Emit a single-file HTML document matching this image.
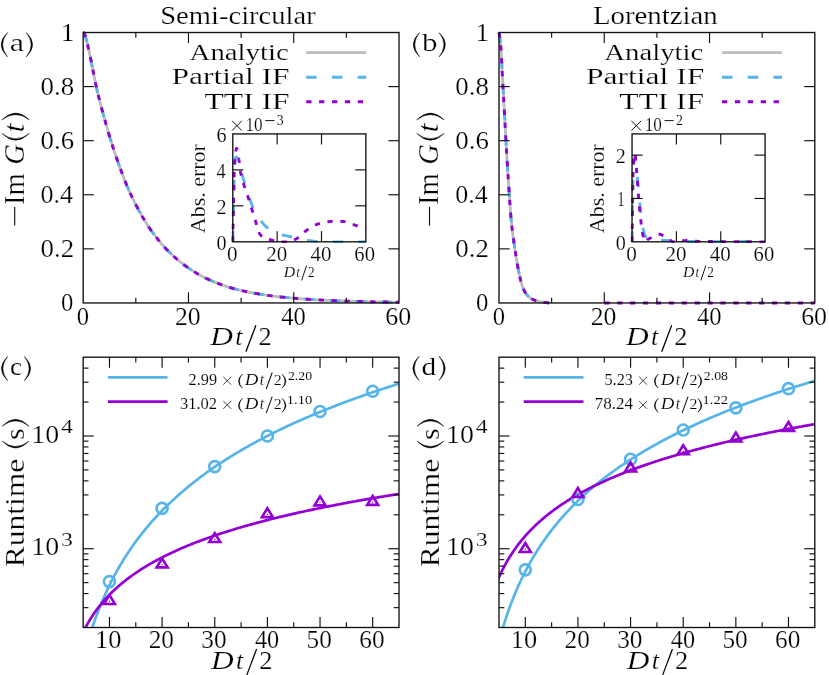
<!DOCTYPE html>
<html><head><meta charset="utf-8"><title>figure</title>
<style>
html,body{margin:0;padding:0;background:#fff;}
svg{display:block;}
text{font-family:"Liberation Serif",serif;fill:#000;}
</style></head>
<body>
<svg width="829" height="675" viewBox="0 0 829 675">
<defs>
<filter id="gs" x="0" y="0" width="829" height="675" filterUnits="userSpaceOnUse" color-interpolation-filters="sRGB"><feColorMatrix type="saturate" values="0"/></filter>
<clipPath id="ca"><rect x="81.2" y="30.5" width="319.8" height="274.45"/></clipPath>
<clipPath id="ia"><rect x="231.3" y="132.4" width="136.05" height="110.9"/></clipPath>
<clipPath id="cb"><rect x="497" y="30.5" width="319.8" height="274.45"/></clipPath>
<clipPath id="ib"><rect x="630.55" y="132.4" width="136.05" height="110.9"/></clipPath>
<clipPath id="cc"><rect x="83.15" y="357.2" width="315.85" height="270.3"/></clipPath>
<clipPath id="cd"><rect x="499" y="357.2" width="315.8" height="270.3"/></clipPath>
</defs>
<rect x="0" y="0" width="829" height="675" fill="#fff"/>
<path d="M83.2,32.5 L83.36,32.52 L83.52,32.59 L83.67,32.69 L83.83,32.84 L83.99,33.03 L84.15,33.25 L84.31,33.51 L84.47,33.82 L84.62,34.15 L84.78,34.52 L84.94,34.93 L85.1,35.38 L85.26,35.87 L85.42,36.39 L85.57,36.94 L85.73,37.5 L85.89,38.08 L86.05,38.66 L86.21,39.24 L86.37,39.83 L86.52,40.42 L86.68,41.02 L86.84,41.63 L87,42.25 L87.16,42.87 L87.32,43.5 L87.47,44.14 L87.63,44.79 L87.79,45.45 L87.95,46.13 L88.11,46.81 L88.27,47.5 L88.42,48.2 L88.58,48.9 L88.74,49.61 L88.9,50.33 L89.06,51.05 L89.22,51.78 L89.37,52.52 L89.53,53.27 L89.69,54.02 L89.85,54.77 L90.01,55.54 L90.17,56.32 L90.32,57.1 L90.48,57.88 L90.64,58.68 L90.8,59.47 L90.96,60.27 L91.11,61.07 L91.27,61.87 L91.43,62.67 L91.59,63.46 L91.75,64.26 L91.91,65.05 L92.06,65.84 L92.22,66.63 L92.38,67.42 L92.54,68.21 L92.7,69 L92.86,69.79 L93.01,70.58 L93.17,71.37 L93.33,72.16 L93.49,72.95 L93.65,73.75 L93.81,74.54 L93.96,75.34 L94.12,76.13 L94.28,76.93 L94.44,77.73 L94.6,78.52 L94.76,79.31 L94.91,80.11 L95.07,80.9 L95.23,81.7 L95.39,82.5 L95.55,83.31 L95.71,84.12 L95.86,84.92 L96.02,85.68 L96.18,86.41 L96.34,87.1 L96.5,87.79 L96.66,88.48 L96.81,89.16 L96.97,89.83 L97.13,90.5 L97.29,91.16 L97.45,91.83 L97.6,92.48 L97.76,93.13 L97.92,93.78 L98.08,94.43 L98.24,95.07 L98.4,95.7 L98.55,96.34 L98.71,96.97 L98.87,97.6 L99.03,98.22 L99.19,98.85 L99.35,99.47 L99.5,100.09 L99.66,100.71 L99.82,101.33 L99.98,101.94 L100.14,102.56 L100.3,103.17 L100.45,103.79 L100.61,104.39 L100.77,105 L100.93,105.61 L101.09,106.21 L101.25,106.81 L101.4,107.41 L101.56,108 L101.72,108.59 L101.88,109.19 L102.04,109.78 L102.2,110.36 L102.35,110.95 L102.51,111.54 L102.67,112.12 L102.83,112.7 L102.99,113.28 L103.15,113.86 L103.3,114.43 L103.46,115.01 L103.62,115.58 L103.78,116.16 L103.94,116.73 L104.1,117.3 L104.25,117.87 L104.41,118.44 L104.57,119.01 L104.73,119.57 L104.89,120.14 L105.04,120.71 L105.2,121.27 L105.36,121.84 L105.52,122.4 L105.68,122.96 L105.84,123.52 L105.99,124.08 L106.15,124.64 L106.31,125.2 L106.47,125.76 L106.63,126.32 L106.79,126.87 L106.94,127.42 L107.1,127.98 L107.26,128.53 L107.42,129.08 L107.58,129.62 L107.74,130.17 L107.89,130.72 L108.05,131.26 L108.21,131.8 L108.37,132.34 L108.53,132.88 L108.69,133.42 L108.84,133.96 L109,134.49 L109.16,135.02 L109.32,135.55 L109.48,136.08 L109.64,136.61 L109.79,137.13 L109.95,137.66 L110.11,138.18 L110.27,138.7 L110.43,139.22 L110.59,139.73 L110.74,140.24 L110.9,140.75 L111.06,141.26 L111.22,141.77 L111.38,142.28 L111.53,142.78 L111.69,143.28 L111.85,143.78 L112.01,144.28 L112.17,144.78 L112.33,145.27 L112.48,145.76 L112.64,146.26 L112.8,146.75 L112.96,147.23 L113.12,147.72 L113.28,148.21 L113.43,148.69 L113.59,149.17 L113.75,149.65 L113.91,150.13 L114.07,150.61 L114.23,151.09 L114.38,151.56 L114.54,152.04 L114.7,152.51 L114.86,152.98 L115.02,153.45 L115.18,153.92 L115.33,154.38 L115.49,154.85 L115.65,155.31 L115.81,155.78 L115.97,156.24 L116.13,156.7 L116.28,157.16 L116.44,157.62 L116.6,158.07 L116.76,158.53 L116.92,158.99 L117.08,159.44 L117.23,159.89 L117.39,160.35 L117.55,160.8 L117.71,161.25 L117.87,161.7 L118.03,162.15 L118.18,162.59 L118.34,163.04 L118.5,163.49 L118.66,163.93 L118.82,164.38 L118.97,164.82 L119.13,165.27 L119.29,165.71 L119.45,166.15 L119.61,166.59 L119.77,167.03 L119.92,167.47 L120.08,167.91 L120.24,168.35 L120.4,168.79 L120.56,169.23 L120.72,169.66 L120.87,170.1 L121.03,170.53 L121.19,170.96 L121.35,171.39 L121.51,171.82 L121.67,172.25 L121.82,172.68 L121.98,173.11 L122.14,173.53 L122.3,173.96 L122.46,174.38 L122.62,174.8 L122.77,175.23 L122.93,175.65 L123.09,176.06 L123.25,176.48 L123.41,176.9 L123.57,177.31 L123.72,177.72 L123.88,178.13 L124.04,178.54 L124.2,178.95 L124.36,179.36 L124.52,179.76 L124.67,180.17 L124.83,180.57 L124.99,180.97 L125.15,181.37 L125.31,181.76 L125.46,182.16 L125.62,182.55 L125.78,182.94 L125.94,183.33 L126.1,183.72 L126.26,184.11 L126.41,184.49 L126.57,184.87 L126.73,185.25 L126.89,185.63 L127.05,186 L127.21,186.38 L127.36,186.75 L127.52,187.12 L127.68,187.49 L127.84,187.85 L128,188.22 L128.16,188.58 L128.31,188.94 L128.47,189.3 L128.63,189.65 L128.79,190.01 L128.95,190.37 L129.11,190.72 L129.26,191.07 L129.42,191.42 L129.58,191.77 L129.74,192.12 L129.9,192.47 L130.06,192.82 L130.21,193.16 L130.37,193.5 L130.53,193.85 L130.69,194.19 L130.85,194.53 L131.01,194.87 L131.16,195.2 L131.32,195.54 L131.48,195.88 L131.64,196.21 L131.8,196.54 L131.96,196.88 L132.11,197.21 L132.27,197.54 L132.43,197.87 L132.59,198.19 L132.75,198.52 L132.9,198.84 L133.06,199.17 L133.22,199.49 L133.38,199.81 L133.54,200.14 L133.7,200.46 L133.85,200.77 L134.01,201.09 L134.17,201.41 L134.33,201.73 L134.49,202.04 L134.65,202.35 L134.8,202.67 L134.96,202.98 L135.12,203.29 L135.28,203.6 L135.44,203.91 L135.6,204.22 L135.75,204.53 L135.91,204.83 L136.07,205.14 L136.23,205.44 L136.39,205.75 L136.55,206.05 L136.7,206.35 L136.86,206.65 L137.02,206.95 L137.18,207.25 L137.34,207.55 L137.5,207.85 L137.65,208.14 L137.81,208.44 L137.97,208.74 L138.13,209.03 L138.29,209.32 L138.45,209.62 L138.6,209.91 L138.76,210.2 L138.92,210.49 L139.08,210.78 L139.24,211.07 L139.39,211.36 L139.55,211.64 L139.71,211.93 L139.87,212.22 L140.03,212.5 L140.19,212.78 L140.34,213.07 L140.5,213.35 L140.66,213.63 L140.82,213.91 L140.98,214.19 L141.14,214.47 L141.29,214.75 L141.45,215.02 L141.61,215.3 L141.77,215.57 L141.93,215.85 L142.09,216.12 L142.24,216.4 L142.4,216.67 L142.56,216.94 L142.72,217.21 L142.88,217.48 L143.04,217.75 L143.19,218.01 L143.35,218.28 L143.51,218.55 L143.67,218.81 L143.83,219.08 L143.99,219.34 L144.14,219.6 L144.3,219.87 L144.46,220.13 L144.62,220.39 L144.78,220.65 L144.94,220.91 L145.09,221.16 L145.25,221.42 L145.41,221.68 L145.57,221.93 L145.73,222.19 L145.89,222.44 L146.04,222.69 L146.2,222.95 L146.36,223.2 L146.99,224.19 L147.63,225.18 L148.26,226.15 L148.89,227.11 L149.53,228.05 L150.16,228.98 L150.79,229.9 L151.43,230.81 L152.06,231.7 L152.69,232.58 L153.33,233.45 L153.96,234.31 L154.59,235.16 L155.22,236 L155.86,236.83 L156.49,237.64 L157.12,238.45 L157.76,239.25 L158.39,240.03 L159.02,240.81 L159.66,241.58 L160.29,242.33 L160.92,243.08 L161.56,243.82 L162.19,244.55 L162.82,245.27 L163.46,245.98 L164.09,246.68 L164.72,247.37 L165.36,248.05 L165.99,248.73 L166.62,249.4 L167.26,250.05 L167.89,250.7 L168.52,251.35 L169.15,251.98 L169.79,252.61 L170.42,253.22 L171.05,253.84 L171.69,254.44 L172.32,255.03 L172.95,255.62 L173.59,256.2 L174.22,256.78 L174.85,257.34 L175.49,257.9 L176.12,258.46 L176.75,259 L177.39,259.54 L178.02,260.08 L178.65,260.6 L179.29,261.12 L179.92,261.64 L180.55,262.14 L181.19,262.65 L181.82,263.14 L182.45,263.63 L183.08,264.11 L183.72,264.59 L184.35,265.06 L184.98,265.53 L185.62,265.99 L186.25,266.44 L186.88,266.89 L187.52,267.34 L188.15,267.78 L188.78,268.21 L189.42,268.64 L190.05,269.07 L190.68,269.48 L191.32,269.9 L191.95,270.31 L192.58,270.71 L193.22,271.11 L193.85,271.51 L194.48,271.9 L195.12,272.28 L195.75,272.67 L196.38,273.04 L197.01,273.41 L197.65,273.78 L198.28,274.15 L198.91,274.5 L199.55,274.86 L200.18,275.21 L200.81,275.56 L201.45,275.9 L202.08,276.24 L202.71,276.57 L203.35,276.9 L203.98,277.22 L204.61,277.55 L205.25,277.86 L205.88,278.18 L206.51,278.49 L207.15,278.79 L207.78,279.09 L208.41,279.39 L209.05,279.69 L209.68,279.98 L210.31,280.27 L210.94,280.55 L211.58,280.83 L212.21,281.1 L212.84,281.38 L213.48,281.65 L214.11,281.91 L214.74,282.17 L215.38,282.43 L216.01,282.69 L216.64,282.94 L217.28,283.19 L217.91,283.44 L218.54,283.68 L219.18,283.92 L219.81,284.15 L220.44,284.39 L221.08,284.62 L221.71,284.84 L222.34,285.07 L222.98,285.29 L223.61,285.5 L224.24,285.72 L224.87,285.93 L225.51,286.14 L226.14,286.35 L226.77,286.55 L227.41,286.75 L228.04,286.95 L228.67,287.14 L229.31,287.33 L229.94,287.52 L230.57,287.71 L231.21,287.89 L231.84,288.08 L232.47,288.26 L233.11,288.43 L233.74,288.61 L234.37,288.78 L235.01,288.95 L235.64,289.11 L236.27,289.28 L236.91,289.44 L237.54,289.6 L238.17,289.76 L238.8,289.91 L239.44,290.06 L240.07,290.21 L240.7,290.36 L241.34,290.51 L241.97,290.66 L242.6,290.8 L243.24,290.95 L243.87,291.09 L244.5,291.23 L245.14,291.37 L245.77,291.5 L246.4,291.64 L247.04,291.77 L247.67,291.9 L248.3,292.03 L248.94,292.16 L249.57,292.29 L250.2,292.41 L250.84,292.54 L251.47,292.66 L252.1,292.78 L252.73,292.9 L253.37,293.02 L254,293.13 L254.63,293.25 L255.27,293.36 L255.9,293.48 L256.53,293.59 L257.17,293.7 L257.8,293.8 L258.43,293.91 L259.07,294.02 L259.7,294.12 L260.33,294.22 L260.97,294.33 L261.6,294.43 L262.23,294.53 L262.87,294.62 L263.5,294.72 L264.13,294.82 L264.77,294.91 L265.4,295 L266.03,295.1 L266.66,295.19 L267.3,295.28 L267.93,295.37 L268.56,295.45 L269.2,295.54 L269.83,295.63 L270.46,295.71 L271.1,295.79 L271.73,295.88 L272.36,295.96 L273,296.04 L273.63,296.12 L274.26,296.2 L274.9,296.27 L275.53,296.35 L276.16,296.43 L276.8,296.5 L277.43,296.58 L278.06,296.65 L278.7,296.72 L279.33,296.79 L279.96,296.86 L280.59,296.93 L281.23,297 L281.86,297.07 L282.49,297.14 L283.13,297.2 L283.76,297.27 L284.39,297.33 L285.03,297.4 L285.66,297.46 L286.29,297.52 L286.93,297.59 L287.56,297.65 L288.19,297.71 L288.83,297.77 L289.46,297.83 L290.09,297.88 L290.73,297.94 L291.36,298 L291.99,298.05 L292.63,298.11 L293.26,298.16 L293.89,298.22 L294.52,298.27 L295.16,298.33 L295.79,298.38 L296.42,298.43 L297.06,298.48 L297.69,298.53 L298.32,298.58 L298.96,298.63 L299.59,298.68 L300.22,298.73 L300.86,298.77 L301.49,298.82 L302.12,298.87 L302.76,298.91 L303.39,298.96 L304.02,299 L304.66,299.05 L305.29,299.09 L305.92,299.13 L306.56,299.18 L307.19,299.22 L307.82,299.26 L308.45,299.3 L309.09,299.34 L309.72,299.38 L310.35,299.42 L310.99,299.46 L311.62,299.5 L312.25,299.54 L312.89,299.58 L313.52,299.62 L314.15,299.65 L314.79,299.69 L315.42,299.73 L316.05,299.76 L316.69,299.8 L317.32,299.83 L317.95,299.87 L318.59,299.9 L319.22,299.93 L319.85,299.97 L320.49,300 L321.12,300.03 L321.75,300.07 L322.38,300.1 L323.02,300.13 L323.65,300.16 L324.28,300.19 L324.92,300.22 L325.55,300.25 L326.18,300.28 L326.82,300.31 L327.45,300.34 L328.08,300.37 L328.72,300.4 L329.35,300.43 L329.98,300.45 L330.62,300.48 L331.25,300.51 L331.88,300.54 L332.52,300.56 L333.15,300.59 L333.78,300.61 L334.42,300.64 L335.05,300.67 L335.68,300.69 L336.31,300.72 L336.95,300.74 L337.58,300.76 L338.21,300.79 L338.85,300.81 L339.48,300.84 L340.11,300.86 L340.75,300.88 L341.38,300.91 L342.01,300.93 L342.65,300.95 L343.28,300.97 L343.91,300.99 L344.55,301.02 L345.18,301.04 L345.81,301.06 L346.45,301.08 L347.08,301.1 L347.71,301.12 L348.35,301.14 L348.98,301.16 L349.61,301.18 L350.24,301.2 L350.88,301.22 L351.51,301.24 L352.14,301.26 L352.78,301.28 L353.41,301.29 L354.04,301.31 L354.68,301.33 L355.31,301.35 L355.94,301.37 L356.58,301.38 L357.21,301.4 L357.84,301.42 L358.48,301.44 L359.11,301.45 L359.74,301.47 L360.38,301.49 L361.01,301.5 L361.64,301.52 L362.28,301.53 L362.91,301.55 L363.54,301.57 L364.17,301.58 L364.81,301.6 L365.44,301.61 L366.07,301.63 L366.71,301.64 L367.34,301.66 L367.97,301.67 L368.61,301.69 L369.24,301.7 L369.87,301.71 L370.51,301.73 L371.14,301.74 L371.77,301.76 L372.41,301.77 L373.04,301.78 L373.67,301.8 L374.31,301.81 L374.94,301.82 L375.57,301.84 L376.21,301.85 L376.84,301.86 L377.47,301.87 L378.1,301.89 L378.74,301.9 L379.37,301.91 L380,301.92 L380.64,301.93 L381.27,301.95 L381.9,301.96 L382.54,301.97 L383.17,301.98 L383.8,301.99 L384.44,302 L385.07,302.02 L385.7,302.03 L386.34,302.04 L386.97,302.05 L387.6,302.06 L388.24,302.07 L388.87,302.08 L389.5,302.09 L390.14,302.1 L390.77,302.11 L391.4,302.12 L392.03,302.13 L392.67,302.14 L393.3,302.15 L393.93,302.16 L394.57,302.17 L395.2,302.18 L395.83,302.19 L396.47,302.2 L397.1,302.21 L397.73,302.22 L398.37,302.23 L399,302.24" fill="none" stroke="#bcbcbc" stroke-width="2.85" stroke-linejoin="round" clip-path="url(#ca)" />
<path d="M83.2,32.5 L83.36,32.52 L83.52,32.59 L83.67,32.69 L83.83,32.84 L83.99,33.03 L84.15,33.25 L84.31,33.51 L84.47,33.82 L84.62,34.15 L84.78,34.52 L84.94,34.93 L85.1,35.38 L85.26,35.87 L85.42,36.39 L85.57,36.94 L85.73,37.5 L85.89,38.08 L86.05,38.66 L86.21,39.24 L86.37,39.83 L86.52,40.42 L86.68,41.02 L86.84,41.63 L87,42.25 L87.16,42.87 L87.32,43.5 L87.47,44.14 L87.63,44.79 L87.79,45.45 L87.95,46.13 L88.11,46.81 L88.27,47.5 L88.42,48.2 L88.58,48.9 L88.74,49.61 L88.9,50.33 L89.06,51.05 L89.22,51.78 L89.37,52.52 L89.53,53.27 L89.69,54.02 L89.85,54.77 L90.01,55.54 L90.17,56.32 L90.32,57.1 L90.48,57.88 L90.64,58.68 L90.8,59.47 L90.96,60.27 L91.11,61.07 L91.27,61.87 L91.43,62.67 L91.59,63.46 L91.75,64.26 L91.91,65.05 L92.06,65.84 L92.22,66.63 L92.38,67.42 L92.54,68.21 L92.7,69 L92.86,69.79 L93.01,70.58 L93.17,71.37 L93.33,72.16 L93.49,72.95 L93.65,73.75 L93.81,74.54 L93.96,75.34 L94.12,76.13 L94.28,76.93 L94.44,77.73 L94.6,78.52 L94.76,79.31 L94.91,80.11 L95.07,80.9 L95.23,81.7 L95.39,82.5 L95.55,83.31 L95.71,84.12 L95.86,84.92 L96.02,85.68 L96.18,86.41 L96.34,87.1 L96.5,87.79 L96.66,88.48 L96.81,89.16 L96.97,89.83 L97.13,90.5 L97.29,91.16 L97.45,91.83 L97.6,92.48 L97.76,93.13 L97.92,93.78 L98.08,94.43 L98.24,95.07 L98.4,95.7 L98.55,96.34 L98.71,96.97 L98.87,97.6 L99.03,98.22 L99.19,98.85 L99.35,99.47 L99.5,100.09 L99.66,100.71 L99.82,101.33 L99.98,101.94 L100.14,102.56 L100.3,103.17 L100.45,103.79 L100.61,104.39 L100.77,105 L100.93,105.61 L101.09,106.21 L101.25,106.81 L101.4,107.41 L101.56,108 L101.72,108.59 L101.88,109.19 L102.04,109.78 L102.2,110.36 L102.35,110.95 L102.51,111.54 L102.67,112.12 L102.83,112.7 L102.99,113.28 L103.15,113.86 L103.3,114.43 L103.46,115.01 L103.62,115.58 L103.78,116.16 L103.94,116.73 L104.1,117.3 L104.25,117.87 L104.41,118.44 L104.57,119.01 L104.73,119.57 L104.89,120.14 L105.04,120.71 L105.2,121.27 L105.36,121.84 L105.52,122.4 L105.68,122.96 L105.84,123.52 L105.99,124.08 L106.15,124.64 L106.31,125.2 L106.47,125.76 L106.63,126.32 L106.79,126.87 L106.94,127.42 L107.1,127.98 L107.26,128.53 L107.42,129.08 L107.58,129.62 L107.74,130.17 L107.89,130.72 L108.05,131.26 L108.21,131.8 L108.37,132.34 L108.53,132.88 L108.69,133.42 L108.84,133.96 L109,134.49 L109.16,135.02 L109.32,135.55 L109.48,136.08 L109.64,136.61 L109.79,137.13 L109.95,137.66 L110.11,138.18 L110.27,138.7 L110.43,139.22 L110.59,139.73 L110.74,140.24 L110.9,140.75 L111.06,141.26 L111.22,141.77 L111.38,142.28 L111.53,142.78 L111.69,143.28 L111.85,143.78 L112.01,144.28 L112.17,144.78 L112.33,145.27 L112.48,145.76 L112.64,146.26 L112.8,146.75 L112.96,147.23 L113.12,147.72 L113.28,148.21 L113.43,148.69 L113.59,149.17 L113.75,149.65 L113.91,150.13 L114.07,150.61 L114.23,151.09 L114.38,151.56 L114.54,152.04 L114.7,152.51 L114.86,152.98 L115.02,153.45 L115.18,153.92 L115.33,154.38 L115.49,154.85 L115.65,155.31 L115.81,155.78 L115.97,156.24 L116.13,156.7 L116.28,157.16 L116.44,157.62 L116.6,158.07 L116.76,158.53 L116.92,158.99 L117.08,159.44 L117.23,159.89 L117.39,160.35 L117.55,160.8 L117.71,161.25 L117.87,161.7 L118.03,162.15 L118.18,162.59 L118.34,163.04 L118.5,163.49 L118.66,163.93 L118.82,164.38 L118.97,164.82 L119.13,165.27 L119.29,165.71 L119.45,166.15 L119.61,166.59 L119.77,167.03 L119.92,167.47 L120.08,167.91 L120.24,168.35 L120.4,168.79 L120.56,169.23 L120.72,169.66 L120.87,170.1 L121.03,170.53 L121.19,170.96 L121.35,171.39 L121.51,171.82 L121.67,172.25 L121.82,172.68 L121.98,173.11 L122.14,173.53 L122.3,173.96 L122.46,174.38 L122.62,174.8 L122.77,175.23 L122.93,175.65 L123.09,176.06 L123.25,176.48 L123.41,176.9 L123.57,177.31 L123.72,177.72 L123.88,178.13 L124.04,178.54 L124.2,178.95 L124.36,179.36 L124.52,179.76 L124.67,180.17 L124.83,180.57 L124.99,180.97 L125.15,181.37 L125.31,181.76 L125.46,182.16 L125.62,182.55 L125.78,182.94 L125.94,183.33 L126.1,183.72 L126.26,184.11 L126.41,184.49 L126.57,184.87 L126.73,185.25 L126.89,185.63 L127.05,186 L127.21,186.38 L127.36,186.75 L127.52,187.12 L127.68,187.49 L127.84,187.85 L128,188.22 L128.16,188.58 L128.31,188.94 L128.47,189.3 L128.63,189.65 L128.79,190.01 L128.95,190.37 L129.11,190.72 L129.26,191.07 L129.42,191.42 L129.58,191.77 L129.74,192.12 L129.9,192.47 L130.06,192.82 L130.21,193.16 L130.37,193.5 L130.53,193.85 L130.69,194.19 L130.85,194.53 L131.01,194.87 L131.16,195.2 L131.32,195.54 L131.48,195.88 L131.64,196.21 L131.8,196.54 L131.96,196.88 L132.11,197.21 L132.27,197.54 L132.43,197.87 L132.59,198.19 L132.75,198.52 L132.9,198.84 L133.06,199.17 L133.22,199.49 L133.38,199.81 L133.54,200.14 L133.7,200.46 L133.85,200.77 L134.01,201.09 L134.17,201.41 L134.33,201.73 L134.49,202.04 L134.65,202.35 L134.8,202.67 L134.96,202.98 L135.12,203.29 L135.28,203.6 L135.44,203.91 L135.6,204.22 L135.75,204.53 L135.91,204.83 L136.07,205.14 L136.23,205.44 L136.39,205.75 L136.55,206.05 L136.7,206.35 L136.86,206.65 L137.02,206.95 L137.18,207.25 L137.34,207.55 L137.5,207.85 L137.65,208.14 L137.81,208.44 L137.97,208.74 L138.13,209.03 L138.29,209.32 L138.45,209.62 L138.6,209.91 L138.76,210.2 L138.92,210.49 L139.08,210.78 L139.24,211.07 L139.39,211.36 L139.55,211.64 L139.71,211.93 L139.87,212.22 L140.03,212.5 L140.19,212.78 L140.34,213.07 L140.5,213.35 L140.66,213.63 L140.82,213.91 L140.98,214.19 L141.14,214.47 L141.29,214.75 L141.45,215.02 L141.61,215.3 L141.77,215.57 L141.93,215.85 L142.09,216.12 L142.24,216.4 L142.4,216.67 L142.56,216.94 L142.72,217.21 L142.88,217.48 L143.04,217.75 L143.19,218.01 L143.35,218.28 L143.51,218.55 L143.67,218.81 L143.83,219.08 L143.99,219.34 L144.14,219.6 L144.3,219.87 L144.46,220.13 L144.62,220.39 L144.78,220.65 L144.94,220.91 L145.09,221.16 L145.25,221.42 L145.41,221.68 L145.57,221.93 L145.73,222.19 L145.89,222.44 L146.04,222.69 L146.2,222.95 L146.36,223.2 L146.99,224.19 L147.63,225.18 L148.26,226.15 L148.89,227.11 L149.53,228.05 L150.16,228.98 L150.79,229.9 L151.43,230.81 L152.06,231.7 L152.69,232.58 L153.33,233.45 L153.96,234.31 L154.59,235.16 L155.22,236 L155.86,236.83 L156.49,237.64 L157.12,238.45 L157.76,239.25 L158.39,240.03 L159.02,240.81 L159.66,241.58 L160.29,242.33 L160.92,243.08 L161.56,243.82 L162.19,244.55 L162.82,245.27 L163.46,245.98 L164.09,246.68 L164.72,247.37 L165.36,248.05 L165.99,248.73 L166.62,249.4 L167.26,250.05 L167.89,250.7 L168.52,251.35 L169.15,251.98 L169.79,252.61 L170.42,253.22 L171.05,253.84 L171.69,254.44 L172.32,255.03 L172.95,255.62 L173.59,256.2 L174.22,256.78 L174.85,257.34 L175.49,257.9 L176.12,258.46 L176.75,259 L177.39,259.54 L178.02,260.08 L178.65,260.6 L179.29,261.12 L179.92,261.64 L180.55,262.14 L181.19,262.65 L181.82,263.14 L182.45,263.63 L183.08,264.11 L183.72,264.59 L184.35,265.06 L184.98,265.53 L185.62,265.99 L186.25,266.44 L186.88,266.89 L187.52,267.34 L188.15,267.78 L188.78,268.21 L189.42,268.64 L190.05,269.07 L190.68,269.48 L191.32,269.9 L191.95,270.31 L192.58,270.71 L193.22,271.11 L193.85,271.51 L194.48,271.9 L195.12,272.28 L195.75,272.67 L196.38,273.04 L197.01,273.41 L197.65,273.78 L198.28,274.15 L198.91,274.5 L199.55,274.86 L200.18,275.21 L200.81,275.56 L201.45,275.9 L202.08,276.24 L202.71,276.57 L203.35,276.9 L203.98,277.22 L204.61,277.55 L205.25,277.86 L205.88,278.18 L206.51,278.49 L207.15,278.79 L207.78,279.09 L208.41,279.39 L209.05,279.69 L209.68,279.98 L210.31,280.27 L210.94,280.55 L211.58,280.83 L212.21,281.1 L212.84,281.38 L213.48,281.65 L214.11,281.91 L214.74,282.17 L215.38,282.43 L216.01,282.69 L216.64,282.94 L217.28,283.19 L217.91,283.44 L218.54,283.68 L219.18,283.92 L219.81,284.15 L220.44,284.39 L221.08,284.62 L221.71,284.84 L222.34,285.07 L222.98,285.29 L223.61,285.5 L224.24,285.72 L224.87,285.93 L225.51,286.14 L226.14,286.35 L226.77,286.55 L227.41,286.75 L228.04,286.95 L228.67,287.14 L229.31,287.33 L229.94,287.52 L230.57,287.71 L231.21,287.89 L231.84,288.08 L232.47,288.26 L233.11,288.43 L233.74,288.61 L234.37,288.78 L235.01,288.95 L235.64,289.11 L236.27,289.28 L236.91,289.44 L237.54,289.6 L238.17,289.76 L238.8,289.91 L239.44,290.06 L240.07,290.21 L240.7,290.36 L241.34,290.51 L241.97,290.66 L242.6,290.8 L243.24,290.95 L243.87,291.09 L244.5,291.23 L245.14,291.37 L245.77,291.5 L246.4,291.64 L247.04,291.77 L247.67,291.9 L248.3,292.03 L248.94,292.16 L249.57,292.29 L250.2,292.41 L250.84,292.54 L251.47,292.66 L252.1,292.78 L252.73,292.9 L253.37,293.02 L254,293.13 L254.63,293.25 L255.27,293.36 L255.9,293.48 L256.53,293.59 L257.17,293.7 L257.8,293.8 L258.43,293.91 L259.07,294.02 L259.7,294.12 L260.33,294.22 L260.97,294.33 L261.6,294.43 L262.23,294.53 L262.87,294.62 L263.5,294.72 L264.13,294.82 L264.77,294.91 L265.4,295 L266.03,295.1 L266.66,295.19 L267.3,295.28 L267.93,295.37 L268.56,295.45 L269.2,295.54 L269.83,295.63 L270.46,295.71 L271.1,295.79 L271.73,295.88 L272.36,295.96 L273,296.04 L273.63,296.12 L274.26,296.2 L274.9,296.27 L275.53,296.35 L276.16,296.43 L276.8,296.5 L277.43,296.58 L278.06,296.65 L278.7,296.72 L279.33,296.79 L279.96,296.86 L280.59,296.93 L281.23,297 L281.86,297.07 L282.49,297.14 L283.13,297.2 L283.76,297.27 L284.39,297.33 L285.03,297.4 L285.66,297.46 L286.29,297.52 L286.93,297.59 L287.56,297.65 L288.19,297.71 L288.83,297.77 L289.46,297.83 L290.09,297.88 L290.73,297.94 L291.36,298 L291.99,298.05 L292.63,298.11 L293.26,298.16 L293.89,298.22 L294.52,298.27 L295.16,298.33 L295.79,298.38 L296.42,298.43 L297.06,298.48 L297.69,298.53 L298.32,298.58 L298.96,298.63 L299.59,298.68 L300.22,298.73 L300.86,298.77 L301.49,298.82 L302.12,298.87 L302.76,298.91 L303.39,298.96 L304.02,299 L304.66,299.05 L305.29,299.09 L305.92,299.13 L306.56,299.18 L307.19,299.22 L307.82,299.26 L308.45,299.3 L309.09,299.34 L309.72,299.38 L310.35,299.42 L310.99,299.46 L311.62,299.5 L312.25,299.54 L312.89,299.58 L313.52,299.62 L314.15,299.65 L314.79,299.69 L315.42,299.73 L316.05,299.76 L316.69,299.8 L317.32,299.83 L317.95,299.87 L318.59,299.9 L319.22,299.93 L319.85,299.97 L320.49,300 L321.12,300.03 L321.75,300.07 L322.38,300.1 L323.02,300.13 L323.65,300.16 L324.28,300.19 L324.92,300.22 L325.55,300.25 L326.18,300.28 L326.82,300.31 L327.45,300.34 L328.08,300.37 L328.72,300.4 L329.35,300.43 L329.98,300.45 L330.62,300.48 L331.25,300.51 L331.88,300.54 L332.52,300.56 L333.15,300.59 L333.78,300.61 L334.42,300.64 L335.05,300.67 L335.68,300.69 L336.31,300.72 L336.95,300.74 L337.58,300.76 L338.21,300.79 L338.85,300.81 L339.48,300.84 L340.11,300.86 L340.75,300.88 L341.38,300.91 L342.01,300.93 L342.65,300.95 L343.28,300.97 L343.91,300.99 L344.55,301.02 L345.18,301.04 L345.81,301.06 L346.45,301.08 L347.08,301.1 L347.71,301.12 L348.35,301.14 L348.98,301.16 L349.61,301.18 L350.24,301.2 L350.88,301.22 L351.51,301.24 L352.14,301.26 L352.78,301.28 L353.41,301.29 L354.04,301.31 L354.68,301.33 L355.31,301.35 L355.94,301.37 L356.58,301.38 L357.21,301.4 L357.84,301.42 L358.48,301.44 L359.11,301.45 L359.74,301.47 L360.38,301.49 L361.01,301.5 L361.64,301.52 L362.28,301.53 L362.91,301.55 L363.54,301.57 L364.17,301.58 L364.81,301.6 L365.44,301.61 L366.07,301.63 L366.71,301.64 L367.34,301.66 L367.97,301.67 L368.61,301.69 L369.24,301.7 L369.87,301.71 L370.51,301.73 L371.14,301.74 L371.77,301.76 L372.41,301.77 L373.04,301.78 L373.67,301.8 L374.31,301.81 L374.94,301.82 L375.57,301.84 L376.21,301.85 L376.84,301.86 L377.47,301.87 L378.1,301.89 L378.74,301.9 L379.37,301.91 L380,301.92 L380.64,301.93 L381.27,301.95 L381.9,301.96 L382.54,301.97 L383.17,301.98 L383.8,301.99 L384.44,302 L385.07,302.02 L385.7,302.03 L386.34,302.04 L386.97,302.05 L387.6,302.06 L388.24,302.07 L388.87,302.08 L389.5,302.09 L390.14,302.1 L390.77,302.11 L391.4,302.12 L392.03,302.13 L392.67,302.14 L393.3,302.15 L393.93,302.16 L394.57,302.17 L395.2,302.18 L395.83,302.19 L396.47,302.2 L397.1,302.21 L397.73,302.22 L398.37,302.23 L399,302.24" fill="none" stroke="#56b4e9" stroke-width="2.85" stroke-linejoin="round" stroke-dasharray="10.5 15.2" clip-path="url(#ca)" />
<path d="M83.2,32.5 L83.36,32.52 L83.52,32.59 L83.67,32.69 L83.83,32.84 L83.99,33.03 L84.15,33.25 L84.31,33.51 L84.47,33.82 L84.62,34.15 L84.78,34.52 L84.94,34.93 L85.1,35.38 L85.26,35.87 L85.42,36.39 L85.57,36.94 L85.73,37.5 L85.89,38.08 L86.05,38.66 L86.21,39.24 L86.37,39.83 L86.52,40.42 L86.68,41.02 L86.84,41.63 L87,42.25 L87.16,42.87 L87.32,43.5 L87.47,44.14 L87.63,44.79 L87.79,45.45 L87.95,46.13 L88.11,46.81 L88.27,47.5 L88.42,48.2 L88.58,48.9 L88.74,49.61 L88.9,50.33 L89.06,51.05 L89.22,51.78 L89.37,52.52 L89.53,53.27 L89.69,54.02 L89.85,54.77 L90.01,55.54 L90.17,56.32 L90.32,57.1 L90.48,57.88 L90.64,58.68 L90.8,59.47 L90.96,60.27 L91.11,61.07 L91.27,61.87 L91.43,62.67 L91.59,63.46 L91.75,64.26 L91.91,65.05 L92.06,65.84 L92.22,66.63 L92.38,67.42 L92.54,68.21 L92.7,69 L92.86,69.79 L93.01,70.58 L93.17,71.37 L93.33,72.16 L93.49,72.95 L93.65,73.75 L93.81,74.54 L93.96,75.34 L94.12,76.13 L94.28,76.93 L94.44,77.73 L94.6,78.52 L94.76,79.31 L94.91,80.11 L95.07,80.9 L95.23,81.7 L95.39,82.5 L95.55,83.31 L95.71,84.12 L95.86,84.92 L96.02,85.68 L96.18,86.41 L96.34,87.1 L96.5,87.79 L96.66,88.48 L96.81,89.16 L96.97,89.83 L97.13,90.5 L97.29,91.16 L97.45,91.83 L97.6,92.48 L97.76,93.13 L97.92,93.78 L98.08,94.43 L98.24,95.07 L98.4,95.7 L98.55,96.34 L98.71,96.97 L98.87,97.6 L99.03,98.22 L99.19,98.85 L99.35,99.47 L99.5,100.09 L99.66,100.71 L99.82,101.33 L99.98,101.94 L100.14,102.56 L100.3,103.17 L100.45,103.79 L100.61,104.39 L100.77,105 L100.93,105.61 L101.09,106.21 L101.25,106.81 L101.4,107.41 L101.56,108 L101.72,108.59 L101.88,109.19 L102.04,109.78 L102.2,110.36 L102.35,110.95 L102.51,111.54 L102.67,112.12 L102.83,112.7 L102.99,113.28 L103.15,113.86 L103.3,114.43 L103.46,115.01 L103.62,115.58 L103.78,116.16 L103.94,116.73 L104.1,117.3 L104.25,117.87 L104.41,118.44 L104.57,119.01 L104.73,119.57 L104.89,120.14 L105.04,120.71 L105.2,121.27 L105.36,121.84 L105.52,122.4 L105.68,122.96 L105.84,123.52 L105.99,124.08 L106.15,124.64 L106.31,125.2 L106.47,125.76 L106.63,126.32 L106.79,126.87 L106.94,127.42 L107.1,127.98 L107.26,128.53 L107.42,129.08 L107.58,129.62 L107.74,130.17 L107.89,130.72 L108.05,131.26 L108.21,131.8 L108.37,132.34 L108.53,132.88 L108.69,133.42 L108.84,133.96 L109,134.49 L109.16,135.02 L109.32,135.55 L109.48,136.08 L109.64,136.61 L109.79,137.13 L109.95,137.66 L110.11,138.18 L110.27,138.7 L110.43,139.22 L110.59,139.73 L110.74,140.24 L110.9,140.75 L111.06,141.26 L111.22,141.77 L111.38,142.28 L111.53,142.78 L111.69,143.28 L111.85,143.78 L112.01,144.28 L112.17,144.78 L112.33,145.27 L112.48,145.76 L112.64,146.26 L112.8,146.75 L112.96,147.23 L113.12,147.72 L113.28,148.21 L113.43,148.69 L113.59,149.17 L113.75,149.65 L113.91,150.13 L114.07,150.61 L114.23,151.09 L114.38,151.56 L114.54,152.04 L114.7,152.51 L114.86,152.98 L115.02,153.45 L115.18,153.92 L115.33,154.38 L115.49,154.85 L115.65,155.31 L115.81,155.78 L115.97,156.24 L116.13,156.7 L116.28,157.16 L116.44,157.62 L116.6,158.07 L116.76,158.53 L116.92,158.99 L117.08,159.44 L117.23,159.89 L117.39,160.35 L117.55,160.8 L117.71,161.25 L117.87,161.7 L118.03,162.15 L118.18,162.59 L118.34,163.04 L118.5,163.49 L118.66,163.93 L118.82,164.38 L118.97,164.82 L119.13,165.27 L119.29,165.71 L119.45,166.15 L119.61,166.59 L119.77,167.03 L119.92,167.47 L120.08,167.91 L120.24,168.35 L120.4,168.79 L120.56,169.23 L120.72,169.66 L120.87,170.1 L121.03,170.53 L121.19,170.96 L121.35,171.39 L121.51,171.82 L121.67,172.25 L121.82,172.68 L121.98,173.11 L122.14,173.53 L122.3,173.96 L122.46,174.38 L122.62,174.8 L122.77,175.23 L122.93,175.65 L123.09,176.06 L123.25,176.48 L123.41,176.9 L123.57,177.31 L123.72,177.72 L123.88,178.13 L124.04,178.54 L124.2,178.95 L124.36,179.36 L124.52,179.76 L124.67,180.17 L124.83,180.57 L124.99,180.97 L125.15,181.37 L125.31,181.76 L125.46,182.16 L125.62,182.55 L125.78,182.94 L125.94,183.33 L126.1,183.72 L126.26,184.11 L126.41,184.49 L126.57,184.87 L126.73,185.25 L126.89,185.63 L127.05,186 L127.21,186.38 L127.36,186.75 L127.52,187.12 L127.68,187.49 L127.84,187.85 L128,188.22 L128.16,188.58 L128.31,188.94 L128.47,189.3 L128.63,189.65 L128.79,190.01 L128.95,190.37 L129.11,190.72 L129.26,191.07 L129.42,191.42 L129.58,191.77 L129.74,192.12 L129.9,192.47 L130.06,192.82 L130.21,193.16 L130.37,193.5 L130.53,193.85 L130.69,194.19 L130.85,194.53 L131.01,194.87 L131.16,195.2 L131.32,195.54 L131.48,195.88 L131.64,196.21 L131.8,196.54 L131.96,196.88 L132.11,197.21 L132.27,197.54 L132.43,197.87 L132.59,198.19 L132.75,198.52 L132.9,198.84 L133.06,199.17 L133.22,199.49 L133.38,199.81 L133.54,200.14 L133.7,200.46 L133.85,200.77 L134.01,201.09 L134.17,201.41 L134.33,201.73 L134.49,202.04 L134.65,202.35 L134.8,202.67 L134.96,202.98 L135.12,203.29 L135.28,203.6 L135.44,203.91 L135.6,204.22 L135.75,204.53 L135.91,204.83 L136.07,205.14 L136.23,205.44 L136.39,205.75 L136.55,206.05 L136.7,206.35 L136.86,206.65 L137.02,206.95 L137.18,207.25 L137.34,207.55 L137.5,207.85 L137.65,208.14 L137.81,208.44 L137.97,208.74 L138.13,209.03 L138.29,209.32 L138.45,209.62 L138.6,209.91 L138.76,210.2 L138.92,210.49 L139.08,210.78 L139.24,211.07 L139.39,211.36 L139.55,211.64 L139.71,211.93 L139.87,212.22 L140.03,212.5 L140.19,212.78 L140.34,213.07 L140.5,213.35 L140.66,213.63 L140.82,213.91 L140.98,214.19 L141.14,214.47 L141.29,214.75 L141.45,215.02 L141.61,215.3 L141.77,215.57 L141.93,215.85 L142.09,216.12 L142.24,216.4 L142.4,216.67 L142.56,216.94 L142.72,217.21 L142.88,217.48 L143.04,217.75 L143.19,218.01 L143.35,218.28 L143.51,218.55 L143.67,218.81 L143.83,219.08 L143.99,219.34 L144.14,219.6 L144.3,219.87 L144.46,220.13 L144.62,220.39 L144.78,220.65 L144.94,220.91 L145.09,221.16 L145.25,221.42 L145.41,221.68 L145.57,221.93 L145.73,222.19 L145.89,222.44 L146.04,222.69 L146.2,222.95 L146.36,223.2 L146.99,224.19 L147.63,225.18 L148.26,226.15 L148.89,227.11 L149.53,228.05 L150.16,228.98 L150.79,229.9 L151.43,230.81 L152.06,231.7 L152.69,232.58 L153.33,233.45 L153.96,234.31 L154.59,235.16 L155.22,236 L155.86,236.83 L156.49,237.64 L157.12,238.45 L157.76,239.25 L158.39,240.03 L159.02,240.81 L159.66,241.58 L160.29,242.33 L160.92,243.08 L161.56,243.82 L162.19,244.55 L162.82,245.27 L163.46,245.98 L164.09,246.68 L164.72,247.37 L165.36,248.05 L165.99,248.73 L166.62,249.4 L167.26,250.05 L167.89,250.7 L168.52,251.35 L169.15,251.98 L169.79,252.61 L170.42,253.22 L171.05,253.84 L171.69,254.44 L172.32,255.03 L172.95,255.62 L173.59,256.2 L174.22,256.78 L174.85,257.34 L175.49,257.9 L176.12,258.46 L176.75,259 L177.39,259.54 L178.02,260.08 L178.65,260.6 L179.29,261.12 L179.92,261.64 L180.55,262.14 L181.19,262.65 L181.82,263.14 L182.45,263.63 L183.08,264.11 L183.72,264.59 L184.35,265.06 L184.98,265.53 L185.62,265.99 L186.25,266.44 L186.88,266.89 L187.52,267.34 L188.15,267.78 L188.78,268.21 L189.42,268.64 L190.05,269.07 L190.68,269.48 L191.32,269.9 L191.95,270.31 L192.58,270.71 L193.22,271.11 L193.85,271.51 L194.48,271.9 L195.12,272.28 L195.75,272.67 L196.38,273.04 L197.01,273.41 L197.65,273.78 L198.28,274.15 L198.91,274.5 L199.55,274.86 L200.18,275.21 L200.81,275.56 L201.45,275.9 L202.08,276.24 L202.71,276.57 L203.35,276.9 L203.98,277.22 L204.61,277.55 L205.25,277.86 L205.88,278.18 L206.51,278.49 L207.15,278.79 L207.78,279.09 L208.41,279.39 L209.05,279.69 L209.68,279.98 L210.31,280.27 L210.94,280.55 L211.58,280.83 L212.21,281.1 L212.84,281.38 L213.48,281.65 L214.11,281.91 L214.74,282.17 L215.38,282.43 L216.01,282.69 L216.64,282.94 L217.28,283.19 L217.91,283.44 L218.54,283.68 L219.18,283.92 L219.81,284.15 L220.44,284.39 L221.08,284.62 L221.71,284.84 L222.34,285.07 L222.98,285.29 L223.61,285.5 L224.24,285.72 L224.87,285.93 L225.51,286.14 L226.14,286.35 L226.77,286.55 L227.41,286.75 L228.04,286.95 L228.67,287.14 L229.31,287.33 L229.94,287.52 L230.57,287.71 L231.21,287.89 L231.84,288.08 L232.47,288.26 L233.11,288.43 L233.74,288.61 L234.37,288.78 L235.01,288.95 L235.64,289.11 L236.27,289.28 L236.91,289.44 L237.54,289.6 L238.17,289.76 L238.8,289.91 L239.44,290.06 L240.07,290.21 L240.7,290.36 L241.34,290.51 L241.97,290.66 L242.6,290.8 L243.24,290.95 L243.87,291.09 L244.5,291.23 L245.14,291.37 L245.77,291.5 L246.4,291.64 L247.04,291.77 L247.67,291.9 L248.3,292.03 L248.94,292.16 L249.57,292.29 L250.2,292.41 L250.84,292.54 L251.47,292.66 L252.1,292.78 L252.73,292.9 L253.37,293.02 L254,293.13 L254.63,293.25 L255.27,293.36 L255.9,293.48 L256.53,293.59 L257.17,293.7 L257.8,293.8 L258.43,293.91 L259.07,294.02 L259.7,294.12 L260.33,294.22 L260.97,294.33 L261.6,294.43 L262.23,294.53 L262.87,294.62 L263.5,294.72 L264.13,294.82 L264.77,294.91 L265.4,295 L266.03,295.1 L266.66,295.19 L267.3,295.28 L267.93,295.37 L268.56,295.45 L269.2,295.54 L269.83,295.63 L270.46,295.71 L271.1,295.79 L271.73,295.88 L272.36,295.96 L273,296.04 L273.63,296.12 L274.26,296.2 L274.9,296.27 L275.53,296.35 L276.16,296.43 L276.8,296.5 L277.43,296.58 L278.06,296.65 L278.7,296.72 L279.33,296.79 L279.96,296.86 L280.59,296.93 L281.23,297 L281.86,297.07 L282.49,297.14 L283.13,297.2 L283.76,297.27 L284.39,297.33 L285.03,297.4 L285.66,297.46 L286.29,297.52 L286.93,297.59 L287.56,297.65 L288.19,297.71 L288.83,297.77 L289.46,297.83 L290.09,297.88 L290.73,297.94 L291.36,298 L291.99,298.05 L292.63,298.11 L293.26,298.16 L293.89,298.22 L294.52,298.27 L295.16,298.33 L295.79,298.38 L296.42,298.43 L297.06,298.48 L297.69,298.53 L298.32,298.58 L298.96,298.63 L299.59,298.68 L300.22,298.73 L300.86,298.77 L301.49,298.82 L302.12,298.87 L302.76,298.91 L303.39,298.96 L304.02,299 L304.66,299.05 L305.29,299.09 L305.92,299.13 L306.56,299.18 L307.19,299.22 L307.82,299.26 L308.45,299.3 L309.09,299.34 L309.72,299.38 L310.35,299.42 L310.99,299.46 L311.62,299.5 L312.25,299.54 L312.89,299.58 L313.52,299.62 L314.15,299.65 L314.79,299.69 L315.42,299.73 L316.05,299.76 L316.69,299.8 L317.32,299.83 L317.95,299.87 L318.59,299.9 L319.22,299.93 L319.85,299.97 L320.49,300 L321.12,300.03 L321.75,300.07 L322.38,300.1 L323.02,300.13 L323.65,300.16 L324.28,300.19 L324.92,300.22 L325.55,300.25 L326.18,300.28 L326.82,300.31 L327.45,300.34 L328.08,300.37 L328.72,300.4 L329.35,300.43 L329.98,300.45 L330.62,300.48 L331.25,300.51 L331.88,300.54 L332.52,300.56 L333.15,300.59 L333.78,300.61 L334.42,300.64 L335.05,300.67 L335.68,300.69 L336.31,300.72 L336.95,300.74 L337.58,300.76 L338.21,300.79 L338.85,300.81 L339.48,300.84 L340.11,300.86 L340.75,300.88 L341.38,300.91 L342.01,300.93 L342.65,300.95 L343.28,300.97 L343.91,300.99 L344.55,301.02 L345.18,301.04 L345.81,301.06 L346.45,301.08 L347.08,301.1 L347.71,301.12 L348.35,301.14 L348.98,301.16 L349.61,301.18 L350.24,301.2 L350.88,301.22 L351.51,301.24 L352.14,301.26 L352.78,301.28 L353.41,301.29 L354.04,301.31 L354.68,301.33 L355.31,301.35 L355.94,301.37 L356.58,301.38 L357.21,301.4 L357.84,301.42 L358.48,301.44 L359.11,301.45 L359.74,301.47 L360.38,301.49 L361.01,301.5 L361.64,301.52 L362.28,301.53 L362.91,301.55 L363.54,301.57 L364.17,301.58 L364.81,301.6 L365.44,301.61 L366.07,301.63 L366.71,301.64 L367.34,301.66 L367.97,301.67 L368.61,301.69 L369.24,301.7 L369.87,301.71 L370.51,301.73 L371.14,301.74 L371.77,301.76 L372.41,301.77 L373.04,301.78 L373.67,301.8 L374.31,301.81 L374.94,301.82 L375.57,301.84 L376.21,301.85 L376.84,301.86 L377.47,301.87 L378.1,301.89 L378.74,301.9 L379.37,301.91 L380,301.92 L380.64,301.93 L381.27,301.95 L381.9,301.96 L382.54,301.97 L383.17,301.98 L383.8,301.99 L384.44,302 L385.07,302.02 L385.7,302.03 L386.34,302.04 L386.97,302.05 L387.6,302.06 L388.24,302.07 L388.87,302.08 L389.5,302.09 L390.14,302.1 L390.77,302.11 L391.4,302.12 L392.03,302.13 L392.67,302.14 L393.3,302.15 L393.93,302.16 L394.57,302.17 L395.2,302.18 L395.83,302.19 L396.47,302.2 L397.1,302.21 L397.73,302.22 L398.37,302.23 L399,302.24" fill="none" stroke="#9400d3" stroke-width="2.85" stroke-linejoin="round" stroke-dasharray="5.3 7.6" clip-path="url(#ca)" />
<rect x="83.2" y="32.5" width="315.8" height="270.45" fill="none" stroke="#111" stroke-width="1.35"/>
<line x1="188.47" y1="302.95" x2="188.47" y2="292.35" stroke="#111" stroke-width="1.15" />
<line x1="188.47" y1="32.5" x2="188.47" y2="43.1" stroke="#111" stroke-width="1.15" />
<line x1="293.73" y1="302.95" x2="293.73" y2="292.35" stroke="#111" stroke-width="1.15" />
<line x1="293.73" y1="32.5" x2="293.73" y2="43.1" stroke="#111" stroke-width="1.15" />
<line x1="135.83" y1="302.95" x2="135.83" y2="297.65" stroke="#111" stroke-width="1.15" />
<line x1="135.83" y1="32.5" x2="135.83" y2="37.8" stroke="#111" stroke-width="1.15" />
<line x1="241.1" y1="302.95" x2="241.1" y2="297.65" stroke="#111" stroke-width="1.15" />
<line x1="241.1" y1="32.5" x2="241.1" y2="37.8" stroke="#111" stroke-width="1.15" />
<line x1="346.37" y1="302.95" x2="346.37" y2="297.65" stroke="#111" stroke-width="1.15" />
<line x1="346.37" y1="32.5" x2="346.37" y2="37.8" stroke="#111" stroke-width="1.15" />
<line x1="83.2" y1="248.86" x2="93.8" y2="248.86" stroke="#111" stroke-width="1.15" />
<line x1="399" y1="248.86" x2="388.4" y2="248.86" stroke="#111" stroke-width="1.15" />
<line x1="83.2" y1="194.77" x2="93.8" y2="194.77" stroke="#111" stroke-width="1.15" />
<line x1="399" y1="194.77" x2="388.4" y2="194.77" stroke="#111" stroke-width="1.15" />
<line x1="83.2" y1="140.68" x2="93.8" y2="140.68" stroke="#111" stroke-width="1.15" />
<line x1="399" y1="140.68" x2="388.4" y2="140.68" stroke="#111" stroke-width="1.15" />
<line x1="83.2" y1="86.59" x2="93.8" y2="86.59" stroke="#111" stroke-width="1.15" />
<line x1="399" y1="86.59" x2="388.4" y2="86.59" stroke="#111" stroke-width="1.15" />
<line x1="14.7" y1="225.6" x2="14.7" y2="206.9" stroke="#111" stroke-width="1.15" />
<line x1="306.2" y1="52.6" x2="366.2" y2="52.6" stroke="#bcbcbc" stroke-width="2.7" />
<line x1="306.2" y1="77.2" x2="366.2" y2="77.2" stroke="#56b4e9" stroke-width="2.85" stroke-dasharray="10.5 15.2"/>
<line x1="306.2" y1="101.7" x2="363.2" y2="101.7" stroke="#9400d3" stroke-width="2.85" stroke-dasharray="5.3 7.6"/>
<path d="M232.8,241.8 L232.84,239.26 L232.89,236.76 L232.93,234.28 L232.98,231.84 L233.02,229.43 L233.07,227.07 L233.11,224.75 L233.16,222.47 L233.2,220.24 L233.25,218.06 L233.29,215.94 L233.34,213.87 L233.38,211.85 L233.43,209.84 L233.47,207.85 L233.51,205.86 L233.56,203.9 L233.6,201.96 L233.65,200.05 L233.69,198.18 L233.74,196.34 L233.78,194.54 L233.83,192.79 L233.87,191.09 L233.92,189.45 L233.96,187.86 L234.01,186.34 L234.05,184.88 L234.09,183.5 L234.14,182.2 L234.18,180.92 L234.23,179.64 L234.27,178.37 L234.32,177.1 L234.36,175.86 L234.41,174.64 L234.45,173.44 L234.5,172.27 L234.54,171.14 L234.59,170.06 L234.63,169.02 L234.68,168.03 L234.72,167.09 L234.76,166.22 L234.81,165.41 L234.85,164.68 L234.9,164.02 L234.94,163.44 L234.99,162.95 L235.03,162.55 L235.08,162.17 L235.12,161.79 L235.17,161.43 L235.21,161.07 L235.26,160.73 L235.3,160.39 L235.34,160.06 L235.39,159.75 L235.43,159.45 L235.48,159.16 L235.52,158.88 L235.57,158.62 L235.61,158.38 L235.66,158.15 L235.7,157.94 L235.75,157.74 L235.79,157.57 L235.84,157.41 L235.88,157.28 L235.93,157.16 L235.97,157.07 L236.01,156.99 L236.06,156.95 L236.1,156.92 L236.15,156.92 L236.19,156.93 L236.24,156.95 L236.28,156.97 L236.33,157 L236.37,157.04 L236.42,157.09 L236.46,157.14 L236.51,157.2 L236.55,157.27 L236.6,157.34 L236.64,157.41 L236.68,157.5 L236.73,157.58 L236.77,157.67 L236.82,157.77 L236.86,157.87 L236.91,157.97 L236.95,158.08 L237,158.19 L237.04,158.3 L237.09,158.41 L237.13,158.53 L237.18,158.64 L237.22,158.76 L237.26,158.88 L237.31,159 L237.35,159.12 L237.4,159.24 L237.44,159.36 L237.49,159.48 L237.53,159.6 L237.58,159.72 L237.62,159.83 L237.67,159.95 L237.71,160.06 L237.76,160.18 L237.8,160.3 L237.85,160.43 L237.89,160.56 L237.93,160.7 L237.98,160.84 L238.02,160.98 L238.07,161.12 L238.11,161.27 L238.16,161.43 L238.2,161.58 L238.25,161.74 L238.29,161.9 L238.34,162.06 L238.38,162.23 L238.43,162.4 L238.47,162.56 L238.51,162.73 L238.56,162.91 L238.6,163.08 L238.65,163.25 L238.69,163.42 L238.74,163.6 L238.78,163.77 L238.83,163.95 L238.87,164.12 L238.92,164.29 L238.96,164.47 L239.01,164.64 L239.05,164.81 L239.1,164.98 L239.14,165.15 L239.18,165.31 L239.23,165.48 L239.27,165.64 L239.32,165.8 L239.36,165.96 L239.41,166.12 L239.45,166.27 L239.71,167.12 L239.96,167.96 L240.21,168.79 L240.47,169.61 L240.72,170.42 L240.97,171.23 L241.23,172.04 L241.48,172.85 L241.73,173.66 L241.99,174.48 L242.24,175.29 L242.49,176.11 L242.75,176.92 L243,177.73 L243.25,178.55 L243.51,179.36 L243.76,180.17 L244.01,180.98 L244.27,181.78 L244.52,182.58 L244.77,183.38 L245.03,184.18 L245.28,184.97 L245.53,185.75 L245.79,186.53 L246.04,187.31 L246.29,188.08 L246.54,188.86 L246.8,189.64 L247.05,190.43 L247.3,191.22 L247.56,192.02 L247.81,192.82 L248.06,193.62 L248.32,194.42 L248.57,195.22 L248.82,196.01 L249.08,196.8 L249.33,197.58 L249.58,198.35 L249.84,199.12 L250.09,199.87 L250.34,200.61 L250.6,201.33 L250.85,202.04 L251.1,202.74 L251.36,203.41 L251.61,204.07 L251.86,204.7 L252.12,205.31 L252.37,205.9 L252.62,206.46 L252.88,207 L253.13,207.53 L253.38,208.06 L253.64,208.57 L253.89,209.09 L254.14,209.59 L254.4,210.09 L254.65,210.58 L254.9,211.07 L255.16,211.54 L255.41,212.02 L255.66,212.48 L255.92,212.94 L256.17,213.39 L256.42,213.84 L256.68,214.28 L256.93,214.71 L257.18,215.14 L257.44,215.56 L257.69,215.98 L257.94,216.38 L258.2,216.79 L258.45,217.19 L258.7,217.58 L258.96,217.96 L259.21,218.35 L259.46,218.72 L259.72,219.09 L259.97,219.45 L260.22,219.81 L260.48,220.17 L260.73,220.52 L260.98,220.86 L261.24,221.2 L261.49,221.53 L261.74,221.86 L262,222.18 L262.25,222.5 L262.5,222.81 L262.76,223.12 L263.01,223.43 L263.26,223.73 L263.52,224.02 L263.77,224.31 L264.02,224.6 L264.28,224.88 L264.53,225.15 L264.78,225.42 L265.04,225.68 L265.29,225.93 L265.54,226.18 L265.8,226.42 L266.05,226.66 L266.3,226.89 L266.56,227.11 L266.81,227.32 L267.06,227.52 L267.32,227.72 L267.57,227.9 L267.82,228.09 L268.08,228.27 L268.33,228.45 L268.58,228.63 L268.84,228.81 L269.09,228.99 L269.34,229.16 L269.6,229.33 L269.85,229.5 L270.1,229.67 L270.36,229.84 L270.61,230 L270.86,230.16 L271.12,230.32 L271.37,230.48 L271.62,230.63 L271.88,230.78 L272.13,230.93 L272.38,231.08 L272.64,231.23 L272.89,231.37 L273.14,231.51 L273.39,231.65 L273.65,231.79 L273.9,231.92 L274.15,232.05 L274.41,232.18 L274.66,232.31 L274.91,232.43 L275.17,232.55 L275.42,232.67 L275.67,232.79 L275.93,232.9 L276.18,233.01 L276.43,233.12 L276.69,233.22 L276.94,233.32 L277.19,233.42 L277.45,233.52 L277.7,233.62 L277.95,233.71 L278.21,233.8 L278.46,233.88 L278.71,233.96 L278.97,234.04 L279.22,234.12 L279.47,234.2 L279.73,234.27 L279.98,234.34 L280.23,234.41 L280.49,234.48 L280.74,234.54 L280.99,234.61 L281.25,234.67 L281.5,234.73 L281.75,234.79 L282.01,234.85 L282.26,234.91 L282.51,234.97 L282.77,235.02 L283.02,235.08 L283.27,235.14 L283.53,235.19 L283.78,235.24 L284.03,235.3 L284.29,235.35 L284.54,235.41 L284.79,235.46 L285.05,235.52 L285.3,235.57 L285.55,235.63 L285.81,235.69 L286.06,235.74 L286.31,235.8 L286.57,235.86 L286.82,235.91 L287.07,235.97 L287.33,236.03 L287.58,236.08 L287.83,236.14 L288.09,236.19 L288.34,236.25 L288.59,236.3 L288.85,236.36 L289.1,236.41 L289.35,236.46 L289.61,236.52 L289.86,236.57 L290.11,236.62 L290.37,236.68 L290.62,236.73 L290.87,236.78 L291.13,236.83 L291.38,236.89 L291.63,236.94 L291.89,236.99 L292.14,237.04 L292.39,237.09 L292.65,237.14 L292.9,237.2 L293.15,237.25 L293.41,237.3 L293.66,237.35 L293.91,237.4 L294.17,237.45 L294.42,237.5 L294.67,237.55 L294.93,237.6 L295.18,237.65 L295.43,237.7 L295.69,237.75 L295.94,237.81 L296.19,237.86 L296.45,237.91 L296.7,237.96 L296.95,238.01 L297.21,238.06 L297.46,238.11 L297.71,238.16 L297.97,238.21 L298.22,238.26 L298.47,238.31 L298.73,238.36 L298.98,238.41 L299.23,238.46 L299.48,238.51 L299.74,238.56 L299.99,238.61 L300.24,238.66 L300.5,238.71 L300.75,238.76 L301,238.81 L301.26,238.86 L301.51,238.92 L301.76,238.97 L302.02,239.02 L302.27,239.07 L302.52,239.12 L302.78,239.17 L303.03,239.23 L303.28,239.28 L303.54,239.34 L303.79,239.39 L304.04,239.45 L304.3,239.51 L304.55,239.56 L304.8,239.62 L305.06,239.68 L305.31,239.73 L305.56,239.79 L305.82,239.85 L306.07,239.9 L306.32,239.96 L306.58,240.02 L306.83,240.07 L307.08,240.12 L307.34,240.18 L307.59,240.23 L307.84,240.28 L308.1,240.33 L308.35,240.38 L308.6,240.43 L308.86,240.48 L309.11,240.52 L309.36,240.56 L309.62,240.6 L309.87,240.64 L310.12,240.68 L310.38,240.72 L310.63,240.75 L310.88,240.78 L311.14,240.82 L311.39,240.85 L311.64,240.89 L311.9,240.92 L312.15,240.96 L312.4,240.99 L312.66,241.03 L312.91,241.06 L313.16,241.1 L313.42,241.13 L313.67,241.16 L313.92,241.2 L314.18,241.23 L314.43,241.26 L314.68,241.29 L314.94,241.33 L315.19,241.36 L315.44,241.39 L315.7,241.42 L315.95,241.45 L316.2,241.47 L316.46,241.5 L316.71,241.53 L316.96,241.55 L317.22,241.58 L317.47,241.6 L317.72,241.62 L317.98,241.64 L318.23,241.66 L318.48,241.68 L318.74,241.7 L318.99,241.72 L319.24,241.73 L319.5,241.75 L319.75,241.76 L320,241.77 L320.26,241.78 L320.51,241.79 L320.76,241.79 L321.02,241.8 L321.27,241.8 L321.52,241.8 L321.78,241.8 L322.03,241.8 L322.28,241.8 L322.54,241.8 L322.79,241.8 L323.04,241.8 L323.3,241.8 L323.55,241.8 L323.8,241.8 L324.06,241.8 L324.31,241.8 L324.56,241.8 L324.82,241.8 L325.07,241.8 L325.32,241.8 L325.58,241.8 L325.83,241.8 L326.08,241.8 L326.33,241.8 L326.59,241.8 L326.84,241.8 L327.09,241.8 L327.35,241.8 L327.6,241.8 L327.85,241.8 L328.11,241.8 L328.36,241.8 L328.61,241.8 L328.87,241.8 L329.12,241.8 L329.37,241.8 L329.63,241.8 L329.88,241.8 L330.13,241.8 L330.39,241.8 L330.64,241.8 L330.89,241.8 L331.15,241.8 L331.4,241.8 L331.65,241.8 L331.91,241.8 L332.16,241.8 L332.41,241.8 L332.67,241.8 L332.92,241.8 L333.17,241.8 L333.43,241.8 L333.68,241.8 L333.93,241.8 L334.19,241.8 L334.44,241.8 L334.69,241.8 L334.95,241.8 L335.2,241.8 L335.45,241.8 L335.71,241.8 L335.96,241.8 L336.21,241.8 L336.47,241.8 L336.72,241.8 L336.97,241.8 L337.23,241.8 L337.48,241.8 L337.73,241.8 L337.99,241.8 L338.24,241.8 L338.49,241.8 L338.75,241.8 L339,241.8 L339.25,241.8 L339.51,241.8 L339.76,241.8 L340.01,241.8 L340.27,241.8 L340.52,241.8 L340.77,241.8 L341.03,241.8 L341.28,241.8 L341.53,241.8 L341.79,241.8 L342.04,241.8 L342.29,241.8 L342.55,241.8 L342.8,241.8 L343.05,241.8 L343.31,241.8 L343.56,241.8 L343.81,241.8 L344.07,241.8 L344.32,241.8 L344.57,241.8 L344.83,241.8 L345.08,241.8 L345.33,241.8 L345.59,241.8 L345.84,241.8 L346.09,241.8 L346.35,241.8 L346.6,241.8 L346.85,241.8 L347.11,241.8 L347.36,241.8 L347.61,241.8 L347.87,241.8 L348.12,241.8 L348.37,241.8 L348.63,241.8 L348.88,241.8 L349.13,241.8 L349.39,241.8 L349.64,241.8 L349.89,241.8 L350.15,241.8 L350.4,241.8 L350.65,241.8 L350.91,241.8 L351.16,241.8 L351.41,241.8 L351.67,241.8 L351.92,241.8 L352.17,241.8 L352.43,241.8 L352.68,241.8 L352.93,241.8 L353.18,241.8 L353.44,241.8 L353.69,241.8 L353.94,241.8 L354.2,241.8 L354.45,241.8 L354.7,241.8 L354.96,241.8 L355.21,241.8 L355.46,241.8 L355.72,241.8 L355.97,241.8 L356.22,241.8 L356.48,241.8 L356.73,241.8 L356.98,241.8 L357.24,241.8 L357.49,241.8 L357.74,241.8 L358,241.8 L358.25,241.8 L358.5,241.8 L358.76,241.8 L359.01,241.8 L359.26,241.8 L359.52,241.8 L359.77,241.8 L360.02,241.8 L360.28,241.8 L360.53,241.8 L360.78,241.8 L361.04,241.8 L361.29,241.8 L361.54,241.8 L361.8,241.8 L362.05,241.8 L362.3,241.8 L362.56,241.8 L362.81,241.8 L363.06,241.8 L363.32,241.8 L363.57,241.8 L363.82,241.8 L364.08,241.8 L364.33,241.8 L364.58,241.8 L364.84,241.8 L365.09,241.8 L365.34,241.8 L365.6,241.8 L365.85,241.8" fill="none" stroke="#56b4e9" stroke-width="2.85" stroke-linejoin="round" stroke-dasharray="10.5 15.2" clip-path="url(#ia)" />
<path d="M232.8,241.8 L232.84,239.14 L232.89,236.51 L232.93,233.91 L232.98,231.34 L233.02,228.8 L233.07,226.3 L233.11,223.84 L233.16,221.41 L233.2,219.03 L233.25,216.69 L233.29,214.39 L233.34,212.15 L233.38,209.94 L233.43,207.74 L233.47,205.53 L233.51,203.33 L233.56,201.14 L233.6,198.97 L233.65,196.83 L233.69,194.72 L233.74,192.65 L233.78,190.62 L233.83,188.64 L233.87,186.72 L233.92,184.87 L233.96,183.08 L234.01,181.38 L234.05,179.75 L234.09,178.22 L234.14,176.78 L234.18,175.37 L234.23,173.96 L234.27,172.55 L234.32,171.16 L234.36,169.79 L234.41,168.44 L234.45,167.12 L234.5,165.84 L234.54,164.59 L234.59,163.4 L234.63,162.26 L234.68,161.18 L234.72,160.16 L234.76,159.21 L234.81,158.34 L234.85,157.56 L234.9,156.86 L234.94,156.26 L234.99,155.76 L235.03,155.35 L235.08,154.98 L235.12,154.62 L235.17,154.26 L235.21,153.91 L235.26,153.57 L235.3,153.24 L235.34,152.91 L235.39,152.6 L235.43,152.29 L235.48,152 L235.52,151.71 L235.57,151.43 L235.61,151.17 L235.66,150.91 L235.7,150.67 L235.75,150.44 L235.79,150.22 L235.84,150.01 L235.88,149.81 L235.93,149.62 L235.97,149.45 L236.01,149.29 L236.06,149.15 L236.1,149.01 L236.15,148.89 L236.19,148.79 L236.24,148.7 L236.28,148.62 L236.33,148.56 L236.37,148.51 L236.42,148.48 L236.46,148.47 L236.51,148.47 L236.55,148.48 L236.6,148.51 L236.64,148.55 L236.68,148.6 L236.73,148.67 L236.77,148.75 L236.82,148.83 L236.86,148.93 L236.91,149.04 L236.95,149.15 L237,149.27 L237.04,149.41 L237.09,149.55 L237.13,149.69 L237.18,149.85 L237.22,150.01 L237.26,150.17 L237.31,150.34 L237.35,150.51 L237.4,150.69 L237.44,150.87 L237.49,151.05 L237.53,151.24 L237.58,151.43 L237.62,151.61 L237.67,151.8 L237.71,151.99 L237.76,152.18 L237.8,152.37 L237.85,152.56 L237.89,152.74 L237.93,152.93 L237.98,153.12 L238.02,153.33 L238.07,153.55 L238.11,153.78 L238.16,154.02 L238.2,154.27 L238.25,154.53 L238.29,154.8 L238.34,155.08 L238.38,155.37 L238.43,155.66 L238.47,155.97 L238.51,156.28 L238.56,156.59 L238.6,156.92 L238.65,157.25 L238.69,157.58 L238.74,157.92 L238.78,158.27 L238.83,158.62 L238.87,158.98 L238.92,159.34 L238.96,159.7 L239.01,160.07 L239.05,160.44 L239.1,160.81 L239.14,161.19 L239.18,161.56 L239.23,161.94 L239.27,162.32 L239.32,162.7 L239.36,163.08 L239.41,163.46 L239.45,163.84 L239.71,165.97 L239.96,168.02 L240.21,169.9 L240.47,171.56 L240.72,172.94 L240.97,174.12 L241.23,175.25 L241.48,176.34 L241.73,177.39 L241.99,178.39 L242.24,179.36 L242.49,180.29 L242.75,181.2 L243,182.07 L243.25,182.91 L243.51,183.73 L243.76,184.52 L244.01,185.3 L244.27,186.05 L244.52,186.8 L244.77,187.53 L245.03,188.25 L245.28,188.96 L245.53,189.67 L245.79,190.38 L246.04,191.09 L246.29,191.8 L246.54,192.52 L246.8,193.24 L247.05,193.98 L247.3,194.73 L247.56,195.5 L247.81,196.28 L248.06,197.09 L248.32,197.9 L248.57,198.72 L248.82,199.54 L249.08,200.36 L249.33,201.18 L249.58,202 L249.84,202.81 L250.09,203.63 L250.34,204.45 L250.6,205.26 L250.85,206.07 L251.1,206.89 L251.36,207.7 L251.61,208.5 L251.86,209.31 L252.12,210.12 L252.37,210.92 L252.62,211.73 L252.88,212.53 L253.13,213.33 L253.38,214.12 L253.64,214.92 L253.89,215.71 L254.14,216.5 L254.4,217.29 L254.65,218.08 L254.9,218.9 L255.16,219.75 L255.41,220.62 L255.66,221.52 L255.92,222.43 L256.17,223.35 L256.42,224.27 L256.68,225.19 L256.93,226.1 L257.18,226.99 L257.44,227.87 L257.69,228.72 L257.94,229.54 L258.2,230.32 L258.45,231.06 L258.7,231.75 L258.96,232.39 L259.21,232.97 L259.46,233.48 L259.72,233.93 L259.97,234.3 L260.22,234.6 L260.48,234.87 L260.73,235.14 L260.98,235.38 L261.24,235.62 L261.49,235.84 L261.74,236.05 L262,236.25 L262.25,236.44 L262.5,236.61 L262.76,236.78 L263.01,236.94 L263.26,237.09 L263.52,237.24 L263.77,237.37 L264.02,237.5 L264.28,237.63 L264.53,237.75 L264.78,237.87 L265.04,237.98 L265.29,238.08 L265.54,238.18 L265.8,238.28 L266.05,238.37 L266.3,238.46 L266.56,238.55 L266.81,238.63 L267.06,238.71 L267.32,238.79 L267.57,238.86 L267.82,238.93 L268.08,239.01 L268.33,239.08 L268.58,239.15 L268.84,239.22 L269.09,239.29 L269.34,239.36 L269.6,239.44 L269.85,239.51 L270.1,239.59 L270.36,239.67 L270.61,239.75 L270.86,239.83 L271.12,239.91 L271.37,239.99 L271.62,240.07 L271.88,240.15 L272.13,240.23 L272.38,240.31 L272.64,240.38 L272.89,240.46 L273.14,240.53 L273.39,240.6 L273.65,240.67 L273.9,240.74 L274.15,240.81 L274.41,240.89 L274.66,240.96 L274.91,241.04 L275.17,241.12 L275.42,241.2 L275.67,241.27 L275.93,241.35 L276.18,241.42 L276.43,241.49 L276.69,241.56 L276.94,241.61 L277.19,241.67 L277.45,241.71 L277.7,241.75 L277.95,241.78 L278.21,241.79 L278.46,241.8 L278.71,241.8 L278.97,241.8 L279.22,241.8 L279.47,241.8 L279.73,241.8 L279.98,241.8 L280.23,241.8 L280.49,241.8 L280.74,241.8 L280.99,241.8 L281.25,241.8 L281.5,241.8 L281.75,241.8 L282.01,241.8 L282.26,241.8 L282.51,241.8 L282.77,241.8 L283.02,241.8 L283.27,241.8 L283.53,241.8 L283.78,241.8 L284.03,241.8 L284.29,241.8 L284.54,241.8 L284.79,241.8 L285.05,241.8 L285.3,241.8 L285.55,241.8 L285.81,241.8 L286.06,241.8 L286.31,241.8 L286.57,241.8 L286.82,241.8 L287.07,241.8 L287.33,241.8 L287.58,241.8 L287.83,241.8 L288.09,241.8 L288.34,241.8 L288.59,241.8 L288.85,241.8 L289.1,241.8 L289.35,241.8 L289.61,241.8 L289.86,241.78 L290.11,241.75 L290.37,241.69 L290.62,241.61 L290.87,241.52 L291.13,241.42 L291.38,241.31 L291.63,241.2 L291.89,241.08 L292.14,240.96 L292.39,240.84 L292.65,240.73 L292.9,240.62 L293.15,240.51 L293.41,240.4 L293.66,240.28 L293.91,240.15 L294.17,240.03 L294.42,239.9 L294.67,239.76 L294.93,239.63 L295.18,239.49 L295.43,239.35 L295.69,239.2 L295.94,239.05 L296.19,238.9 L296.45,238.75 L296.7,238.59 L296.95,238.43 L297.21,238.27 L297.46,238.11 L297.71,237.94 L297.97,237.77 L298.22,237.6 L298.47,237.43 L298.73,237.26 L298.98,237.08 L299.23,236.89 L299.48,236.69 L299.74,236.49 L299.99,236.28 L300.24,236.07 L300.5,235.84 L300.75,235.62 L301,235.39 L301.26,235.15 L301.51,234.92 L301.76,234.68 L302.02,234.44 L302.27,234.19 L302.52,233.95 L302.78,233.7 L303.03,233.46 L303.28,233.21 L303.54,232.97 L303.79,232.73 L304.04,232.49 L304.3,232.26 L304.55,232.02 L304.8,231.8 L305.06,231.57 L305.31,231.35 L305.56,231.14 L305.82,230.93 L306.07,230.73 L306.32,230.54 L306.58,230.36 L306.83,230.17 L307.08,229.98 L307.34,229.8 L307.59,229.61 L307.84,229.43 L308.1,229.25 L308.35,229.06 L308.6,228.88 L308.86,228.7 L309.11,228.52 L309.36,228.34 L309.62,228.17 L309.87,227.99 L310.12,227.82 L310.38,227.65 L310.63,227.48 L310.88,227.32 L311.14,227.15 L311.39,226.99 L311.64,226.83 L311.9,226.68 L312.15,226.53 L312.4,226.38 L312.66,226.24 L312.91,226.1 L313.16,225.96 L313.42,225.83 L313.67,225.7 L313.92,225.58 L314.18,225.46 L314.43,225.34 L314.68,225.23 L314.94,225.13 L315.19,225.03 L315.44,224.93 L315.7,224.83 L315.95,224.74 L316.2,224.64 L316.46,224.55 L316.71,224.46 L316.96,224.37 L317.22,224.28 L317.47,224.19 L317.72,224.1 L317.98,224.02 L318.23,223.93 L318.48,223.85 L318.74,223.77 L318.99,223.69 L319.24,223.61 L319.5,223.53 L319.75,223.46 L320,223.38 L320.26,223.31 L320.51,223.24 L320.76,223.17 L321.02,223.1 L321.27,223.03 L321.52,222.97 L321.78,222.91 L322.03,222.84 L322.28,222.78 L322.54,222.72 L322.79,222.67 L323.04,222.61 L323.3,222.56 L323.55,222.51 L323.8,222.46 L324.06,222.41 L324.31,222.36 L324.56,222.32 L324.82,222.27 L325.07,222.23 L325.32,222.19 L325.58,222.15 L325.83,222.11 L326.08,222.07 L326.33,222.03 L326.59,221.99 L326.84,221.95 L327.09,221.91 L327.35,221.87 L327.6,221.84 L327.85,221.8 L328.11,221.76 L328.36,221.72 L328.61,221.69 L328.87,221.65 L329.12,221.62 L329.37,221.59 L329.63,221.56 L329.88,221.53 L330.13,221.5 L330.39,221.47 L330.64,221.45 L330.89,221.42 L331.15,221.4 L331.4,221.38 L331.65,221.36 L331.91,221.35 L332.16,221.33 L332.41,221.32 L332.67,221.31 L332.92,221.31 L333.17,221.3 L333.43,221.3 L333.68,221.3 L333.93,221.3 L334.19,221.3 L334.44,221.3 L334.69,221.3 L334.95,221.3 L335.2,221.31 L335.45,221.31 L335.71,221.31 L335.96,221.31 L336.21,221.31 L336.47,221.32 L336.72,221.32 L336.97,221.32 L337.23,221.33 L337.48,221.33 L337.73,221.34 L337.99,221.34 L338.24,221.34 L338.49,221.35 L338.75,221.35 L339,221.36 L339.25,221.36 L339.51,221.37 L339.76,221.38 L340.01,221.38 L340.27,221.39 L340.52,221.4 L340.77,221.4 L341.03,221.41 L341.28,221.42 L341.53,221.42 L341.79,221.43 L342.04,221.44 L342.29,221.45 L342.55,221.46 L342.8,221.46 L343.05,221.47 L343.31,221.48 L343.56,221.5 L343.81,221.52 L344.07,221.55 L344.32,221.58 L344.57,221.63 L344.83,221.67 L345.08,221.73 L345.33,221.79 L345.59,221.85 L345.84,221.92 L346.09,221.99 L346.35,222.07 L346.6,222.15 L346.85,222.24 L347.11,222.33 L347.36,222.42 L347.61,222.51 L347.87,222.61 L348.12,222.7 L348.37,222.8 L348.63,222.9 L348.88,223 L349.13,223.1 L349.39,223.21 L349.64,223.31 L349.89,223.41 L350.15,223.51 L350.4,223.61 L350.65,223.7 L350.91,223.8 L351.16,223.89 L351.41,223.99 L351.67,224.07 L351.92,224.16 L352.17,224.24 L352.43,224.32 L352.68,224.4 L352.93,224.47 L353.18,224.55 L353.44,224.63 L353.69,224.71 L353.94,224.79 L354.2,224.87 L354.45,224.95 L354.7,225.03 L354.96,225.11 L355.21,225.19 L355.46,225.28 L355.72,225.36 L355.97,225.44 L356.22,225.52 L356.48,225.61 L356.73,225.69 L356.98,225.77 L357.24,225.85 L357.49,225.93 L357.74,226.01 L358,226.08 L358.25,226.16 L358.5,226.24 L358.76,226.31 L359.01,226.39 L359.26,226.46 L359.52,226.53 L359.77,226.6 L360.02,226.66 L360.28,226.73 L360.53,226.79 L360.78,226.85 L361.04,226.91 L361.29,226.96 L361.54,227.02 L361.8,227.07 L362.05,227.12 L362.3,227.16 L362.56,227.2 L362.81,227.24 L363.06,227.28 L363.32,227.32 L363.57,227.35 L363.82,227.38 L364.08,227.42 L364.33,227.45 L364.58,227.47 L364.84,227.5 L365.09,227.53 L365.34,227.55 L365.6,227.57 L365.85,227.59" fill="none" stroke="#9400d3" stroke-width="2.85" stroke-linejoin="round" stroke-dasharray="5.3 7.6" clip-path="url(#ia)" />
<rect x="232.8" y="133.9" width="133.05" height="107.9" fill="none" stroke="#111" stroke-width="1.35"/>
<line x1="277.15" y1="241.8" x2="277.15" y2="231.2" stroke="#111" stroke-width="1.15" />
<line x1="277.15" y1="133.9" x2="277.15" y2="144.5" stroke="#111" stroke-width="1.15" />
<line x1="321.5" y1="241.8" x2="321.5" y2="231.2" stroke="#111" stroke-width="1.15" />
<line x1="321.5" y1="133.9" x2="321.5" y2="144.5" stroke="#111" stroke-width="1.15" />
<line x1="232.8" y1="205.83" x2="243.4" y2="205.83" stroke="#111" stroke-width="1.15" />
<line x1="365.85" y1="205.83" x2="355.25" y2="205.83" stroke="#111" stroke-width="1.15" />
<line x1="232.8" y1="169.87" x2="243.4" y2="169.87" stroke="#111" stroke-width="1.15" />
<line x1="365.85" y1="169.87" x2="355.25" y2="169.87" stroke="#111" stroke-width="1.15" />
<line x1="232.1" y1="120.8" x2="241.9" y2="130.6" stroke="#111" stroke-width="1.0" />
<line x1="232.1" y1="130.6" x2="241.9" y2="120.8" stroke="#111" stroke-width="1.0" />
<line x1="265.3" y1="120.6" x2="274.5" y2="120.6" stroke="#111" stroke-width="1.0" />
<path d="M499,32.5 L499.16,33.17 L499.32,33.99 L499.47,34.95 L499.63,36.04 L499.79,37.25 L499.95,38.57 L500.11,39.98 L500.27,41.48 L500.42,43.04 L500.58,44.67 L500.74,46.47 L500.9,48.55 L501.06,50.86 L501.22,53.39 L501.37,56.1 L501.53,58.96 L501.69,61.94 L501.85,65.02 L502.01,68.15 L502.17,71.32 L502.32,74.49 L502.48,77.63 L502.64,80.71 L502.8,83.7 L502.96,86.58 L503.12,89.38 L503.27,92.18 L503.43,94.98 L503.59,97.77 L503.75,100.56 L503.91,103.36 L504.07,106.17 L504.22,108.98 L504.38,111.82 L504.54,114.66 L504.7,117.53 L504.86,120.43 L505.02,123.35 L505.17,126.31 L505.33,129.37 L505.49,132.52 L505.65,135.66 L505.81,138.69 L505.97,141.54 L506.12,144.32 L506.28,147.05 L506.44,149.75 L506.6,152.41 L506.76,155.03 L506.91,157.62 L507.07,160.18 L507.23,162.71 L507.39,165.22 L507.55,167.7 L507.71,170.15 L507.86,172.58 L508.02,175 L508.18,177.39 L508.34,179.77 L508.5,182.13 L508.66,184.49 L508.81,186.83 L508.97,189.16 L509.13,191.49 L509.29,193.81 L509.45,196.14 L509.61,198.51 L509.76,200.9 L509.92,203.28 L510.08,205.64 L510.24,207.96 L510.4,210.21 L510.56,212.38 L510.71,214.45 L510.87,216.39 L511.03,218.2 L511.19,219.85 L511.35,221.44 L511.51,222.99 L511.66,224.48 L511.82,225.94 L511.98,227.35 L512.14,228.72 L512.3,230.05 L512.46,231.35 L512.61,232.62 L512.77,233.86 L512.93,235.07 L513.09,236.25 L513.25,237.42 L513.4,238.56 L513.56,239.69 L513.72,240.8 L513.88,241.9 L514.04,242.99 L514.2,244.07 L514.35,245.15 L514.51,246.22 L514.67,247.3 L514.83,248.37 L514.99,249.44 L515.15,250.51 L515.3,251.57 L515.46,252.61 L515.62,253.66 L515.78,254.69 L515.94,255.71 L516.1,256.72 L516.25,257.72 L516.41,258.71 L516.57,259.69 L516.73,260.66 L516.89,261.62 L517.05,262.56 L517.2,263.48 L517.36,264.4 L517.52,265.29 L517.68,266.18 L517.84,267.04 L518,267.9 L518.15,268.73 L518.31,269.55 L518.47,270.34 L518.63,271.12 L518.79,271.88 L518.95,272.63 L519.1,273.38 L519.26,274.12 L519.42,274.86 L519.58,275.59 L519.74,276.31 L519.9,277.03 L520.05,277.73 L520.21,278.43 L520.37,279.11 L520.53,279.78 L520.69,280.43 L520.84,281.08 L521,281.7 L521.16,282.31 L521.32,282.9 L521.48,283.47 L521.64,284.02 L521.79,284.55 L521.95,285.06 L522.11,285.54 L522.27,286 L522.43,286.44 L522.59,286.85 L522.74,287.24 L522.9,287.63 L523.06,288.02 L523.22,288.39 L523.38,288.76 L523.54,289.12 L523.69,289.47 L523.85,289.82 L524.01,290.15 L524.17,290.48 L524.33,290.8 L524.49,291.12 L524.64,291.42 L524.8,291.72 L524.96,292.01 L525.12,292.29 L525.28,292.56 L525.44,292.82 L525.59,293.08 L525.75,293.32 L525.91,293.56 L526.07,293.79 L526.23,294.02 L526.39,294.23 L526.54,294.43 L526.7,294.63 L526.86,294.82 L527.02,294.99 L527.18,295.17 L527.33,295.34 L527.49,295.51 L527.65,295.68 L527.81,295.84 L527.97,296 L528.13,296.15 L528.28,296.31 L528.44,296.46 L528.6,296.6 L528.76,296.75 L528.92,296.89 L529.08,297.03 L529.23,297.16 L529.39,297.29 L529.55,297.42 L529.71,297.54 L529.87,297.67 L530.03,297.78 L530.18,297.9 L530.34,298.01 L530.5,298.12 L530.66,298.23 L530.82,298.34 L530.98,298.44 L531.13,298.54 L531.29,298.64 L531.45,298.74 L531.61,298.83 L531.77,298.92 L531.93,299 L532.08,299.08 L532.24,299.16 L532.4,299.24 L532.56,299.31 L532.72,299.39 L532.88,299.46 L533.03,299.53 L533.19,299.61 L533.35,299.68 L533.51,299.75 L533.67,299.82 L533.83,299.88 L533.98,299.95 L534.14,300.02 L534.3,300.08 L534.46,300.14 L534.62,300.21 L534.77,300.27 L534.93,300.33 L535.09,300.39 L535.25,300.45 L535.41,300.51 L535.57,300.56 L535.72,300.62 L535.88,300.67 L536.04,300.73 L536.2,300.78 L536.36,300.83 L536.52,300.88 L536.67,300.93 L536.83,300.98 L536.99,301.03 L537.15,301.08 L537.31,301.12 L537.47,301.17 L537.62,301.21 L537.78,301.25 L537.94,301.3 L538.1,301.34 L538.26,301.38 L538.42,301.41 L538.57,301.45 L538.73,301.49 L538.89,301.52 L539.05,301.56 L539.21,301.59 L539.37,301.62 L539.52,301.65 L539.68,301.68 L539.84,301.71 L540,301.74 L540.16,301.77 L540.32,301.8 L540.47,301.83 L540.63,301.86 L540.79,301.89 L540.95,301.92 L541.11,301.95 L541.26,301.97 L541.42,302 L541.58,302.03 L541.74,302.05 L541.9,302.08 L542.06,302.11 L542.21,302.13 L542.37,302.16 L542.53,302.18 L542.69,302.21 L542.85,302.23 L543.01,302.25 L543.16,302.28 L543.32,302.3 L543.48,302.32 L543.64,302.35 L543.8,302.37 L543.96,302.39 L544.11,302.41 L544.27,302.43 L544.43,302.45 L544.59,302.47 L544.75,302.49 L544.91,302.51 L545.06,302.52 L545.22,302.54 L545.38,302.56 L545.54,302.57 L545.7,302.59 L545.86,302.61 L546.01,302.62 L546.17,302.64 L546.33,302.65 L546.49,302.66 L546.65,302.68 L546.81,302.69 L546.96,302.7 L547.12,302.72 L547.28,302.73 L547.44,302.74 L547.6,302.76 L547.76,302.77 L547.91,302.78 L548.07,302.8 L548.23,302.81 L548.39,302.82 L548.55,302.83 L548.7,302.85 L548.86,302.86 L549.02,302.87 L549.18,302.88 L549.34,302.88 L549.5,302.88" fill="none" stroke="#bcbcbc" stroke-width="2.85" stroke-linejoin="round" clip-path="url(#cb)" />
<path d="M499,32.5 L499.16,33.17 L499.32,33.99 L499.47,34.95 L499.63,36.04 L499.79,37.25 L499.95,38.57 L500.11,39.98 L500.27,41.48 L500.42,43.04 L500.58,44.67 L500.74,46.47 L500.9,48.55 L501.06,50.86 L501.22,53.39 L501.37,56.1 L501.53,58.96 L501.69,61.94 L501.85,65.02 L502.01,68.15 L502.17,71.32 L502.32,74.49 L502.48,77.63 L502.64,80.71 L502.8,83.7 L502.96,86.58 L503.12,89.38 L503.27,92.18 L503.43,94.98 L503.59,97.77 L503.75,100.56 L503.91,103.36 L504.07,106.17 L504.22,108.98 L504.38,111.82 L504.54,114.66 L504.7,117.53 L504.86,120.43 L505.02,123.35 L505.17,126.31 L505.33,129.37 L505.49,132.52 L505.65,135.66 L505.81,138.69 L505.97,141.54 L506.12,144.32 L506.28,147.05 L506.44,149.75 L506.6,152.41 L506.76,155.03 L506.91,157.62 L507.07,160.18 L507.23,162.71 L507.39,165.22 L507.55,167.7 L507.71,170.15 L507.86,172.58 L508.02,175 L508.18,177.39 L508.34,179.77 L508.5,182.13 L508.66,184.49 L508.81,186.83 L508.97,189.16 L509.13,191.49 L509.29,193.81 L509.45,196.14 L509.61,198.51 L509.76,200.9 L509.92,203.28 L510.08,205.64 L510.24,207.96 L510.4,210.21 L510.56,212.38 L510.71,214.45 L510.87,216.39 L511.03,218.2 L511.19,219.85 L511.35,221.44 L511.51,222.99 L511.66,224.48 L511.82,225.94 L511.98,227.35 L512.14,228.72 L512.3,230.05 L512.46,231.35 L512.61,232.62 L512.77,233.86 L512.93,235.07 L513.09,236.25 L513.25,237.42 L513.4,238.56 L513.56,239.69 L513.72,240.8 L513.88,241.9 L514.04,242.99 L514.2,244.07 L514.35,245.15 L514.51,246.22 L514.67,247.3 L514.83,248.37 L514.99,249.44 L515.15,250.51 L515.3,251.57 L515.46,252.61 L515.62,253.66 L515.78,254.69 L515.94,255.71 L516.1,256.72 L516.25,257.72 L516.41,258.71 L516.57,259.69 L516.73,260.66 L516.89,261.62 L517.05,262.56 L517.2,263.48 L517.36,264.4 L517.52,265.29 L517.68,266.18 L517.84,267.04 L518,267.9 L518.15,268.73 L518.31,269.55 L518.47,270.34 L518.63,271.12 L518.79,271.88 L518.95,272.63 L519.1,273.38 L519.26,274.12 L519.42,274.86 L519.58,275.59 L519.74,276.31 L519.9,277.03 L520.05,277.73 L520.21,278.43 L520.37,279.11 L520.53,279.78 L520.69,280.43 L520.84,281.08 L521,281.7 L521.16,282.31 L521.32,282.9 L521.48,283.47 L521.64,284.02 L521.79,284.55 L521.95,285.06 L522.11,285.54 L522.27,286 L522.43,286.44 L522.59,286.85 L522.74,287.24 L522.9,287.63 L523.06,288.02 L523.22,288.39 L523.38,288.76 L523.54,289.12 L523.69,289.47 L523.85,289.82 L524.01,290.15 L524.17,290.48 L524.33,290.8 L524.49,291.12 L524.64,291.42 L524.8,291.72 L524.96,292.01 L525.12,292.29 L525.28,292.56 L525.44,292.82 L525.59,293.08 L525.75,293.32 L525.91,293.56 L526.07,293.79 L526.23,294.02 L526.39,294.23 L526.54,294.43 L526.7,294.63 L526.86,294.82 L527.02,294.99 L527.18,295.17 L527.33,295.34 L527.49,295.51 L527.65,295.68 L527.81,295.84 L527.97,296 L528.13,296.15 L528.28,296.31 L528.44,296.46 L528.6,296.6 L528.76,296.75 L528.92,296.89 L529.08,297.03 L529.23,297.16 L529.39,297.29 L529.55,297.42 L529.71,297.54 L529.87,297.67 L530.03,297.78 L530.18,297.9 L530.34,298.01 L530.5,298.12 L530.66,298.23 L530.82,298.34 L530.98,298.44 L531.13,298.54 L531.29,298.64 L531.45,298.74 L531.61,298.83 L531.77,298.92 L531.93,299 L532.08,299.08 L532.24,299.16 L532.4,299.24 L532.56,299.31 L532.72,299.39 L532.88,299.46 L533.03,299.53 L533.19,299.61 L533.35,299.68 L533.51,299.75 L533.67,299.82 L533.83,299.88 L533.98,299.95 L534.14,300.02 L534.3,300.08 L534.46,300.14 L534.62,300.21 L534.77,300.27 L534.93,300.33 L535.09,300.39 L535.25,300.45 L535.41,300.51 L535.57,300.56 L535.72,300.62 L535.88,300.67 L536.04,300.73 L536.2,300.78 L536.36,300.83 L536.52,300.88 L536.67,300.93 L536.83,300.98 L536.99,301.03 L537.15,301.08 L537.31,301.12 L537.47,301.17 L537.62,301.21 L537.78,301.25 L537.94,301.3 L538.1,301.34 L538.26,301.38 L538.42,301.41 L538.57,301.45 L538.73,301.49 L538.89,301.52 L539.05,301.56 L539.21,301.59 L539.37,301.62 L539.52,301.65 L539.68,301.68 L539.84,301.71 L540,301.74 L540.16,301.77 L540.32,301.8 L540.47,301.83 L540.63,301.86 L540.79,301.89 L540.95,301.92 L541.11,301.95 L541.26,301.97 L541.42,302 L541.58,302.03 L541.74,302.05 L541.9,302.08 L542.06,302.11 L542.21,302.13 L542.37,302.16 L542.53,302.18 L542.69,302.21 L542.85,302.23 L543.01,302.25 L543.16,302.28 L543.32,302.3 L543.48,302.32 L543.64,302.35 L543.8,302.37 L543.96,302.39 L544.11,302.41 L544.27,302.43 L544.43,302.45 L544.59,302.47 L544.75,302.49 L544.91,302.51 L545.06,302.52 L545.22,302.54 L545.38,302.56 L545.54,302.57 L545.7,302.59 L545.86,302.61 L546.01,302.62 L546.17,302.64 L546.33,302.65 L546.49,302.66 L546.65,302.68 L546.81,302.69 L546.96,302.7 L547.12,302.72 L547.28,302.73 L547.44,302.74 L547.6,302.76 L547.76,302.77 L547.91,302.78 L548.07,302.8 L548.23,302.81 L548.39,302.82 L548.55,302.83 L548.7,302.85 L548.86,302.86 L549.02,302.87 L549.18,302.88 L549.34,302.88 L549.5,302.88" fill="none" stroke="#56b4e9" stroke-width="2.85" stroke-linejoin="round" stroke-dasharray="10.5 15.2" clip-path="url(#cb)" />
<path d="M499,32.5 L499.16,33.17 L499.32,33.99 L499.47,34.95 L499.63,36.04 L499.79,37.25 L499.95,38.57 L500.11,39.98 L500.27,41.48 L500.42,43.04 L500.58,44.67 L500.74,46.47 L500.9,48.55 L501.06,50.86 L501.22,53.39 L501.37,56.1 L501.53,58.96 L501.69,61.94 L501.85,65.02 L502.01,68.15 L502.17,71.32 L502.32,74.49 L502.48,77.63 L502.64,80.71 L502.8,83.7 L502.96,86.58 L503.12,89.38 L503.27,92.18 L503.43,94.98 L503.59,97.77 L503.75,100.56 L503.91,103.36 L504.07,106.17 L504.22,108.98 L504.38,111.82 L504.54,114.66 L504.7,117.53 L504.86,120.43 L505.02,123.35 L505.17,126.31 L505.33,129.37 L505.49,132.52 L505.65,135.66 L505.81,138.69 L505.97,141.54 L506.12,144.32 L506.28,147.05 L506.44,149.75 L506.6,152.41 L506.76,155.03 L506.91,157.62 L507.07,160.18 L507.23,162.71 L507.39,165.22 L507.55,167.7 L507.71,170.15 L507.86,172.58 L508.02,175 L508.18,177.39 L508.34,179.77 L508.5,182.13 L508.66,184.49 L508.81,186.83 L508.97,189.16 L509.13,191.49 L509.29,193.81 L509.45,196.14 L509.61,198.51 L509.76,200.9 L509.92,203.28 L510.08,205.64 L510.24,207.96 L510.4,210.21 L510.56,212.38 L510.71,214.45 L510.87,216.39 L511.03,218.2 L511.19,219.85 L511.35,221.44 L511.51,222.99 L511.66,224.48 L511.82,225.94 L511.98,227.35 L512.14,228.72 L512.3,230.05 L512.46,231.35 L512.61,232.62 L512.77,233.86 L512.93,235.07 L513.09,236.25 L513.25,237.42 L513.4,238.56 L513.56,239.69 L513.72,240.8 L513.88,241.9 L514.04,242.99 L514.2,244.07 L514.35,245.15 L514.51,246.22 L514.67,247.3 L514.83,248.37 L514.99,249.44 L515.15,250.51 L515.3,251.57 L515.46,252.61 L515.62,253.66 L515.78,254.69 L515.94,255.71 L516.1,256.72 L516.25,257.72 L516.41,258.71 L516.57,259.69 L516.73,260.66 L516.89,261.62 L517.05,262.56 L517.2,263.48 L517.36,264.4 L517.52,265.29 L517.68,266.18 L517.84,267.04 L518,267.9 L518.15,268.73 L518.31,269.55 L518.47,270.34 L518.63,271.12 L518.79,271.88 L518.95,272.63 L519.1,273.38 L519.26,274.12 L519.42,274.86 L519.58,275.59 L519.74,276.31 L519.9,277.03 L520.05,277.73 L520.21,278.43 L520.37,279.11 L520.53,279.78 L520.69,280.43 L520.84,281.08 L521,281.7 L521.16,282.31 L521.32,282.9 L521.48,283.47 L521.64,284.02 L521.79,284.55 L521.95,285.06 L522.11,285.54 L522.27,286 L522.43,286.44 L522.59,286.85 L522.74,287.24 L522.9,287.63 L523.06,288.02 L523.22,288.39 L523.38,288.76 L523.54,289.12 L523.69,289.47 L523.85,289.82 L524.01,290.15 L524.17,290.48 L524.33,290.8 L524.49,291.12 L524.64,291.42 L524.8,291.72 L524.96,292.01 L525.12,292.29 L525.28,292.56 L525.44,292.82 L525.59,293.08 L525.75,293.32 L525.91,293.56 L526.07,293.79 L526.23,294.02 L526.39,294.23 L526.54,294.43 L526.7,294.63 L526.86,294.82 L527.02,294.99 L527.18,295.17 L527.33,295.34 L527.49,295.51 L527.65,295.68 L527.81,295.84 L527.97,296 L528.13,296.15 L528.28,296.31 L528.44,296.46 L528.6,296.6 L528.76,296.75 L528.92,296.89 L529.08,297.03 L529.23,297.16 L529.39,297.29 L529.55,297.42 L529.71,297.54 L529.87,297.67 L530.03,297.78 L530.18,297.9 L530.34,298.01 L530.5,298.12 L530.66,298.23 L530.82,298.34 L530.98,298.44 L531.13,298.54 L531.29,298.64 L531.45,298.74 L531.61,298.83 L531.77,298.92 L531.93,299 L532.08,299.08 L532.24,299.16 L532.4,299.24 L532.56,299.31 L532.72,299.39 L532.88,299.46 L533.03,299.53 L533.19,299.61 L533.35,299.68 L533.51,299.75 L533.67,299.82 L533.83,299.88 L533.98,299.95 L534.14,300.02 L534.3,300.08 L534.46,300.14 L534.62,300.21 L534.77,300.27 L534.93,300.33 L535.09,300.39 L535.25,300.45 L535.41,300.51 L535.57,300.56 L535.72,300.62 L535.88,300.67 L536.04,300.73 L536.2,300.78 L536.36,300.83 L536.52,300.88 L536.67,300.93 L536.83,300.98 L536.99,301.03 L537.15,301.08 L537.31,301.12 L537.47,301.17 L537.62,301.21 L537.78,301.25 L537.94,301.3 L538.1,301.34 L538.26,301.38 L538.42,301.41 L538.57,301.45 L538.73,301.49 L538.89,301.52 L539.05,301.56 L539.21,301.59 L539.37,301.62 L539.52,301.65 L539.68,301.68 L539.84,301.71 L540,301.74 L540.16,301.77 L540.32,301.8 L540.47,301.83 L540.63,301.86 L540.79,301.89 L540.95,301.92 L541.11,301.95 L541.26,301.97 L541.42,302 L541.58,302.03 L541.74,302.05 L541.9,302.08 L542.06,302.11 L542.21,302.13 L542.37,302.16 L542.53,302.18 L542.69,302.21 L542.85,302.23 L543.01,302.25 L543.16,302.28 L543.32,302.3 L543.48,302.32 L543.64,302.35 L543.8,302.37 L543.96,302.39 L544.11,302.41 L544.27,302.43 L544.43,302.45 L544.59,302.47 L544.75,302.49 L544.91,302.51 L545.06,302.52 L545.22,302.54 L545.38,302.56 L545.54,302.57 L545.7,302.59 L545.86,302.61 L546.01,302.62 L546.17,302.64 L546.33,302.65 L546.49,302.66 L546.65,302.68 L546.81,302.69 L546.96,302.7 L547.12,302.72 L547.28,302.73 L547.44,302.74 L547.6,302.76 L547.76,302.77 L547.91,302.78 L548.07,302.8 L548.23,302.81 L548.39,302.82 L548.55,302.83 L548.7,302.85 L548.86,302.86 L549.02,302.87 L549.18,302.88 L549.34,302.88 L549.5,302.88" fill="none" stroke="#9400d3" stroke-width="2.85" stroke-linejoin="round" stroke-dasharray="5.3 7.6" clip-path="url(#cb)" />
<path d="M604.27,302.95 L814.8,302.95" fill="none" stroke="#9400d3" stroke-width="2.85" stroke-linejoin="round" stroke-dasharray="5.3 7.6" clip-path="url(#cb)" />
<rect x="499" y="32.5" width="315.8" height="270.45" fill="none" stroke="#111" stroke-width="1.35"/>
<line x1="604.27" y1="302.95" x2="604.27" y2="292.35" stroke="#111" stroke-width="1.15" />
<line x1="604.27" y1="32.5" x2="604.27" y2="43.1" stroke="#111" stroke-width="1.15" />
<line x1="709.53" y1="302.95" x2="709.53" y2="292.35" stroke="#111" stroke-width="1.15" />
<line x1="709.53" y1="32.5" x2="709.53" y2="43.1" stroke="#111" stroke-width="1.15" />
<line x1="551.63" y1="302.95" x2="551.63" y2="297.65" stroke="#111" stroke-width="1.15" />
<line x1="551.63" y1="32.5" x2="551.63" y2="37.8" stroke="#111" stroke-width="1.15" />
<line x1="656.9" y1="302.95" x2="656.9" y2="297.65" stroke="#111" stroke-width="1.15" />
<line x1="656.9" y1="32.5" x2="656.9" y2="37.8" stroke="#111" stroke-width="1.15" />
<line x1="762.17" y1="302.95" x2="762.17" y2="297.65" stroke="#111" stroke-width="1.15" />
<line x1="762.17" y1="32.5" x2="762.17" y2="37.8" stroke="#111" stroke-width="1.15" />
<line x1="499" y1="248.86" x2="509.6" y2="248.86" stroke="#111" stroke-width="1.15" />
<line x1="814.8" y1="248.86" x2="804.2" y2="248.86" stroke="#111" stroke-width="1.15" />
<line x1="499" y1="194.77" x2="509.6" y2="194.77" stroke="#111" stroke-width="1.15" />
<line x1="814.8" y1="194.77" x2="804.2" y2="194.77" stroke="#111" stroke-width="1.15" />
<line x1="499" y1="140.68" x2="509.6" y2="140.68" stroke="#111" stroke-width="1.15" />
<line x1="814.8" y1="140.68" x2="804.2" y2="140.68" stroke="#111" stroke-width="1.15" />
<line x1="499" y1="86.59" x2="509.6" y2="86.59" stroke="#111" stroke-width="1.15" />
<line x1="814.8" y1="86.59" x2="804.2" y2="86.59" stroke="#111" stroke-width="1.15" />
<line x1="429.5" y1="225.6" x2="429.5" y2="206.9" stroke="#111" stroke-width="1.15" />
<line x1="722" y1="52.6" x2="782" y2="52.6" stroke="#bcbcbc" stroke-width="2.7" />
<line x1="722" y1="77.2" x2="782" y2="77.2" stroke="#56b4e9" stroke-width="2.85" stroke-dasharray="10.5 15.2"/>
<line x1="722" y1="101.7" x2="779" y2="101.7" stroke="#9400d3" stroke-width="2.85" stroke-dasharray="5.3 7.6"/>
<path d="M632.05,241.8 L632.09,237.87 L632.14,234.01 L632.18,230.23 L632.23,226.54 L632.27,222.95 L632.32,219.48 L632.36,216.12 L632.41,212.91 L632.45,209.85 L632.5,206.94 L632.54,204.09 L632.59,201.22 L632.63,198.35 L632.68,195.5 L632.72,192.69 L632.76,189.96 L632.81,187.32 L632.85,184.8 L632.9,182.41 L632.94,180.19 L632.99,178.15 L633.03,176.32 L633.08,174.72 L633.12,173.38 L633.17,172.3 L633.21,171.34 L633.26,170.4 L633.3,169.49 L633.34,168.59 L633.39,167.72 L633.43,166.87 L633.48,166.06 L633.52,165.27 L633.57,164.51 L633.61,163.79 L633.66,163.11 L633.7,162.46 L633.75,161.84 L633.79,161.27 L633.84,160.75 L633.88,160.26 L633.93,159.82 L633.97,159.43 L634.01,159.09 L634.06,158.8 L634.1,158.56 L634.15,158.38 L634.19,158.25 L634.24,158.18 L634.28,158.17 L634.33,158.18 L634.37,158.2 L634.42,158.23 L634.46,158.27 L634.51,158.32 L634.55,158.39 L634.59,158.46 L634.64,158.54 L634.68,158.63 L634.73,158.72 L634.77,158.83 L634.82,158.94 L634.86,159.06 L634.91,159.18 L634.95,159.31 L635,159.45 L635.04,159.59 L635.09,159.74 L635.13,159.89 L635.18,160.04 L635.22,160.2 L635.26,160.36 L635.31,160.53 L635.35,160.7 L635.4,160.87 L635.44,161.04 L635.49,161.21 L635.53,161.38 L635.58,161.55 L635.62,161.73 L635.67,161.92 L635.71,162.13 L635.76,162.35 L635.8,162.59 L635.85,162.84 L635.89,163.11 L635.93,163.4 L635.98,163.7 L636.02,164.01 L636.07,164.33 L636.11,164.66 L636.16,165.01 L636.2,165.37 L636.25,165.74 L636.29,166.11 L636.34,166.5 L636.38,166.9 L636.43,167.3 L636.47,167.71 L636.51,168.13 L636.56,168.55 L636.6,168.98 L636.65,169.42 L636.69,169.86 L636.74,170.31 L636.78,170.76 L636.83,171.21 L636.87,171.67 L636.92,172.13 L636.96,172.58 L637.01,173.05 L637.05,173.51 L637.1,173.97 L637.14,174.43 L637.18,174.89 L637.23,175.35 L637.27,175.81 L637.32,176.26 L637.36,176.71 L637.41,177.16 L637.45,177.6 L637.5,178.04 L637.54,178.47 L637.59,178.9 L637.63,179.32 L637.68,179.75 L637.72,180.19 L637.76,180.63 L637.81,181.07 L637.85,181.52 L637.9,181.97 L637.94,182.43 L637.99,182.89 L638.03,183.36 L638.08,183.83 L638.12,184.3 L638.17,184.78 L638.21,185.26 L638.26,185.74 L638.3,186.23 L638.35,186.71 L638.39,187.21 L638.43,187.7 L638.48,188.19 L638.52,188.69 L638.57,189.19 L638.61,189.69 L638.66,190.19 L638.7,190.69 L638.96,193.54 L639.21,196.39 L639.46,199.2 L639.72,201.92 L639.97,204.54 L640.22,207.01 L640.48,209.29 L640.73,211.48 L640.98,213.65 L641.24,215.8 L641.49,217.89 L641.74,219.91 L642,221.84 L642.25,223.65 L642.5,225.33 L642.76,226.85 L643.01,228.19 L643.26,229.36 L643.52,230.45 L643.77,231.49 L644.02,232.46 L644.28,233.35 L644.53,234.17 L644.78,234.89 L645.04,235.52 L645.29,236.05 L645.54,236.48 L645.79,236.9 L646.05,237.28 L646.3,237.64 L646.55,237.96 L646.81,238.23 L647.06,238.46 L647.31,238.64 L647.57,238.77 L647.82,238.85 L648.07,238.94 L648.33,239.01 L648.58,239.08 L648.83,239.15 L649.09,239.21 L649.34,239.26 L649.59,239.31 L649.85,239.36 L650.1,239.4 L650.35,239.44 L650.61,239.47 L650.86,239.51 L651.11,239.54 L651.37,239.57 L651.62,239.59 L651.87,239.62 L652.13,239.65 L652.38,239.67 L652.63,239.69 L652.89,239.72 L653.14,239.74 L653.39,239.76 L653.65,239.78 L653.9,239.79 L654.15,239.81 L654.41,239.83 L654.66,239.85 L654.91,239.86 L655.17,239.88 L655.42,239.89 L655.67,239.91 L655.93,239.92 L656.18,239.93 L656.43,239.95 L656.69,239.96 L656.94,239.97 L657.19,239.99 L657.45,240 L657.7,240.01 L657.95,240.03 L658.21,240.04 L658.46,240.06 L658.71,240.07 L658.97,240.08 L659.22,240.1 L659.47,240.11 L659.73,240.12 L659.98,240.14 L660.23,240.15 L660.49,240.16 L660.74,240.17 L660.99,240.18 L661.25,240.19 L661.5,240.2 L661.75,240.22 L662.01,240.23 L662.26,240.24 L662.51,240.25 L662.77,240.26 L663.02,240.27 L663.27,240.28 L663.53,240.29 L663.78,240.3 L664.03,240.31 L664.29,240.33 L664.54,240.34 L664.79,240.35 L665.05,240.36 L665.3,240.37 L665.55,240.39 L665.81,240.4 L666.06,240.41 L666.31,240.43 L666.57,240.44 L666.82,240.46 L667.07,240.47 L667.33,240.49 L667.58,240.5 L667.83,240.52 L668.09,240.54 L668.34,240.56 L668.59,240.59 L668.85,240.61 L669.1,240.64 L669.35,240.67 L669.61,240.69 L669.86,240.72 L670.11,240.76 L670.37,240.79 L670.62,240.82 L670.87,240.85 L671.13,240.88 L671.38,240.92 L671.63,240.95 L671.89,240.98 L672.14,241.01 L672.39,241.05 L672.64,241.08 L672.9,241.11 L673.15,241.14 L673.4,241.16 L673.66,241.19 L673.91,241.22 L674.16,241.24 L674.42,241.26 L674.67,241.28 L674.92,241.3 L675.18,241.32 L675.43,241.33 L675.68,241.35 L675.94,241.36 L676.19,241.36 L676.44,241.37 L676.7,241.37 L676.95,241.37 L677.2,241.38 L677.46,241.38 L677.71,241.38 L677.96,241.39 L678.22,241.39 L678.47,241.39 L678.72,241.39 L678.98,241.4 L679.23,241.4 L679.48,241.4 L679.74,241.41 L679.99,241.41 L680.24,241.41 L680.5,241.42 L680.75,241.42 L681,241.42 L681.26,241.42 L681.51,241.43 L681.76,241.43 L682.02,241.43 L682.27,241.44 L682.52,241.44 L682.78,241.44 L683.03,241.44 L683.28,241.45 L683.54,241.45 L683.79,241.45 L684.04,241.45 L684.3,241.46 L684.55,241.46 L684.8,241.46 L685.06,241.47 L685.31,241.47 L685.56,241.47 L685.82,241.47 L686.07,241.48 L686.32,241.48 L686.58,241.48 L686.83,241.48 L687.08,241.49 L687.34,241.49 L687.59,241.49 L687.84,241.49 L688.1,241.5 L688.35,241.5 L688.6,241.5 L688.86,241.5 L689.11,241.51 L689.36,241.51 L689.62,241.51 L689.87,241.51 L690.12,241.52 L690.38,241.52 L690.63,241.52 L690.88,241.52 L691.14,241.53 L691.39,241.53 L691.64,241.53 L691.9,241.53 L692.15,241.53 L692.4,241.54 L692.66,241.54 L692.91,241.54 L693.16,241.54 L693.42,241.55 L693.67,241.55 L693.92,241.55 L694.18,241.55 L694.43,241.55 L694.68,241.56 L694.94,241.56 L695.19,241.56 L695.44,241.56 L695.7,241.57 L695.95,241.57 L696.2,241.57 L696.46,241.57 L696.71,241.57 L696.96,241.58 L697.22,241.58 L697.47,241.58 L697.72,241.58 L697.98,241.58 L698.23,241.59 L698.48,241.59 L698.73,241.59 L698.99,241.59 L699.24,241.59 L699.49,241.6 L699.75,241.6 L700,241.6 L700.25,241.6 L700.51,241.6 L700.76,241.61 L701.01,241.61 L701.27,241.61 L701.52,241.61 L701.77,241.61 L702.03,241.61 L702.28,241.62 L702.53,241.62 L702.79,241.62 L703.04,241.62 L703.29,241.62 L703.55,241.63 L703.8,241.63 L704.05,241.63 L704.31,241.63 L704.56,241.63 L704.81,241.63 L705.07,241.64 L705.32,241.64 L705.57,241.64 L705.83,241.64 L706.08,241.64 L706.33,241.64 L706.59,241.65 L706.84,241.65 L707.09,241.65 L707.35,241.65 L707.6,241.65 L707.85,241.65 L708.11,241.65 L708.36,241.66 L708.61,241.66 L708.87,241.66 L709.12,241.66 L709.37,241.66 L709.63,241.66 L709.88,241.67 L710.13,241.67 L710.39,241.67 L710.64,241.67 L710.89,241.67 L711.15,241.67 L711.4,241.67 L711.65,241.68 L711.91,241.68 L712.16,241.68 L712.41,241.68 L712.67,241.68 L712.92,241.68 L713.17,241.68 L713.43,241.69 L713.68,241.69 L713.93,241.69 L714.19,241.69 L714.44,241.69 L714.69,241.69 L714.95,241.69 L715.2,241.69 L715.45,241.7 L715.71,241.7 L715.96,241.7 L716.21,241.7 L716.47,241.7 L716.72,241.7 L716.97,241.7 L717.23,241.7 L717.48,241.71 L717.73,241.71 L717.99,241.71 L718.24,241.71 L718.49,241.71 L718.75,241.71 L719,241.71 L719.25,241.71 L719.51,241.71 L719.76,241.72 L720.01,241.72 L720.27,241.72 L720.52,241.72 L720.77,241.72 L721.03,241.72 L721.28,241.72 L721.53,241.72 L721.79,241.72 L722.04,241.73 L722.29,241.73 L722.55,241.73 L722.8,241.73 L723.05,241.73 L723.31,241.73 L723.56,241.73 L723.81,241.73 L724.07,241.73 L724.32,241.73 L724.57,241.74 L724.83,241.74 L725.08,241.74 L725.33,241.74 L725.58,241.74 L725.84,241.74 L726.09,241.74 L726.34,241.74 L726.6,241.74 L726.85,241.74 L727.1,241.74 L727.36,241.75 L727.61,241.75 L727.86,241.75 L728.12,241.75 L728.37,241.75 L728.62,241.75 L728.88,241.75 L729.13,241.75 L729.38,241.75 L729.64,241.75 L729.89,241.75 L730.14,241.75 L730.4,241.76 L730.65,241.76 L730.9,241.76 L731.16,241.76 L731.41,241.76 L731.66,241.76 L731.92,241.76 L732.17,241.76 L732.42,241.76 L732.68,241.76 L732.93,241.76 L733.18,241.76 L733.44,241.76 L733.69,241.76 L733.94,241.76 L734.2,241.77 L734.45,241.77 L734.7,241.77 L734.96,241.77 L735.21,241.77 L735.46,241.77 L735.72,241.77 L735.97,241.77 L736.22,241.77 L736.48,241.77 L736.73,241.77 L736.98,241.77 L737.24,241.77 L737.49,241.77 L737.74,241.77 L738,241.77 L738.25,241.77 L738.5,241.78 L738.76,241.78 L739.01,241.78 L739.26,241.78 L739.52,241.78 L739.77,241.78 L740.02,241.78 L740.28,241.78 L740.53,241.78 L740.78,241.78 L741.04,241.78 L741.29,241.78 L741.54,241.78 L741.8,241.78 L742.05,241.78 L742.3,241.78 L742.56,241.78 L742.81,241.78 L743.06,241.78 L743.32,241.78 L743.57,241.78 L743.82,241.79 L744.08,241.79 L744.33,241.79 L744.58,241.79 L744.84,241.79 L745.09,241.79 L745.34,241.79 L745.6,241.79 L745.85,241.79 L746.1,241.79 L746.36,241.79 L746.61,241.79 L746.86,241.79 L747.12,241.79 L747.37,241.79 L747.62,241.79 L747.88,241.79 L748.13,241.79 L748.38,241.79 L748.64,241.79 L748.89,241.79 L749.14,241.79 L749.4,241.79 L749.65,241.79 L749.9,241.79 L750.16,241.79 L750.41,241.79 L750.66,241.79 L750.92,241.79 L751.17,241.79 L751.42,241.79 L751.68,241.79 L751.93,241.79 L752.18,241.79 L752.43,241.8 L752.69,241.8 L752.94,241.8 L753.19,241.8 L753.45,241.8 L753.7,241.8 L753.95,241.8 L754.21,241.8 L754.46,241.8 L754.71,241.8 L754.97,241.8 L755.22,241.8 L755.47,241.8 L755.73,241.8 L755.98,241.8 L756.23,241.8 L756.49,241.8 L756.74,241.8 L756.99,241.8 L757.25,241.8 L757.5,241.8 L757.75,241.8 L758.01,241.8 L758.26,241.8 L758.51,241.8 L758.77,241.8 L759.02,241.8 L759.27,241.8 L759.53,241.8 L759.78,241.8 L760.03,241.8 L760.29,241.8 L760.54,241.8 L760.79,241.8 L761.05,241.8 L761.3,241.8 L761.55,241.8 L761.81,241.8 L762.06,241.8 L762.31,241.8 L762.57,241.8 L762.82,241.8 L763.07,241.8 L763.33,241.8 L763.58,241.8 L763.83,241.8 L764.09,241.8 L764.34,241.8 L764.59,241.8 L764.85,241.8 L765.1,241.8" fill="none" stroke="#56b4e9" stroke-width="2.85" stroke-linejoin="round" stroke-dasharray="10.5 15.2" clip-path="url(#ib)" />
<path d="M632.05,241.8 L632.09,237.93 L632.14,234.12 L632.18,230.38 L632.23,226.72 L632.27,223.15 L632.32,219.67 L632.36,216.3 L632.41,213.05 L632.45,209.93 L632.5,206.94 L632.54,203.98 L632.59,201 L632.63,198.01 L632.68,195.03 L632.72,192.09 L632.76,189.22 L632.81,186.44 L632.85,183.76 L632.9,181.22 L632.94,178.84 L632.99,176.64 L633.03,174.64 L633.08,172.87 L633.12,171.35 L633.17,170.11 L633.21,168.99 L633.26,167.91 L633.3,166.87 L633.34,165.86 L633.39,164.9 L633.43,163.98 L633.48,163.1 L633.52,162.27 L633.57,161.48 L633.61,160.73 L633.66,160.03 L633.7,159.38 L633.75,158.77 L633.79,158.21 L633.84,157.71 L633.88,157.25 L633.93,156.84 L633.97,156.48 L634.01,156.18 L634.06,155.93 L634.1,155.69 L634.15,155.46 L634.19,155.24 L634.24,155.03 L634.28,154.82 L634.33,154.63 L634.37,154.44 L634.42,154.27 L634.46,154.11 L634.51,153.96 L634.55,153.83 L634.59,153.72 L634.64,153.62 L634.68,153.53 L634.73,153.47 L634.77,153.43 L634.82,153.4 L634.86,153.4 L634.91,153.45 L634.95,153.55 L635,153.69 L635.04,153.87 L635.09,154.1 L635.13,154.36 L635.18,154.66 L635.22,154.99 L635.26,155.35 L635.31,155.74 L635.35,156.15 L635.4,156.59 L635.44,157.04 L635.49,157.51 L635.53,158 L635.58,158.5 L635.62,159.01 L635.67,159.53 L635.71,160.05 L635.76,160.58 L635.8,161.1 L635.85,161.62 L635.89,162.13 L635.93,162.64 L635.98,163.13 L636.02,163.61 L636.07,164.08 L636.11,164.57 L636.16,165.07 L636.2,165.59 L636.25,166.12 L636.29,166.66 L636.34,167.22 L636.38,167.79 L636.43,168.37 L636.47,168.96 L636.51,169.56 L636.56,170.17 L636.6,170.79 L636.65,171.41 L636.69,172.04 L636.74,172.67 L636.78,173.31 L636.83,173.95 L636.87,174.6 L636.92,175.24 L636.96,175.89 L637.01,176.53 L637.05,177.18 L637.1,177.82 L637.14,178.46 L637.18,179.1 L637.23,179.73 L637.27,180.35 L637.32,180.97 L637.36,181.58 L637.41,182.19 L637.45,182.78 L637.5,183.37 L637.54,183.94 L637.59,184.51 L637.63,185.06 L637.68,185.62 L637.72,186.18 L637.76,186.73 L637.81,187.29 L637.85,187.85 L637.9,188.41 L637.94,188.97 L637.99,189.53 L638.03,190.09 L638.08,190.65 L638.12,191.21 L638.17,191.77 L638.21,192.33 L638.26,192.89 L638.3,193.44 L638.35,194 L638.39,194.56 L638.43,195.11 L638.48,195.67 L638.52,196.22 L638.57,196.77 L638.61,197.32 L638.66,197.87 L638.7,198.42 L638.96,201.48 L639.21,204.47 L639.46,207.36 L639.72,210.13 L639.97,212.76 L640.22,215.24 L640.48,217.53 L640.73,219.71 L640.98,221.85 L641.24,223.94 L641.49,225.96 L641.74,227.89 L642,229.71 L642.25,231.42 L642.5,232.98 L642.76,234.38 L643.01,235.61 L643.26,236.68 L643.52,237.74 L643.77,238.78 L644.02,239.74 L644.28,240.58 L644.53,241.23 L644.78,241.66 L645.04,241.8 L645.29,241.75 L645.54,241.62 L645.79,241.43 L646.05,241.2 L646.3,240.93 L646.55,240.64 L646.81,240.35 L647.06,240.08 L647.31,239.84 L647.57,239.64 L647.82,239.47 L648.07,239.31 L648.33,239.16 L648.58,239.02 L648.83,238.88 L649.09,238.74 L649.34,238.61 L649.59,238.48 L649.85,238.35 L650.1,238.23 L650.35,238.1 L650.61,237.97 L650.86,237.84 L651.11,237.71 L651.37,237.57 L651.62,237.43 L651.87,237.29 L652.13,237.13 L652.38,236.97 L652.63,236.81 L652.89,236.65 L653.14,236.48 L653.39,236.32 L653.65,236.16 L653.9,236 L654.15,235.86 L654.41,235.72 L654.66,235.58 L654.91,235.47 L655.17,235.36 L655.42,235.27 L655.67,235.18 L655.93,235.09 L656.18,235 L656.43,234.92 L656.69,234.83 L656.94,234.75 L657.19,234.67 L657.45,234.6 L657.7,234.53 L657.95,234.46 L658.21,234.4 L658.46,234.35 L658.71,234.31 L658.97,234.27 L659.22,234.24 L659.47,234.22 L659.73,234.22 L659.98,234.23 L660.23,234.27 L660.49,234.33 L660.74,234.42 L660.99,234.52 L661.25,234.65 L661.5,234.78 L661.75,234.93 L662.01,235.08 L662.26,235.24 L662.51,235.39 L662.77,235.54 L663.02,235.69 L663.27,235.83 L663.53,235.99 L663.78,236.16 L664.03,236.33 L664.29,236.51 L664.54,236.7 L664.79,236.89 L665.05,237.08 L665.3,237.27 L665.55,237.45 L665.81,237.63 L666.06,237.81 L666.31,237.97 L666.57,238.14 L666.82,238.3 L667.07,238.47 L667.33,238.63 L667.58,238.8 L667.83,238.96 L668.09,239.12 L668.34,239.27 L668.59,239.42 L668.85,239.57 L669.1,239.72 L669.35,239.86 L669.61,239.99 L669.86,240.12 L670.11,240.26 L670.37,240.4 L670.62,240.55 L670.87,240.7 L671.13,240.84 L671.38,240.99 L671.63,241.13 L671.89,241.26 L672.14,241.38 L672.39,241.49 L672.64,241.59 L672.9,241.67 L673.15,241.74 L673.4,241.78 L673.66,241.8 L673.91,241.8 L674.16,241.79 L674.42,241.78 L674.67,241.77 L674.92,241.75 L675.18,241.73 L675.43,241.7 L675.68,241.67 L675.94,241.64 L676.19,241.61 L676.44,241.57 L676.7,241.53 L676.95,241.5 L677.2,241.46 L677.46,241.41 L677.71,241.37 L677.96,241.33 L678.22,241.29 L678.47,241.25 L678.72,241.21 L678.98,241.17 L679.23,241.13 L679.48,241.09 L679.74,241.06 L679.99,241.02 L680.24,240.99 L680.5,240.96 L680.75,240.94 L681,240.92 L681.26,240.9 L681.51,240.87 L681.76,240.85 L682.02,240.83 L682.27,240.81 L682.52,240.78 L682.78,240.76 L683.03,240.74 L683.28,240.72 L683.54,240.7 L683.79,240.68 L684.04,240.66 L684.3,240.64 L684.55,240.62 L684.8,240.6 L685.06,240.58 L685.31,240.57 L685.56,240.55 L685.82,240.54 L686.07,240.53 L686.32,240.52 L686.58,240.51 L686.83,240.51 L687.08,240.5 L687.34,240.5 L687.59,240.5 L687.84,240.5 L688.1,240.51 L688.35,240.51 L688.6,240.52 L688.86,240.53 L689.11,240.55 L689.36,240.56 L689.62,240.58 L689.87,240.6 L690.12,240.62 L690.38,240.64 L690.63,240.66 L690.88,240.68 L691.14,240.71 L691.39,240.73 L691.64,240.76 L691.9,240.79 L692.15,240.81 L692.4,240.84 L692.66,240.87 L692.91,240.9 L693.16,240.93 L693.42,240.96 L693.67,240.98 L693.92,241.01 L694.18,241.04 L694.43,241.07 L694.68,241.1 L694.94,241.12 L695.19,241.15 L695.44,241.17 L695.7,241.2 L695.95,241.22 L696.2,241.24 L696.46,241.26 L696.71,241.28 L696.96,241.3 L697.22,241.31 L697.47,241.33 L697.72,241.34 L697.98,241.35 L698.23,241.36 L698.48,241.37 L698.73,241.37 L698.99,241.37 L699.24,241.38 L699.49,241.38 L699.75,241.38 L700,241.39 L700.25,241.39 L700.51,241.4 L700.76,241.4 L701.01,241.4 L701.27,241.41 L701.52,241.41 L701.77,241.41 L702.03,241.42 L702.28,241.42 L702.53,241.42 L702.79,241.43 L703.04,241.43 L703.29,241.43 L703.55,241.44 L703.8,241.44 L704.05,241.44 L704.31,241.45 L704.56,241.45 L704.81,241.45 L705.07,241.46 L705.32,241.46 L705.57,241.46 L705.83,241.47 L706.08,241.47 L706.33,241.47 L706.59,241.48 L706.84,241.48 L707.09,241.48 L707.35,241.49 L707.6,241.49 L707.85,241.49 L708.11,241.5 L708.36,241.5 L708.61,241.5 L708.87,241.51 L709.12,241.51 L709.37,241.51 L709.63,241.51 L709.88,241.52 L710.13,241.52 L710.39,241.52 L710.64,241.53 L710.89,241.53 L711.15,241.53 L711.4,241.53 L711.65,241.54 L711.91,241.54 L712.16,241.54 L712.41,241.55 L712.67,241.55 L712.92,241.55 L713.17,241.55 L713.43,241.56 L713.68,241.56 L713.93,241.56 L714.19,241.56 L714.44,241.57 L714.69,241.57 L714.95,241.57 L715.2,241.58 L715.45,241.58 L715.71,241.58 L715.96,241.58 L716.21,241.59 L716.47,241.59 L716.72,241.59 L716.97,241.59 L717.23,241.6 L717.48,241.6 L717.73,241.6 L717.99,241.6 L718.24,241.6 L718.49,241.61 L718.75,241.61 L719,241.61 L719.25,241.61 L719.51,241.62 L719.76,241.62 L720.01,241.62 L720.27,241.62 L720.52,241.63 L720.77,241.63 L721.03,241.63 L721.28,241.63 L721.53,241.63 L721.79,241.64 L722.04,241.64 L722.29,241.64 L722.55,241.64 L722.8,241.64 L723.05,241.65 L723.31,241.65 L723.56,241.65 L723.81,241.65 L724.07,241.65 L724.32,241.66 L724.57,241.66 L724.83,241.66 L725.08,241.66 L725.33,241.66 L725.58,241.67 L725.84,241.67 L726.09,241.67 L726.34,241.67 L726.6,241.67 L726.85,241.68 L727.1,241.68 L727.36,241.68 L727.61,241.68 L727.86,241.68 L728.12,241.68 L728.37,241.69 L728.62,241.69 L728.88,241.69 L729.13,241.69 L729.38,241.69 L729.64,241.69 L729.89,241.7 L730.14,241.7 L730.4,241.7 L730.65,241.7 L730.9,241.7 L731.16,241.7 L731.41,241.71 L731.66,241.71 L731.92,241.71 L732.17,241.71 L732.42,241.71 L732.68,241.71 L732.93,241.71 L733.18,241.72 L733.44,241.72 L733.69,241.72 L733.94,241.72 L734.2,241.72 L734.45,241.72 L734.7,241.72 L734.96,241.73 L735.21,241.73 L735.46,241.73 L735.72,241.73 L735.97,241.73 L736.22,241.73 L736.48,241.73 L736.73,241.74 L736.98,241.74 L737.24,241.74 L737.49,241.74 L737.74,241.74 L738,241.74 L738.25,241.74 L738.5,241.74 L738.76,241.74 L739.01,241.75 L739.26,241.75 L739.52,241.75 L739.77,241.75 L740.02,241.75 L740.28,241.75 L740.53,241.75 L740.78,241.75 L741.04,241.75 L741.29,241.76 L741.54,241.76 L741.8,241.76 L742.05,241.76 L742.3,241.76 L742.56,241.76 L742.81,241.76 L743.06,241.76 L743.32,241.76 L743.57,241.76 L743.82,241.77 L744.08,241.77 L744.33,241.77 L744.58,241.77 L744.84,241.77 L745.09,241.77 L745.34,241.77 L745.6,241.77 L745.85,241.77 L746.1,241.77 L746.36,241.77 L746.61,241.77 L746.86,241.77 L747.12,241.78 L747.37,241.78 L747.62,241.78 L747.88,241.78 L748.13,241.78 L748.38,241.78 L748.64,241.78 L748.89,241.78 L749.14,241.78 L749.4,241.78 L749.65,241.78 L749.9,241.78 L750.16,241.78 L750.41,241.78 L750.66,241.78 L750.92,241.79 L751.17,241.79 L751.42,241.79 L751.68,241.79 L751.93,241.79 L752.18,241.79 L752.43,241.79 L752.69,241.79 L752.94,241.79 L753.19,241.79 L753.45,241.79 L753.7,241.79 L753.95,241.79 L754.21,241.79 L754.46,241.79 L754.71,241.79 L754.97,241.79 L755.22,241.79 L755.47,241.79 L755.73,241.79 L755.98,241.79 L756.23,241.79 L756.49,241.79 L756.74,241.8 L756.99,241.8 L757.25,241.8 L757.5,241.8 L757.75,241.8 L758.01,241.8 L758.26,241.8 L758.51,241.8 L758.77,241.8 L759.02,241.8 L759.27,241.8 L759.53,241.8 L759.78,241.8 L760.03,241.8 L760.29,241.8 L760.54,241.8 L760.79,241.8 L761.05,241.8 L761.3,241.8 L761.55,241.8 L761.81,241.8 L762.06,241.8 L762.31,241.8 L762.57,241.8 L762.82,241.8 L763.07,241.8 L763.33,241.8 L763.58,241.8 L763.83,241.8 L764.09,241.8 L764.34,241.8 L764.59,241.8 L764.85,241.8 L765.1,241.8" fill="none" stroke="#9400d3" stroke-width="2.85" stroke-linejoin="round" stroke-dasharray="5.3 7.6" clip-path="url(#ib)" />
<rect x="632.05" y="133.9" width="133.05" height="107.9" fill="none" stroke="#111" stroke-width="1.35"/>
<line x1="676.4" y1="241.8" x2="676.4" y2="231.2" stroke="#111" stroke-width="1.15" />
<line x1="676.4" y1="133.9" x2="676.4" y2="144.5" stroke="#111" stroke-width="1.15" />
<line x1="720.75" y1="241.8" x2="720.75" y2="231.2" stroke="#111" stroke-width="1.15" />
<line x1="720.75" y1="133.9" x2="720.75" y2="144.5" stroke="#111" stroke-width="1.15" />
<line x1="632.05" y1="198.47" x2="642.65" y2="198.47" stroke="#111" stroke-width="1.15" />
<line x1="765.1" y1="198.47" x2="754.5" y2="198.47" stroke="#111" stroke-width="1.15" />
<line x1="632.05" y1="155.13" x2="642.65" y2="155.13" stroke="#111" stroke-width="1.15" />
<line x1="765.1" y1="155.13" x2="754.5" y2="155.13" stroke="#111" stroke-width="1.15" />
<line x1="631.35" y1="120.8" x2="641.15" y2="130.6" stroke="#111" stroke-width="1.0" />
<line x1="631.35" y1="130.6" x2="641.15" y2="120.8" stroke="#111" stroke-width="1.0" />
<line x1="664.55" y1="120.6" x2="673.75" y2="120.6" stroke="#111" stroke-width="1.0" />
<path d="M80.52,671.27 L81.59,666.49 L82.67,661.92 L83.74,657.53 L84.81,653.32 L85.89,649.26 L86.96,645.36 L88.04,641.58 L89.11,637.94 L90.18,634.42 L91.26,631 L92.33,627.69 L93.41,624.48 L94.48,621.37 L95.55,618.34 L96.63,615.39 L97.7,612.52 L98.78,609.73 L99.85,607.01 L100.92,604.35 L102,601.76 L103.07,599.23 L104.15,596.76 L105.22,594.34 L106.29,591.98 L107.37,589.66 L108.44,587.4 L109.51,585.18 L110.59,583.01 L111.66,580.88 L112.74,578.79 L113.81,576.74 L114.88,574.73 L115.96,572.75 L117.03,570.81 L118.11,568.91 L119.18,567.04 L120.25,565.2 L121.33,563.39 L122.4,561.61 L123.48,559.86 L124.55,558.14 L125.62,556.45 L126.7,554.78 L127.77,553.14 L128.85,551.52 L129.92,549.92 L130.99,548.35 L132.07,546.8 L133.14,545.28 L134.22,543.77 L135.29,542.29 L136.36,540.82 L137.44,539.38 L138.51,537.95 L139.59,536.55 L140.66,535.16 L141.73,533.79 L142.81,532.43 L143.88,531.1 L144.96,529.78 L146.03,528.47 L147.1,527.18 L148.18,525.91 L149.25,524.65 L150.33,523.41 L151.4,522.18 L152.47,520.96 L153.55,519.76 L154.62,518.57 L155.7,517.39 L156.77,516.23 L157.84,515.08 L158.92,513.94 L159.99,512.81 L161.06,511.69 L162.14,510.59 L163.21,509.5 L164.29,508.42 L165.36,507.35 L166.43,506.28 L167.51,505.23 L168.58,504.19 L169.66,503.16 L170.73,502.14 L171.8,501.13 L172.88,500.13 L173.95,499.14 L175.03,498.16 L176.1,497.18 L177.17,496.22 L178.25,495.26 L179.32,494.31 L180.4,493.37 L181.47,492.44 L182.54,491.52 L183.62,490.6 L184.69,489.69 L185.77,488.79 L186.84,487.9 L187.91,487.01 L188.99,486.13 L190.06,485.26 L191.14,484.4 L192.21,483.54 L193.28,482.69 L194.36,481.84 L195.43,481.01 L196.51,480.17 L197.58,479.35 L198.65,478.53 L199.73,477.72 L200.8,476.91 L201.88,476.11 L202.95,475.32 L204.02,474.53 L205.1,473.75 L206.17,472.97 L207.25,472.2 L208.32,471.43 L209.39,470.67 L210.47,469.91 L211.54,469.16 L212.62,468.42 L213.69,467.68 L214.76,466.94 L215.84,466.21 L216.91,465.49 L217.98,464.77 L219.06,464.05 L220.13,463.34 L221.21,462.64 L222.28,461.94 L223.35,461.24 L224.43,460.55 L225.5,459.86 L226.58,459.17 L227.65,458.5 L228.72,457.82 L229.8,457.15 L230.87,456.48 L231.95,455.82 L233.02,455.16 L234.09,454.51 L235.17,453.86 L236.24,453.21 L237.32,452.57 L238.39,451.93 L239.46,451.29 L240.54,450.66 L241.61,450.03 L242.69,449.41 L243.76,448.79 L244.83,448.17 L245.91,447.56 L246.98,446.95 L248.06,446.34 L249.13,445.74 L250.2,445.14 L251.28,444.54 L252.35,443.95 L253.43,443.36 L254.5,442.77 L255.57,442.19 L256.65,441.61 L257.72,441.03 L258.8,440.46 L259.87,439.89 L260.94,439.32 L262.02,438.75 L263.09,438.19 L264.17,437.63 L265.24,437.08 L266.31,436.52 L267.39,435.97 L268.46,435.42 L269.53,434.88 L270.61,434.34 L271.68,433.8 L272.76,433.26 L273.83,432.72 L274.9,432.19 L275.98,431.66 L277.05,431.14 L278.13,430.61 L279.2,430.09 L280.27,429.57 L281.35,429.06 L282.42,428.54 L283.5,428.03 L284.57,427.52 L285.64,427.02 L286.72,426.51 L287.79,426.01 L288.87,425.51 L289.94,425.01 L291.01,424.52 L292.09,424.02 L293.16,423.53 L294.24,423.05 L295.31,422.56 L296.38,422.08 L297.46,421.59 L298.53,421.11 L299.61,420.64 L300.68,420.16 L301.75,419.69 L302.83,419.22 L303.9,418.75 L304.98,418.28 L306.05,417.81 L307.12,417.35 L308.2,416.89 L309.27,416.43 L310.35,415.97 L311.42,415.52 L312.49,415.07 L313.57,414.61 L314.64,414.16 L315.72,413.72 L316.79,413.27 L317.86,412.83 L318.94,412.38 L320.01,411.94 L321.09,411.51 L322.16,411.07 L323.23,410.63 L324.31,410.2 L325.38,409.77 L326.45,409.34 L327.53,408.91 L328.6,408.48 L329.68,408.06 L330.75,407.64 L331.82,407.22 L332.9,406.8 L333.97,406.38 L335.05,405.96 L336.12,405.55 L337.19,405.13 L338.27,404.72 L339.34,404.31 L340.42,403.9 L341.49,403.5 L342.56,403.09 L343.64,402.69 L344.71,402.28 L345.79,401.88 L346.86,401.48 L347.93,401.08 L349.01,400.69 L350.08,400.29 L351.16,399.9 L352.23,399.51 L353.3,399.12 L354.38,398.73 L355.45,398.34 L356.53,397.95 L357.6,397.57 L358.67,397.18 L359.75,396.8 L360.82,396.42 L361.9,396.04 L362.97,395.66 L364.04,395.28 L365.12,394.91 L366.19,394.53 L367.27,394.16 L368.34,393.79 L369.41,393.42 L370.49,393.05 L371.56,392.68 L372.64,392.31 L373.71,391.95 L374.78,391.58 L375.86,391.22 L376.93,390.86 L378,390.5 L379.08,390.14 L380.15,389.78 L381.23,389.42 L382.3,389.07 L383.37,388.71 L384.45,388.36 L385.52,388 L386.6,387.65 L387.67,387.3 L388.74,386.95 L389.82,386.61 L390.89,386.26 L391.97,385.91 L393.04,385.57 L394.11,385.23 L395.19,384.88 L396.26,384.54 L397.34,384.2 L398.41,383.86 L399.48,383.52 L400.56,383.19 L401.63,382.85" fill="none" stroke="#56b4e9" stroke-width="2.7" stroke-linejoin="round" clip-path="url(#cc)" />
<path d="M80.52,637.74 L81.59,635.35 L82.67,633.07 L83.74,630.87 L84.81,628.77 L85.89,626.74 L86.96,624.78 L88.04,622.9 L89.11,621.08 L90.18,619.31 L91.26,617.61 L92.33,615.95 L93.41,614.35 L94.48,612.79 L95.55,611.28 L96.63,609.8 L97.7,608.37 L98.78,606.97 L99.85,605.61 L100.92,604.28 L102,602.99 L103.07,601.72 L104.15,600.49 L105.22,599.28 L106.29,598.09 L107.37,596.94 L108.44,595.81 L109.51,594.7 L110.59,593.61 L111.66,592.54 L112.74,591.5 L113.81,590.48 L114.88,589.47 L115.96,588.48 L117.03,587.51 L118.11,586.56 L119.18,585.63 L120.25,584.71 L121.33,583.8 L122.4,582.91 L123.48,582.04 L124.55,581.18 L125.62,580.33 L126.7,579.5 L127.77,578.67 L128.85,577.87 L129.92,577.07 L130.99,576.28 L132.07,575.51 L133.14,574.75 L134.22,573.99 L135.29,573.25 L136.36,572.52 L137.44,571.8 L138.51,571.08 L139.59,570.38 L140.66,569.69 L141.73,569 L142.81,568.32 L143.88,567.66 L144.96,566.99 L146.03,566.34 L147.1,565.7 L148.18,565.06 L149.25,564.43 L150.33,563.81 L151.4,563.19 L152.47,562.59 L153.55,561.99 L154.62,561.39 L155.7,560.8 L156.77,560.22 L157.84,559.65 L158.92,559.08 L159.99,558.51 L161.06,557.95 L162.14,557.4 L163.21,556.86 L164.29,556.32 L165.36,555.78 L166.43,555.25 L167.51,554.72 L168.58,554.2 L169.66,553.69 L170.73,553.18 L171.8,552.67 L172.88,552.17 L173.95,551.68 L175.03,551.19 L176.1,550.7 L177.17,550.22 L178.25,549.74 L179.32,549.26 L180.4,548.79 L181.47,548.33 L182.54,547.86 L183.62,547.41 L184.69,546.95 L185.77,546.5 L186.84,546.06 L187.91,545.61 L188.99,545.17 L190.06,544.74 L191.14,544.3 L192.21,543.88 L193.28,543.45 L194.36,543.03 L195.43,542.61 L196.51,542.19 L197.58,541.78 L198.65,541.37 L199.73,540.97 L200.8,540.56 L201.88,540.16 L202.95,539.77 L204.02,539.37 L205.1,538.98 L206.17,538.59 L207.25,538.2 L208.32,537.82 L209.39,537.44 L210.47,537.06 L211.54,536.69 L212.62,536.32 L213.69,535.95 L214.76,535.58 L215.84,535.21 L216.91,534.85 L217.98,534.49 L219.06,534.13 L220.13,533.78 L221.21,533.43 L222.28,533.07 L223.35,532.73 L224.43,532.38 L225.5,532.04 L226.58,531.69 L227.65,531.35 L228.72,531.02 L229.8,530.68 L230.87,530.35 L231.95,530.02 L233.02,529.69 L234.09,529.36 L235.17,529.04 L236.24,528.71 L237.32,528.39 L238.39,528.07 L239.46,527.75 L240.54,527.44 L241.61,527.12 L242.69,526.81 L243.76,526.5 L244.83,526.19 L245.91,525.89 L246.98,525.58 L248.06,525.28 L249.13,524.98 L250.2,524.68 L251.28,524.38 L252.35,524.08 L253.43,523.79 L254.5,523.49 L255.57,523.2 L256.65,522.91 L257.72,522.62 L258.8,522.34 L259.87,522.05 L260.94,521.77 L262.02,521.48 L263.09,521.2 L264.17,520.92 L265.24,520.64 L266.31,520.37 L267.39,520.09 L268.46,519.82 L269.53,519.55 L270.61,519.27 L271.68,519 L272.76,518.74 L273.83,518.47 L274.9,518.2 L275.98,517.94 L277.05,517.68 L278.13,517.41 L279.2,517.15 L280.27,516.89 L281.35,516.63 L282.42,516.38 L283.5,516.12 L284.57,515.87 L285.64,515.61 L286.72,515.36 L287.79,515.11 L288.87,514.86 L289.94,514.61 L291.01,514.37 L292.09,514.12 L293.16,513.87 L294.24,513.63 L295.31,513.39 L296.38,513.14 L297.46,512.9 L298.53,512.66 L299.61,512.42 L300.68,512.19 L301.75,511.95 L302.83,511.72 L303.9,511.48 L304.98,511.25 L306.05,511.01 L307.12,510.78 L308.2,510.55 L309.27,510.32 L310.35,510.09 L311.42,509.87 L312.49,509.64 L313.57,509.41 L314.64,509.19 L315.72,508.97 L316.79,508.74 L317.86,508.52 L318.94,508.3 L320.01,508.08 L321.09,507.86 L322.16,507.64 L323.23,507.42 L324.31,507.21 L325.38,506.99 L326.45,506.78 L327.53,506.56 L328.6,506.35 L329.68,506.14 L330.75,505.93 L331.82,505.71 L332.9,505.5 L333.97,505.3 L335.05,505.09 L336.12,504.88 L337.19,504.67 L338.27,504.47 L339.34,504.26 L340.42,504.06 L341.49,503.85 L342.56,503.65 L343.64,503.45 L344.71,503.25 L345.79,503.05 L346.86,502.85 L347.93,502.65 L349.01,502.45 L350.08,502.25 L351.16,502.06 L352.23,501.86 L353.3,501.66 L354.38,501.47 L355.45,501.28 L356.53,501.08 L357.6,500.89 L358.67,500.7 L359.75,500.51 L360.82,500.32 L361.9,500.13 L362.97,499.94 L364.04,499.75 L365.12,499.56 L366.19,499.37 L367.27,499.19 L368.34,499 L369.41,498.82 L370.49,498.63 L371.56,498.45 L372.64,498.26 L373.71,498.08 L374.78,497.9 L375.86,497.72 L376.93,497.54 L378,497.36 L379.08,497.18 L380.15,497 L381.23,496.82 L382.3,496.64 L383.37,496.46 L384.45,496.29 L385.52,496.11 L386.6,495.93 L387.67,495.76 L388.74,495.58 L389.82,495.41 L390.89,495.24 L391.97,495.06 L393.04,494.89 L394.11,494.72 L395.19,494.55 L396.26,494.38 L397.34,494.21 L398.41,494.04 L399.48,493.87 L400.56,493.7 L401.63,493.53" fill="none" stroke="#9400d3" stroke-width="2.7" stroke-linejoin="round" clip-path="url(#cc)" />
<circle cx="109.47" cy="581.58" r="5.5" fill="none" stroke="#56b4e9" stroke-width="2.6"/>
<circle cx="109.47" cy="581.58" r="0.7" fill="#56b4e9"/>
<circle cx="162.11" cy="508.39" r="5.5" fill="none" stroke="#56b4e9" stroke-width="2.6"/>
<circle cx="162.11" cy="508.39" r="0.7" fill="#56b4e9"/>
<circle cx="214.75" cy="466.62" r="5.5" fill="none" stroke="#56b4e9" stroke-width="2.6"/>
<circle cx="214.75" cy="466.62" r="0.7" fill="#56b4e9"/>
<circle cx="267.4" cy="435.99" r="5.5" fill="none" stroke="#56b4e9" stroke-width="2.6"/>
<circle cx="267.4" cy="435.99" r="0.7" fill="#56b4e9"/>
<circle cx="320.04" cy="411.45" r="5.5" fill="none" stroke="#56b4e9" stroke-width="2.6"/>
<circle cx="320.04" cy="411.45" r="0.7" fill="#56b4e9"/>
<circle cx="372.68" cy="391.27" r="5.5" fill="none" stroke="#56b4e9" stroke-width="2.6"/>
<circle cx="372.68" cy="391.27" r="0.7" fill="#56b4e9"/>
<path d="M109.47,595.08 L103.97,603.99 L114.97,603.99 Z" fill="none" stroke="#9400d3" stroke-width="2.6" stroke-linejoin="miter"/>
<circle cx="109.47" cy="601.24" r="0.7" fill="#9400d3"/>
<path d="M162.11,558.5 L156.61,567.41 L167.61,567.41 Z" fill="none" stroke="#9400d3" stroke-width="2.6" stroke-linejoin="miter"/>
<circle cx="162.11" cy="564.66" r="0.7" fill="#9400d3"/>
<path d="M214.75,533.1 L209.25,542.01 L220.25,542.01 Z" fill="none" stroke="#9400d3" stroke-width="2.6" stroke-linejoin="miter"/>
<circle cx="214.75" cy="539.26" r="0.7" fill="#9400d3"/>
<path d="M267.4,508.23 L261.9,517.14 L272.9,517.14 Z" fill="none" stroke="#9400d3" stroke-width="2.6" stroke-linejoin="miter"/>
<circle cx="267.4" cy="514.39" r="0.7" fill="#9400d3"/>
<path d="M320.04,496.44 L314.54,505.35 L325.54,505.35 Z" fill="none" stroke="#9400d3" stroke-width="2.6" stroke-linejoin="miter"/>
<circle cx="320.04" cy="502.6" r="0.7" fill="#9400d3"/>
<path d="M372.68,495.96 L367.18,504.87 L378.18,504.87 Z" fill="none" stroke="#9400d3" stroke-width="2.6" stroke-linejoin="miter"/>
<circle cx="372.68" cy="502.12" r="0.7" fill="#9400d3"/>
<rect x="83.15" y="357.2" width="315.85" height="270.3" fill="none" stroke="#111" stroke-width="1.35"/>
<line x1="109.47" y1="627.5" x2="109.47" y2="616.9" stroke="#111" stroke-width="1.15" />
<line x1="109.47" y1="357.2" x2="109.47" y2="367.8" stroke="#111" stroke-width="1.15" />
<line x1="162.11" y1="627.5" x2="162.11" y2="616.9" stroke="#111" stroke-width="1.15" />
<line x1="162.11" y1="357.2" x2="162.11" y2="367.8" stroke="#111" stroke-width="1.15" />
<line x1="214.75" y1="627.5" x2="214.75" y2="616.9" stroke="#111" stroke-width="1.15" />
<line x1="214.75" y1="357.2" x2="214.75" y2="367.8" stroke="#111" stroke-width="1.15" />
<line x1="267.4" y1="627.5" x2="267.4" y2="616.9" stroke="#111" stroke-width="1.15" />
<line x1="267.4" y1="357.2" x2="267.4" y2="367.8" stroke="#111" stroke-width="1.15" />
<line x1="320.04" y1="627.5" x2="320.04" y2="616.9" stroke="#111" stroke-width="1.15" />
<line x1="320.04" y1="357.2" x2="320.04" y2="367.8" stroke="#111" stroke-width="1.15" />
<line x1="372.68" y1="627.5" x2="372.68" y2="616.9" stroke="#111" stroke-width="1.15" />
<line x1="372.68" y1="357.2" x2="372.68" y2="367.8" stroke="#111" stroke-width="1.15" />
<line x1="135.79" y1="627.5" x2="135.79" y2="622.2" stroke="#111" stroke-width="1.15" />
<line x1="135.79" y1="357.2" x2="135.79" y2="362.5" stroke="#111" stroke-width="1.15" />
<line x1="188.43" y1="627.5" x2="188.43" y2="622.2" stroke="#111" stroke-width="1.15" />
<line x1="188.43" y1="357.2" x2="188.43" y2="362.5" stroke="#111" stroke-width="1.15" />
<line x1="241.08" y1="627.5" x2="241.08" y2="622.2" stroke="#111" stroke-width="1.15" />
<line x1="241.08" y1="357.2" x2="241.08" y2="362.5" stroke="#111" stroke-width="1.15" />
<line x1="293.72" y1="627.5" x2="293.72" y2="622.2" stroke="#111" stroke-width="1.15" />
<line x1="293.72" y1="357.2" x2="293.72" y2="362.5" stroke="#111" stroke-width="1.15" />
<line x1="346.36" y1="627.5" x2="346.36" y2="622.2" stroke="#111" stroke-width="1.15" />
<line x1="346.36" y1="357.2" x2="346.36" y2="362.5" stroke="#111" stroke-width="1.15" />
<line x1="83.15" y1="548.71" x2="93.75" y2="548.71" stroke="#111" stroke-width="1.15" />
<line x1="399" y1="548.71" x2="388.4" y2="548.71" stroke="#111" stroke-width="1.15" />
<line x1="83.15" y1="435.99" x2="93.75" y2="435.99" stroke="#111" stroke-width="1.15" />
<line x1="399" y1="435.99" x2="388.4" y2="435.99" stroke="#111" stroke-width="1.15" />
<line x1="83.15" y1="607.65" x2="88.45" y2="607.65" stroke="#111" stroke-width="1.15" />
<line x1="399" y1="607.65" x2="393.7" y2="607.65" stroke="#111" stroke-width="1.15" />
<line x1="83.15" y1="593.57" x2="88.45" y2="593.57" stroke="#111" stroke-width="1.15" />
<line x1="399" y1="593.57" x2="393.7" y2="593.57" stroke="#111" stroke-width="1.15" />
<line x1="83.15" y1="582.64" x2="88.45" y2="582.64" stroke="#111" stroke-width="1.15" />
<line x1="399" y1="582.64" x2="393.7" y2="582.64" stroke="#111" stroke-width="1.15" />
<line x1="83.15" y1="573.72" x2="88.45" y2="573.72" stroke="#111" stroke-width="1.15" />
<line x1="399" y1="573.72" x2="393.7" y2="573.72" stroke="#111" stroke-width="1.15" />
<line x1="83.15" y1="566.17" x2="88.45" y2="566.17" stroke="#111" stroke-width="1.15" />
<line x1="399" y1="566.17" x2="393.7" y2="566.17" stroke="#111" stroke-width="1.15" />
<line x1="83.15" y1="559.63" x2="88.45" y2="559.63" stroke="#111" stroke-width="1.15" />
<line x1="399" y1="559.63" x2="393.7" y2="559.63" stroke="#111" stroke-width="1.15" />
<line x1="83.15" y1="553.87" x2="88.45" y2="553.87" stroke="#111" stroke-width="1.15" />
<line x1="399" y1="553.87" x2="393.7" y2="553.87" stroke="#111" stroke-width="1.15" />
<line x1="83.15" y1="514.78" x2="88.45" y2="514.78" stroke="#111" stroke-width="1.15" />
<line x1="399" y1="514.78" x2="393.7" y2="514.78" stroke="#111" stroke-width="1.15" />
<line x1="83.15" y1="494.93" x2="88.45" y2="494.93" stroke="#111" stroke-width="1.15" />
<line x1="399" y1="494.93" x2="393.7" y2="494.93" stroke="#111" stroke-width="1.15" />
<line x1="83.15" y1="480.85" x2="88.45" y2="480.85" stroke="#111" stroke-width="1.15" />
<line x1="399" y1="480.85" x2="393.7" y2="480.85" stroke="#111" stroke-width="1.15" />
<line x1="83.15" y1="469.92" x2="88.45" y2="469.92" stroke="#111" stroke-width="1.15" />
<line x1="399" y1="469.92" x2="393.7" y2="469.92" stroke="#111" stroke-width="1.15" />
<line x1="83.15" y1="461" x2="88.45" y2="461" stroke="#111" stroke-width="1.15" />
<line x1="399" y1="461" x2="393.7" y2="461" stroke="#111" stroke-width="1.15" />
<line x1="83.15" y1="453.45" x2="88.45" y2="453.45" stroke="#111" stroke-width="1.15" />
<line x1="399" y1="453.45" x2="393.7" y2="453.45" stroke="#111" stroke-width="1.15" />
<line x1="83.15" y1="446.91" x2="88.45" y2="446.91" stroke="#111" stroke-width="1.15" />
<line x1="399" y1="446.91" x2="393.7" y2="446.91" stroke="#111" stroke-width="1.15" />
<line x1="83.15" y1="441.15" x2="88.45" y2="441.15" stroke="#111" stroke-width="1.15" />
<line x1="399" y1="441.15" x2="393.7" y2="441.15" stroke="#111" stroke-width="1.15" />
<line x1="83.15" y1="402.06" x2="88.45" y2="402.06" stroke="#111" stroke-width="1.15" />
<line x1="399" y1="402.06" x2="393.7" y2="402.06" stroke="#111" stroke-width="1.15" />
<line x1="83.15" y1="382.21" x2="88.45" y2="382.21" stroke="#111" stroke-width="1.15" />
<line x1="399" y1="382.21" x2="393.7" y2="382.21" stroke="#111" stroke-width="1.15" />
<line x1="83.15" y1="368.12" x2="88.45" y2="368.12" stroke="#111" stroke-width="1.15" />
<line x1="399" y1="368.12" x2="393.7" y2="368.12" stroke="#111" stroke-width="1.15" />
<line x1="107.9" y1="377.3" x2="167.6" y2="377.3" stroke="#56b4e9" stroke-width="2.7" />
<line x1="107.9" y1="401.6" x2="167.6" y2="401.6" stroke="#9400d3" stroke-width="2.7" />
<line x1="223.3" y1="376.75" x2="231.2" y2="384.65" stroke="#111" stroke-width="0.8" />
<line x1="223.3" y1="384.65" x2="231.2" y2="376.75" stroke="#111" stroke-width="0.8" />
<line x1="223.3" y1="400.95" x2="231.2" y2="408.85" stroke="#111" stroke-width="0.8" />
<line x1="223.3" y1="408.85" x2="231.2" y2="400.95" stroke="#111" stroke-width="0.8" />
<path d="M496.37,652.73 L497.44,648.22 L498.52,643.89 L499.59,639.75 L500.66,635.76 L501.74,631.93 L502.81,628.23 L503.88,624.67 L504.96,621.22 L506.03,617.89 L507.11,614.66 L508.18,611.53 L509.25,608.5 L510.33,605.55 L511.4,602.69 L512.48,599.9 L513.55,597.19 L514.62,594.55 L515.7,591.98 L516.77,589.47 L517.84,587.02 L518.92,584.62 L519.99,582.29 L521.07,580 L522.14,577.76 L523.21,575.58 L524.29,573.44 L525.36,571.34 L526.43,569.28 L527.51,567.27 L528.58,565.3 L529.66,563.36 L530.73,561.46 L531.8,559.59 L532.88,557.76 L533.95,555.96 L535.02,554.19 L536.1,552.45 L537.17,550.74 L538.25,549.06 L539.32,547.4 L540.39,545.78 L541.47,544.17 L542.54,542.6 L543.62,541.04 L544.69,539.51 L545.76,538.01 L546.84,536.52 L547.91,535.06 L548.98,533.61 L550.06,532.19 L551.13,530.79 L552.21,529.4 L553.28,528.04 L554.35,526.69 L555.43,525.36 L556.5,524.05 L557.57,522.75 L558.65,521.47 L559.72,520.21 L560.8,518.96 L561.87,517.72 L562.94,516.51 L564.02,515.3 L565.09,514.11 L566.16,512.93 L567.24,511.77 L568.31,510.62 L569.39,509.48 L570.46,508.36 L571.53,507.25 L572.61,506.15 L573.68,505.06 L574.76,503.98 L575.83,502.92 L576.9,501.86 L577.98,500.82 L579.05,499.79 L580.12,498.76 L581.2,497.75 L582.27,496.75 L583.35,495.75 L584.42,494.77 L585.49,493.8 L586.57,492.83 L587.64,491.88 L588.71,490.93 L589.79,489.99 L590.86,489.06 L591.94,488.14 L593.01,487.23 L594.08,486.32 L595.16,485.43 L596.23,484.54 L597.3,483.66 L598.38,482.78 L599.45,481.92 L600.53,481.06 L601.6,480.21 L602.67,479.36 L603.75,478.53 L604.82,477.69 L605.89,476.87 L606.97,476.05 L608.04,475.24 L609.12,474.44 L610.19,473.64 L611.26,472.85 L612.34,472.06 L613.41,471.28 L614.49,470.51 L615.56,469.74 L616.63,468.98 L617.71,468.22 L618.78,467.47 L619.85,466.72 L620.93,465.98 L622,465.25 L623.08,464.52 L624.15,463.79 L625.22,463.07 L626.3,462.36 L627.37,461.65 L628.44,460.95 L629.52,460.25 L630.59,459.55 L631.67,458.86 L632.74,458.18 L633.81,457.5 L634.89,456.82 L635.96,456.15 L637.03,455.48 L638.11,454.82 L639.18,454.16 L640.26,453.5 L641.33,452.85 L642.4,452.21 L643.48,451.56 L644.55,450.93 L645.63,450.29 L646.7,449.66 L647.77,449.04 L648.85,448.41 L649.92,447.79 L650.99,447.18 L652.07,446.57 L653.14,445.96 L654.22,445.36 L655.29,444.76 L656.36,444.16 L657.44,443.56 L658.51,442.97 L659.58,442.39 L660.66,441.8 L661.73,441.22 L662.81,440.65 L663.88,440.07 L664.95,439.5 L666.03,438.94 L667.1,438.37 L668.17,437.81 L669.25,437.25 L670.32,436.7 L671.4,436.15 L672.47,435.6 L673.54,435.05 L674.62,434.51 L675.69,433.97 L676.77,433.43 L677.84,432.9 L678.91,432.37 L679.99,431.84 L681.06,431.31 L682.13,430.79 L683.21,430.27 L684.28,429.75 L685.36,429.24 L686.43,428.72 L687.5,428.21 L688.58,427.7 L689.65,427.2 L690.72,426.7 L691.8,426.2 L692.87,425.7 L693.95,425.2 L695.02,424.71 L696.09,424.22 L697.17,423.73 L698.24,423.25 L699.31,422.76 L700.39,422.28 L701.46,421.8 L702.54,421.32 L703.61,420.85 L704.68,420.38 L705.76,419.91 L706.83,419.44 L707.91,418.97 L708.98,418.51 L710.05,418.05 L711.13,417.59 L712.2,417.13 L713.27,416.68 L714.35,416.22 L715.42,415.77 L716.5,415.32 L717.57,414.87 L718.64,414.43 L719.72,413.98 L720.79,413.54 L721.86,413.1 L722.94,412.67 L724.01,412.23 L725.09,411.8 L726.16,411.36 L727.23,410.93 L728.31,410.5 L729.38,410.08 L730.45,409.65 L731.53,409.23 L732.6,408.81 L733.68,408.39 L734.75,407.97 L735.82,407.55 L736.9,407.14 L737.97,406.73 L739.04,406.31 L740.12,405.9 L741.19,405.5 L742.27,405.09 L743.34,404.69 L744.41,404.28 L745.49,403.88 L746.56,403.48 L747.64,403.08 L748.71,402.69 L749.78,402.29 L750.86,401.9 L751.93,401.5 L753,401.11 L754.08,400.72 L755.15,400.34 L756.23,399.95 L757.3,399.56 L758.37,399.18 L759.45,398.8 L760.52,398.42 L761.59,398.04 L762.67,397.66 L763.74,397.29 L764.82,396.91 L765.89,396.54 L766.96,396.16 L768.04,395.79 L769.11,395.42 L770.18,395.06 L771.26,394.69 L772.33,394.32 L773.41,393.96 L774.48,393.6 L775.55,393.23 L776.63,392.87 L777.7,392.52 L778.78,392.16 L779.85,391.8 L780.92,391.45 L782,391.09 L783.07,390.74 L784.14,390.39 L785.22,390.04 L786.29,389.69 L787.37,389.34 L788.44,388.99 L789.51,388.65 L790.59,388.3 L791.66,387.96 L792.73,387.62 L793.81,387.28 L794.88,386.94 L795.96,386.6 L797.03,386.26 L798.1,385.92 L799.18,385.59 L800.25,385.25 L801.32,384.92 L802.4,384.59 L803.47,384.26 L804.55,383.93 L805.62,383.6 L806.69,383.27 L807.77,382.94 L808.84,382.62 L809.92,382.29 L810.99,381.97 L812.06,381.65 L813.14,381.32 L814.21,381 L815.28,380.68 L816.36,380.36 L817.43,380.05" fill="none" stroke="#56b4e9" stroke-width="2.7" stroke-linejoin="round" clip-path="url(#cd)" />
<path d="M496.37,583.62 L497.44,580.97 L498.52,578.43 L499.59,576 L500.66,573.66 L501.74,571.41 L502.81,569.25 L503.88,567.15 L504.96,565.13 L506.03,563.18 L507.11,561.29 L508.18,559.45 L509.25,557.67 L510.33,555.94 L511.4,554.26 L512.48,552.63 L513.55,551.04 L514.62,549.49 L515.7,547.98 L516.77,546.51 L517.84,545.07 L518.92,543.67 L519.99,542.3 L521.07,540.95 L522.14,539.64 L523.21,538.36 L524.29,537.11 L525.36,535.88 L526.43,534.67 L527.51,533.49 L528.58,532.33 L529.66,531.19 L530.73,530.08 L531.8,528.98 L532.88,527.91 L533.95,526.85 L535.02,525.82 L536.1,524.8 L537.17,523.79 L538.25,522.81 L539.32,521.84 L540.39,520.88 L541.47,519.94 L542.54,519.02 L543.62,518.11 L544.69,517.21 L545.76,516.32 L546.84,515.45 L547.91,514.59 L548.98,513.75 L550.06,512.91 L551.13,512.09 L552.21,511.28 L553.28,510.48 L554.35,509.69 L555.43,508.91 L556.5,508.14 L557.57,507.38 L558.65,506.62 L559.72,505.88 L560.8,505.15 L561.87,504.43 L562.94,503.71 L564.02,503.01 L565.09,502.31 L566.16,501.62 L567.24,500.94 L568.31,500.26 L569.39,499.6 L570.46,498.94 L571.53,498.28 L572.61,497.64 L573.68,497 L574.76,496.37 L575.83,495.74 L576.9,495.12 L577.98,494.51 L579.05,493.91 L580.12,493.31 L581.2,492.71 L582.27,492.12 L583.35,491.54 L584.42,490.97 L585.49,490.39 L586.57,489.83 L587.64,489.27 L588.71,488.71 L589.79,488.16 L590.86,487.62 L591.94,487.08 L593.01,486.54 L594.08,486.01 L595.16,485.48 L596.23,484.96 L597.3,484.45 L598.38,483.93 L599.45,483.43 L600.53,482.92 L601.6,482.42 L602.67,481.93 L603.75,481.44 L604.82,480.95 L605.89,480.47 L606.97,479.99 L608.04,479.51 L609.12,479.04 L610.19,478.57 L611.26,478.11 L612.34,477.64 L613.41,477.19 L614.49,476.73 L615.56,476.28 L616.63,475.84 L617.71,475.39 L618.78,474.95 L619.85,474.51 L620.93,474.08 L622,473.65 L623.08,473.22 L624.15,472.8 L625.22,472.37 L626.3,471.95 L627.37,471.54 L628.44,471.13 L629.52,470.72 L630.59,470.31 L631.67,469.9 L632.74,469.5 L633.81,469.1 L634.89,468.7 L635.96,468.31 L637.03,467.92 L638.11,467.53 L639.18,467.14 L640.26,466.76 L641.33,466.38 L642.4,466 L643.48,465.62 L644.55,465.25 L645.63,464.88 L646.7,464.51 L647.77,464.14 L648.85,463.77 L649.92,463.41 L650.99,463.05 L652.07,462.69 L653.14,462.34 L654.22,461.98 L655.29,461.63 L656.36,461.28 L657.44,460.93 L658.51,460.58 L659.58,460.24 L660.66,459.9 L661.73,459.56 L662.81,459.22 L663.88,458.88 L664.95,458.55 L666.03,458.22 L667.1,457.89 L668.17,457.56 L669.25,457.23 L670.32,456.9 L671.4,456.58 L672.47,456.26 L673.54,455.94 L674.62,455.62 L675.69,455.3 L676.77,454.99 L677.84,454.67 L678.91,454.36 L679.99,454.05 L681.06,453.74 L682.13,453.44 L683.21,453.13 L684.28,452.83 L685.36,452.53 L686.43,452.22 L687.5,451.93 L688.58,451.63 L689.65,451.33 L690.72,451.04 L691.8,450.74 L692.87,450.45 L693.95,450.16 L695.02,449.87 L696.09,449.58 L697.17,449.3 L698.24,449.01 L699.31,448.73 L700.39,448.45 L701.46,448.17 L702.54,447.89 L703.61,447.61 L704.68,447.33 L705.76,447.05 L706.83,446.78 L707.91,446.51 L708.98,446.23 L710.05,445.96 L711.13,445.69 L712.2,445.43 L713.27,445.16 L714.35,444.89 L715.42,444.63 L716.5,444.36 L717.57,444.1 L718.64,443.84 L719.72,443.58 L720.79,443.32 L721.86,443.06 L722.94,442.81 L724.01,442.55 L725.09,442.3 L726.16,442.04 L727.23,441.79 L728.31,441.54 L729.38,441.29 L730.45,441.04 L731.53,440.79 L732.6,440.54 L733.68,440.3 L734.75,440.05 L735.82,439.81 L736.9,439.57 L737.97,439.32 L739.04,439.08 L740.12,438.84 L741.19,438.6 L742.27,438.36 L743.34,438.13 L744.41,437.89 L745.49,437.65 L746.56,437.42 L747.64,437.19 L748.71,436.95 L749.78,436.72 L750.86,436.49 L751.93,436.26 L753,436.03 L754.08,435.8 L755.15,435.57 L756.23,435.35 L757.3,435.12 L758.37,434.9 L759.45,434.67 L760.52,434.45 L761.59,434.23 L762.67,434.01 L763.74,433.79 L764.82,433.57 L765.89,433.35 L766.96,433.13 L768.04,432.91 L769.11,432.69 L770.18,432.48 L771.26,432.26 L772.33,432.05 L773.41,431.83 L774.48,431.62 L775.55,431.41 L776.63,431.2 L777.7,430.99 L778.78,430.78 L779.85,430.57 L780.92,430.36 L782,430.15 L783.07,429.95 L784.14,429.74 L785.22,429.53 L786.29,429.33 L787.37,429.12 L788.44,428.92 L789.51,428.72 L790.59,428.52 L791.66,428.32 L792.73,428.11 L793.81,427.91 L794.88,427.72 L795.96,427.52 L797.03,427.32 L798.1,427.12 L799.18,426.92 L800.25,426.73 L801.32,426.53 L802.4,426.34 L803.47,426.14 L804.55,425.95 L805.62,425.76 L806.69,425.56 L807.77,425.37 L808.84,425.18 L809.92,424.99 L810.99,424.8 L812.06,424.61 L813.14,424.42 L814.21,424.24 L815.28,424.05 L816.36,423.86 L817.43,423.68" fill="none" stroke="#9400d3" stroke-width="2.7" stroke-linejoin="round" clip-path="url(#cd)" />
<circle cx="525.32" cy="569.87" r="5.5" fill="none" stroke="#56b4e9" stroke-width="2.6"/>
<circle cx="525.32" cy="569.87" r="0.7" fill="#56b4e9"/>
<circle cx="577.95" cy="499.49" r="5.5" fill="none" stroke="#56b4e9" stroke-width="2.6"/>
<circle cx="577.95" cy="499.49" r="0.7" fill="#56b4e9"/>
<circle cx="630.58" cy="459.21" r="5.5" fill="none" stroke="#56b4e9" stroke-width="2.6"/>
<circle cx="630.58" cy="459.21" r="0.7" fill="#56b4e9"/>
<circle cx="683.22" cy="429.94" r="5.5" fill="none" stroke="#56b4e9" stroke-width="2.6"/>
<circle cx="683.22" cy="429.94" r="0.7" fill="#56b4e9"/>
<circle cx="735.85" cy="407.84" r="5.5" fill="none" stroke="#56b4e9" stroke-width="2.6"/>
<circle cx="735.85" cy="407.84" r="0.7" fill="#56b4e9"/>
<circle cx="788.48" cy="388.67" r="5.5" fill="none" stroke="#56b4e9" stroke-width="2.6"/>
<circle cx="788.48" cy="388.67" r="0.7" fill="#56b4e9"/>
<path d="M525.32,543.04 L519.82,551.95 L530.82,551.95 Z" fill="none" stroke="#9400d3" stroke-width="2.6" stroke-linejoin="miter"/>
<circle cx="525.32" cy="549.2" r="0.7" fill="#9400d3"/>
<path d="M577.95,488.04 L572.45,496.95 L583.45,496.95 Z" fill="none" stroke="#9400d3" stroke-width="2.6" stroke-linejoin="miter"/>
<circle cx="577.95" cy="494.2" r="0.7" fill="#9400d3"/>
<path d="M630.58,462.51 L625.08,471.42 L636.08,471.42 Z" fill="none" stroke="#9400d3" stroke-width="2.6" stroke-linejoin="miter"/>
<circle cx="630.58" cy="468.67" r="0.7" fill="#9400d3"/>
<path d="M683.22,445.26 L677.72,454.17 L688.72,454.17 Z" fill="none" stroke="#9400d3" stroke-width="2.6" stroke-linejoin="miter"/>
<circle cx="683.22" cy="451.42" r="0.7" fill="#9400d3"/>
<path d="M735.85,432.57 L730.35,441.48 L741.35,441.48 Z" fill="none" stroke="#9400d3" stroke-width="2.6" stroke-linejoin="miter"/>
<circle cx="735.85" cy="438.73" r="0.7" fill="#9400d3"/>
<path d="M788.48,421.98 L782.98,430.89 L793.98,430.89 Z" fill="none" stroke="#9400d3" stroke-width="2.6" stroke-linejoin="miter"/>
<circle cx="788.48" cy="428.14" r="0.7" fill="#9400d3"/>
<rect x="499" y="357.2" width="315.8" height="270.3" fill="none" stroke="#111" stroke-width="1.35"/>
<line x1="525.32" y1="627.5" x2="525.32" y2="616.9" stroke="#111" stroke-width="1.15" />
<line x1="525.32" y1="357.2" x2="525.32" y2="367.8" stroke="#111" stroke-width="1.15" />
<line x1="577.95" y1="627.5" x2="577.95" y2="616.9" stroke="#111" stroke-width="1.15" />
<line x1="577.95" y1="357.2" x2="577.95" y2="367.8" stroke="#111" stroke-width="1.15" />
<line x1="630.58" y1="627.5" x2="630.58" y2="616.9" stroke="#111" stroke-width="1.15" />
<line x1="630.58" y1="357.2" x2="630.58" y2="367.8" stroke="#111" stroke-width="1.15" />
<line x1="683.22" y1="627.5" x2="683.22" y2="616.9" stroke="#111" stroke-width="1.15" />
<line x1="683.22" y1="357.2" x2="683.22" y2="367.8" stroke="#111" stroke-width="1.15" />
<line x1="735.85" y1="627.5" x2="735.85" y2="616.9" stroke="#111" stroke-width="1.15" />
<line x1="735.85" y1="357.2" x2="735.85" y2="367.8" stroke="#111" stroke-width="1.15" />
<line x1="788.48" y1="627.5" x2="788.48" y2="616.9" stroke="#111" stroke-width="1.15" />
<line x1="788.48" y1="357.2" x2="788.48" y2="367.8" stroke="#111" stroke-width="1.15" />
<line x1="551.63" y1="627.5" x2="551.63" y2="622.2" stroke="#111" stroke-width="1.15" />
<line x1="551.63" y1="357.2" x2="551.63" y2="362.5" stroke="#111" stroke-width="1.15" />
<line x1="604.27" y1="627.5" x2="604.27" y2="622.2" stroke="#111" stroke-width="1.15" />
<line x1="604.27" y1="357.2" x2="604.27" y2="362.5" stroke="#111" stroke-width="1.15" />
<line x1="656.9" y1="627.5" x2="656.9" y2="622.2" stroke="#111" stroke-width="1.15" />
<line x1="656.9" y1="357.2" x2="656.9" y2="362.5" stroke="#111" stroke-width="1.15" />
<line x1="709.53" y1="627.5" x2="709.53" y2="622.2" stroke="#111" stroke-width="1.15" />
<line x1="709.53" y1="357.2" x2="709.53" y2="362.5" stroke="#111" stroke-width="1.15" />
<line x1="762.17" y1="627.5" x2="762.17" y2="622.2" stroke="#111" stroke-width="1.15" />
<line x1="762.17" y1="357.2" x2="762.17" y2="362.5" stroke="#111" stroke-width="1.15" />
<line x1="499" y1="548.71" x2="509.6" y2="548.71" stroke="#111" stroke-width="1.15" />
<line x1="814.8" y1="548.71" x2="804.2" y2="548.71" stroke="#111" stroke-width="1.15" />
<line x1="499" y1="435.99" x2="509.6" y2="435.99" stroke="#111" stroke-width="1.15" />
<line x1="814.8" y1="435.99" x2="804.2" y2="435.99" stroke="#111" stroke-width="1.15" />
<line x1="499" y1="607.65" x2="504.3" y2="607.65" stroke="#111" stroke-width="1.15" />
<line x1="814.8" y1="607.65" x2="809.5" y2="607.65" stroke="#111" stroke-width="1.15" />
<line x1="499" y1="593.57" x2="504.3" y2="593.57" stroke="#111" stroke-width="1.15" />
<line x1="814.8" y1="593.57" x2="809.5" y2="593.57" stroke="#111" stroke-width="1.15" />
<line x1="499" y1="582.64" x2="504.3" y2="582.64" stroke="#111" stroke-width="1.15" />
<line x1="814.8" y1="582.64" x2="809.5" y2="582.64" stroke="#111" stroke-width="1.15" />
<line x1="499" y1="573.72" x2="504.3" y2="573.72" stroke="#111" stroke-width="1.15" />
<line x1="814.8" y1="573.72" x2="809.5" y2="573.72" stroke="#111" stroke-width="1.15" />
<line x1="499" y1="566.17" x2="504.3" y2="566.17" stroke="#111" stroke-width="1.15" />
<line x1="814.8" y1="566.17" x2="809.5" y2="566.17" stroke="#111" stroke-width="1.15" />
<line x1="499" y1="559.63" x2="504.3" y2="559.63" stroke="#111" stroke-width="1.15" />
<line x1="814.8" y1="559.63" x2="809.5" y2="559.63" stroke="#111" stroke-width="1.15" />
<line x1="499" y1="553.87" x2="504.3" y2="553.87" stroke="#111" stroke-width="1.15" />
<line x1="814.8" y1="553.87" x2="809.5" y2="553.87" stroke="#111" stroke-width="1.15" />
<line x1="499" y1="514.78" x2="504.3" y2="514.78" stroke="#111" stroke-width="1.15" />
<line x1="814.8" y1="514.78" x2="809.5" y2="514.78" stroke="#111" stroke-width="1.15" />
<line x1="499" y1="494.93" x2="504.3" y2="494.93" stroke="#111" stroke-width="1.15" />
<line x1="814.8" y1="494.93" x2="809.5" y2="494.93" stroke="#111" stroke-width="1.15" />
<line x1="499" y1="480.85" x2="504.3" y2="480.85" stroke="#111" stroke-width="1.15" />
<line x1="814.8" y1="480.85" x2="809.5" y2="480.85" stroke="#111" stroke-width="1.15" />
<line x1="499" y1="469.92" x2="504.3" y2="469.92" stroke="#111" stroke-width="1.15" />
<line x1="814.8" y1="469.92" x2="809.5" y2="469.92" stroke="#111" stroke-width="1.15" />
<line x1="499" y1="461" x2="504.3" y2="461" stroke="#111" stroke-width="1.15" />
<line x1="814.8" y1="461" x2="809.5" y2="461" stroke="#111" stroke-width="1.15" />
<line x1="499" y1="453.45" x2="504.3" y2="453.45" stroke="#111" stroke-width="1.15" />
<line x1="814.8" y1="453.45" x2="809.5" y2="453.45" stroke="#111" stroke-width="1.15" />
<line x1="499" y1="446.91" x2="504.3" y2="446.91" stroke="#111" stroke-width="1.15" />
<line x1="814.8" y1="446.91" x2="809.5" y2="446.91" stroke="#111" stroke-width="1.15" />
<line x1="499" y1="441.15" x2="504.3" y2="441.15" stroke="#111" stroke-width="1.15" />
<line x1="814.8" y1="441.15" x2="809.5" y2="441.15" stroke="#111" stroke-width="1.15" />
<line x1="499" y1="402.06" x2="504.3" y2="402.06" stroke="#111" stroke-width="1.15" />
<line x1="814.8" y1="402.06" x2="809.5" y2="402.06" stroke="#111" stroke-width="1.15" />
<line x1="499" y1="382.21" x2="504.3" y2="382.21" stroke="#111" stroke-width="1.15" />
<line x1="814.8" y1="382.21" x2="809.5" y2="382.21" stroke="#111" stroke-width="1.15" />
<line x1="499" y1="368.12" x2="504.3" y2="368.12" stroke="#111" stroke-width="1.15" />
<line x1="814.8" y1="368.12" x2="809.5" y2="368.12" stroke="#111" stroke-width="1.15" />
<line x1="523.75" y1="377.3" x2="583.45" y2="377.3" stroke="#56b4e9" stroke-width="2.7" />
<line x1="523.75" y1="401.6" x2="583.45" y2="401.6" stroke="#9400d3" stroke-width="2.7" />
<line x1="639.15" y1="376.75" x2="647.05" y2="384.65" stroke="#111" stroke-width="0.8" />
<line x1="639.15" y1="384.65" x2="647.05" y2="376.75" stroke="#111" stroke-width="0.8" />
<line x1="639.15" y1="400.95" x2="647.05" y2="408.85" stroke="#111" stroke-width="0.8" />
<line x1="639.15" y1="408.85" x2="647.05" y2="400.95" stroke="#111" stroke-width="0.8" />
<g filter="url(#gs)">
<text x="60.8" y="40.6" font-size="24.9" stroke="#fff" stroke-width="0.22" textLength="13.69" lengthAdjust="spacingAndGlyphs" >1</text>
<text x="40.5" y="94.69" font-size="24.9" stroke="#fff" stroke-width="0.22" textLength="33.58" lengthAdjust="spacingAndGlyphs" >0.8</text>
<text x="40.5" y="148.78" font-size="24.9" stroke="#fff" stroke-width="0.22" textLength="33.58" lengthAdjust="spacingAndGlyphs" >0.6</text>
<text x="40.5" y="202.87" font-size="24.9" stroke="#fff" stroke-width="0.22" textLength="32.52" lengthAdjust="spacingAndGlyphs" >0.4</text>
<text x="40.5" y="256.96" font-size="24.9" stroke="#fff" stroke-width="0.22" textLength="33.58" lengthAdjust="spacingAndGlyphs" >0.2</text>
<text x="61.1" y="311.05" font-size="24.9" stroke="#fff" stroke-width="0.22" textLength="12.34" lengthAdjust="spacingAndGlyphs" >0</text>
<text x="76.85" y="325.2" font-size="24.9" stroke="#fff" stroke-width="0.22" textLength="12.34" lengthAdjust="spacingAndGlyphs" >0</text>
<text x="174.93" y="325.2" font-size="24.9" stroke="#fff" stroke-width="0.22" textLength="25.69" lengthAdjust="spacingAndGlyphs" >20</text>
<text x="281.23" y="325.2" font-size="24.9" stroke="#fff" stroke-width="0.22" textLength="24.64" lengthAdjust="spacingAndGlyphs" >40</text>
<text x="385.36" y="325.2" font-size="24.9" stroke="#fff" stroke-width="0.22" textLength="25.9" lengthAdjust="spacingAndGlyphs" >60</text>
<path d="M7.5,32.6 Q-5.1,44.75 7.5,56.9 Q-2,44.75 7.5,32.6 Z" fill="#000" stroke="#000" stroke-width="0.45" stroke-linejoin="round"/>
<text x="9.8" y="51.1" font-size="24.8" stroke="#fff" stroke-width="0.22" textLength="14.31" lengthAdjust="spacingAndGlyphs" >a</text>
<path d="M26.3,32.6 Q38.9,44.75 26.3,56.9 Q35.8,44.75 26.3,32.6 Z" fill="#000" stroke="#000" stroke-width="0.45" stroke-linejoin="round"/>
<text x="160.24" y="23.7" font-size="24.6" stroke="#fff" stroke-width="0.22" textLength="155.48" lengthAdjust="spacingAndGlyphs" >Semi-circular</text>
<g transform="translate(209.9,345.1) scale(1,1)"><text x="0.3" y="0" font-size="26.2" font-style="italic" stroke="#fff" stroke-width="0.23" transform="scale(1.20,1)">D</text><text x="0" y="0" font-size="26.2" font-style="italic" stroke="#fff" stroke-width="0.23" transform="translate(25.4,0) scale(1.0,1)">t</text><line x1="36.0" y1="6.7" x2="46.0" y2="-19.9" stroke="#000" stroke-width="1.25"/><text x="0" y="0" font-size="25"  stroke="#fff" stroke-width="0.23" transform="translate(48.6,0) scale(1.06,1)">2</text></g>
<text transform="translate(23.6,204.99) rotate(-90)" font-size="29" stroke="#fff" stroke-width="0.26" textLength="31.75" lengthAdjust="spacingAndGlyphs" >Im</text>
<text transform="translate(23.6,164.69) rotate(-90)" font-size="29" stroke="#fff" stroke-width="0.26" font-style="italic" textLength="20.63" lengthAdjust="spacingAndGlyphs" >G</text>
<path d="M6.8,-21.7 Q-6.8,-7.95 6.8,5.8 Q-3.7,-7.95 6.8,-21.7 Z" fill="#000" stroke="#000" stroke-width="0.45" stroke-linejoin="round" transform="translate(23.6,140.2) rotate(-90)"/>
<text transform="translate(23.6,132.53) rotate(-90)" font-size="29" stroke="#fff" stroke-width="0.26" font-style="italic" textLength="9.06" lengthAdjust="spacingAndGlyphs" >t</text>
<path d="M0,-21.7 Q13.6,-7.95 0,5.8 Q10.5,-7.95 0,-21.7 Z" fill="#000" stroke="#000" stroke-width="0.45" stroke-linejoin="round" transform="translate(23.6,119.9) rotate(-90)"/>
<text x="189.6" y="59.9" font-size="22.6" stroke="#fff" stroke-width="0.2" textLength="99.24" lengthAdjust="spacingAndGlyphs" >Analytic</text>
<text x="171.4" y="84.2" font-size="22.6" stroke="#fff" stroke-width="0.2" textLength="118.19" lengthAdjust="spacingAndGlyphs" >Partial IF</text>
<text x="204.6" y="108.9" font-size="22.6" stroke="#fff" stroke-width="0.2" textLength="84.99" lengthAdjust="spacingAndGlyphs" >TTI IF</text>
<text x="216.6" y="249.5" font-size="21.2" stroke="#fff" stroke-width="0.19" textLength="10.06" lengthAdjust="spacingAndGlyphs" >0</text>
<text x="216.6" y="213.53" font-size="21.2" stroke="#fff" stroke-width="0.19" textLength="10.06" lengthAdjust="spacingAndGlyphs" >2</text>
<text x="216.6" y="177.57" font-size="21.2" stroke="#fff" stroke-width="0.19" textLength="9.15" lengthAdjust="spacingAndGlyphs" >4</text>
<text x="216.6" y="141.6" font-size="21.2" stroke="#fff" stroke-width="0.19" textLength="10.06" lengthAdjust="spacingAndGlyphs" >6</text>
<text x="227.1" y="261.3" font-size="21.2" stroke="#fff" stroke-width="0.19" textLength="10.59" lengthAdjust="spacingAndGlyphs" >0</text>
<text x="266.25" y="261.3" font-size="21.2" stroke="#fff" stroke-width="0.19" textLength="20.99" lengthAdjust="spacingAndGlyphs" >20</text>
<text x="310.6" y="261.3" font-size="21.2" stroke="#fff" stroke-width="0.19" textLength="20.99" lengthAdjust="spacingAndGlyphs" >40</text>
<text x="354.35" y="261.3" font-size="21.2" stroke="#fff" stroke-width="0.19" textLength="20.58" lengthAdjust="spacingAndGlyphs" >60</text>
<text x="245.41" y="131" font-size="19.2" stroke="#fff" stroke-width="0.17" textLength="17.12" lengthAdjust="spacingAndGlyphs" >10</text>
<text x="276.7" y="124.6" font-size="13.8" stroke="#fff" stroke-width="0.12" textLength="6.9" lengthAdjust="spacingAndGlyphs" >3</text>
<text transform="translate(205.1,233.2) rotate(-90)" font-size="20" stroke="#fff" stroke-width="0.18" textLength="89.13" lengthAdjust="spacingAndGlyphs" >Abs. error</text>
<g transform="translate(283.6,276.7) scale(0.5,0.56)"><text x="0.3" y="0" font-size="26.2" font-style="italic" stroke="#fff" stroke-width="0.23" transform="scale(1.20,1)">D</text><text x="0" y="0" font-size="26.2" font-style="italic" stroke="#fff" stroke-width="0.23" transform="translate(25.4,0) scale(1.0,1)">t</text><line x1="36.0" y1="6.7" x2="46.0" y2="-19.9" stroke="#000" stroke-width="1.76"/><text x="0" y="0" font-size="25"  stroke="#fff" stroke-width="0.23" transform="translate(48.6,0) scale(1.06,1)">2</text></g>
<text x="475.6" y="40.6" font-size="24.9" stroke="#fff" stroke-width="0.22" textLength="13.69" lengthAdjust="spacingAndGlyphs" >1</text>
<text x="455.3" y="94.69" font-size="24.9" stroke="#fff" stroke-width="0.22" textLength="33.58" lengthAdjust="spacingAndGlyphs" >0.8</text>
<text x="455.3" y="148.78" font-size="24.9" stroke="#fff" stroke-width="0.22" textLength="33.58" lengthAdjust="spacingAndGlyphs" >0.6</text>
<text x="455.3" y="202.87" font-size="24.9" stroke="#fff" stroke-width="0.22" textLength="32.52" lengthAdjust="spacingAndGlyphs" >0.4</text>
<text x="455.3" y="256.96" font-size="24.9" stroke="#fff" stroke-width="0.22" textLength="33.58" lengthAdjust="spacingAndGlyphs" >0.2</text>
<text x="475.9" y="311.05" font-size="24.9" stroke="#fff" stroke-width="0.22" textLength="12.34" lengthAdjust="spacingAndGlyphs" >0</text>
<text x="492.65" y="325.2" font-size="24.9" stroke="#fff" stroke-width="0.22" textLength="12.34" lengthAdjust="spacingAndGlyphs" >0</text>
<text x="590.73" y="325.2" font-size="24.9" stroke="#fff" stroke-width="0.22" textLength="25.69" lengthAdjust="spacingAndGlyphs" >20</text>
<text x="697.03" y="325.2" font-size="24.9" stroke="#fff" stroke-width="0.22" textLength="24.64" lengthAdjust="spacingAndGlyphs" >40</text>
<text x="801.16" y="325.2" font-size="24.9" stroke="#fff" stroke-width="0.22" textLength="25.9" lengthAdjust="spacingAndGlyphs" >60</text>
<path d="M419.6,32.6 Q407,44.75 419.6,56.9 Q410.1,44.75 419.6,32.6 Z" fill="#000" stroke="#000" stroke-width="0.45" stroke-linejoin="round"/>
<text x="421.9" y="51.1" font-size="24.8" stroke="#fff" stroke-width="0.22" textLength="15.5" lengthAdjust="spacingAndGlyphs" >b</text>
<path d="M439.1,32.6 Q451.7,44.75 439.1,56.9 Q448.6,44.75 439.1,32.6 Z" fill="#000" stroke="#000" stroke-width="0.45" stroke-linejoin="round"/>
<text x="592.9" y="23.7" font-size="24.6" stroke="#fff" stroke-width="0.22" textLength="124.85" lengthAdjust="spacingAndGlyphs" >Lorentzian</text>
<g transform="translate(625.7,345.1) scale(1,1)"><text x="0.3" y="0" font-size="26.2" font-style="italic" stroke="#fff" stroke-width="0.23" transform="scale(1.20,1)">D</text><text x="0" y="0" font-size="26.2" font-style="italic" stroke="#fff" stroke-width="0.23" transform="translate(25.4,0) scale(1.0,1)">t</text><line x1="36.0" y1="6.7" x2="46.0" y2="-19.9" stroke="#000" stroke-width="1.25"/><text x="0" y="0" font-size="25"  stroke="#fff" stroke-width="0.23" transform="translate(48.6,0) scale(1.06,1)">2</text></g>
<text transform="translate(438.4,204.99) rotate(-90)" font-size="29" stroke="#fff" stroke-width="0.26" textLength="31.75" lengthAdjust="spacingAndGlyphs" >Im</text>
<text transform="translate(438.4,164.69) rotate(-90)" font-size="29" stroke="#fff" stroke-width="0.26" font-style="italic" textLength="20.63" lengthAdjust="spacingAndGlyphs" >G</text>
<path d="M6.8,-21.7 Q-6.8,-7.95 6.8,5.8 Q-3.7,-7.95 6.8,-21.7 Z" fill="#000" stroke="#000" stroke-width="0.45" stroke-linejoin="round" transform="translate(438.4,140.2) rotate(-90)"/>
<text transform="translate(438.4,132.53) rotate(-90)" font-size="29" stroke="#fff" stroke-width="0.26" font-style="italic" textLength="9.06" lengthAdjust="spacingAndGlyphs" >t</text>
<path d="M0,-21.7 Q13.6,-7.95 0,5.8 Q10.5,-7.95 0,-21.7 Z" fill="#000" stroke="#000" stroke-width="0.45" stroke-linejoin="round" transform="translate(438.4,119.9) rotate(-90)"/>
<text x="604.2" y="59.9" font-size="22.6" stroke="#fff" stroke-width="0.2" textLength="99.24" lengthAdjust="spacingAndGlyphs" >Analytic</text>
<text x="586" y="84.2" font-size="22.6" stroke="#fff" stroke-width="0.2" textLength="118.19" lengthAdjust="spacingAndGlyphs" >Partial IF</text>
<text x="619.2" y="108.9" font-size="22.6" stroke="#fff" stroke-width="0.2" textLength="84.99" lengthAdjust="spacingAndGlyphs" >TTI IF</text>
<text x="615.85" y="249.5" font-size="21.2" stroke="#fff" stroke-width="0.19" textLength="10.06" lengthAdjust="spacingAndGlyphs" >0</text>
<text x="617.35" y="206.17" font-size="21.2" stroke="#fff" stroke-width="0.19" textLength="7.42" lengthAdjust="spacingAndGlyphs" >1</text>
<text x="615.85" y="162.83" font-size="21.2" stroke="#fff" stroke-width="0.19" textLength="10.06" lengthAdjust="spacingAndGlyphs" >2</text>
<text x="626.35" y="261.3" font-size="21.2" stroke="#fff" stroke-width="0.19" textLength="10.59" lengthAdjust="spacingAndGlyphs" >0</text>
<text x="665.5" y="261.3" font-size="21.2" stroke="#fff" stroke-width="0.19" textLength="20.99" lengthAdjust="spacingAndGlyphs" >20</text>
<text x="709.85" y="261.3" font-size="21.2" stroke="#fff" stroke-width="0.19" textLength="20.99" lengthAdjust="spacingAndGlyphs" >40</text>
<text x="753.6" y="261.3" font-size="21.2" stroke="#fff" stroke-width="0.19" textLength="20.58" lengthAdjust="spacingAndGlyphs" >60</text>
<text x="644.66" y="131" font-size="19.2" stroke="#fff" stroke-width="0.17" textLength="17.12" lengthAdjust="spacingAndGlyphs" >10</text>
<text x="675.95" y="124.6" font-size="13.8" stroke="#fff" stroke-width="0.12" textLength="6.9" lengthAdjust="spacingAndGlyphs" >2</text>
<text transform="translate(604.35,233.2) rotate(-90)" font-size="20" stroke="#fff" stroke-width="0.18" textLength="89.13" lengthAdjust="spacingAndGlyphs" >Abs. error</text>
<g transform="translate(682.85,276.7) scale(0.5,0.56)"><text x="0.3" y="0" font-size="26.2" font-style="italic" stroke="#fff" stroke-width="0.23" transform="scale(1.20,1)">D</text><text x="0" y="0" font-size="26.2" font-style="italic" stroke="#fff" stroke-width="0.23" transform="translate(25.4,0) scale(1.0,1)">t</text><line x1="36.0" y1="6.7" x2="46.0" y2="-19.9" stroke="#000" stroke-width="1.76"/><text x="0" y="0" font-size="25"  stroke="#fff" stroke-width="0.23" transform="translate(48.6,0) scale(1.06,1)">2</text></g>
<text x="94.95" y="647.6" font-size="24.9" stroke="#fff" stroke-width="0.22" textLength="26.39" lengthAdjust="spacingAndGlyphs" >10</text>
<text x="148.7" y="647.6" font-size="24.9" stroke="#fff" stroke-width="0.22" textLength="25.27" lengthAdjust="spacingAndGlyphs" >20</text>
<text x="201.34" y="647.6" font-size="24.9" stroke="#fff" stroke-width="0.22" textLength="25.27" lengthAdjust="spacingAndGlyphs" >30</text>
<text x="255" y="647.6" font-size="24.9" stroke="#fff" stroke-width="0.22" textLength="24.23" lengthAdjust="spacingAndGlyphs" >40</text>
<text x="306.62" y="647.6" font-size="24.9" stroke="#fff" stroke-width="0.22" textLength="25.27" lengthAdjust="spacingAndGlyphs" >50</text>
<text x="359.26" y="647.6" font-size="24.9" stroke="#fff" stroke-width="0.22" textLength="25.27" lengthAdjust="spacingAndGlyphs" >60</text>
<text x="31.26" y="555.31" font-size="24.9" stroke="#fff" stroke-width="0.22" textLength="27.83" lengthAdjust="spacingAndGlyphs" >10</text>
<text x="61" y="546.21" font-size="18.6" stroke="#fff" stroke-width="0.17" textLength="11.88" lengthAdjust="spacingAndGlyphs" >3</text>
<text x="31.26" y="442.59" font-size="24.9" stroke="#fff" stroke-width="0.22" textLength="27.83" lengthAdjust="spacingAndGlyphs" >10</text>
<text x="61" y="433.49" font-size="18.6" stroke="#fff" stroke-width="0.17" textLength="11.88" lengthAdjust="spacingAndGlyphs" >4</text>
<path d="M7.7,356.4 Q-4.9,368.55 7.7,380.7 Q-1.8,368.55 7.7,356.4 Z" fill="#000" stroke="#000" stroke-width="0.45" stroke-linejoin="round"/>
<text x="10" y="374.9" font-size="24.8" stroke="#fff" stroke-width="0.22" textLength="12.11" lengthAdjust="spacingAndGlyphs" >c</text>
<path d="M24.3,356.4 Q36.9,368.55 24.3,380.7 Q33.8,368.55 24.3,356.4 Z" fill="#000" stroke="#000" stroke-width="0.45" stroke-linejoin="round"/>
<g transform="translate(210.6,668.9) scale(1,1)"><text x="0.3" y="0" font-size="26.2" font-style="italic" stroke="#fff" stroke-width="0.23" transform="scale(1.20,1)">D</text><text x="0" y="0" font-size="26.2" font-style="italic" stroke="#fff" stroke-width="0.23" transform="translate(25.4,0) scale(1.0,1)">t</text><line x1="36.0" y1="6.7" x2="46.0" y2="-19.9" stroke="#000" stroke-width="1.25"/><text x="0" y="0" font-size="25"  stroke="#fff" stroke-width="0.23" transform="translate(48.6,0) scale(1.06,1)">2</text></g>
<text transform="translate(23.9,567.3) rotate(-90)" font-size="27.6" stroke="#fff" stroke-width="0.25" textLength="108.48" lengthAdjust="spacingAndGlyphs" >Runtime</text>
<path d="M7,-21.8 Q-7,-8.3 7,5.2 Q-3.8,-8.3 7,-21.8 Z" fill="#000" stroke="#000" stroke-width="0.45" stroke-linejoin="round" transform="translate(23.9,448.1) rotate(-90)"/>
<text transform="translate(23.9,439.89) rotate(-90)" font-size="27.6" stroke="#fff" stroke-width="0.25" textLength="11.69" lengthAdjust="spacingAndGlyphs" >s</text>
<path d="M0,-21.8 Q14,-8.3 0,5.2 Q10.8,-8.3 0,-21.8 Z" fill="#000" stroke="#000" stroke-width="0.45" stroke-linejoin="round" transform="translate(23.9,426.3) rotate(-90)"/>
<text x="188.6" y="384.8" font-size="16.3" stroke="#fff" stroke-width="0.12" textLength="28.54" lengthAdjust="spacingAndGlyphs" >2.99</text>
<path d="M242.3,374.2 Q234.5,381.2 242.3,388.2 Q236.5,381.2 242.3,374.2 Z" fill="#000" stroke="#000" stroke-width="0.45" stroke-linejoin="round"/>
<g transform="translate(244.6,384.8) scale(0.6,0.62)"><text x="0.3" y="0" font-size="26.2" font-style="italic" stroke="#fff" stroke-width="0.25" transform="scale(1.20,1)">D</text><text x="0" y="0" font-size="26.2" font-style="italic" stroke="#fff" stroke-width="0.25" transform="translate(25.4,0) scale(1.0,1)">t</text><line x1="36.0" y1="6.7" x2="46.0" y2="-19.9" stroke="#000" stroke-width="1.62"/><text x="0" y="0" font-size="25"  stroke="#fff" stroke-width="0.25" transform="translate(48.6,0) scale(1.06,1)">2</text></g>
<path d="M282.1,374.2 Q289.9,381.2 282.1,388.2 Q287.9,381.2 282.1,374.2 Z" fill="#000" stroke="#000" stroke-width="0.45" stroke-linejoin="round"/>
<text x="287.9" y="379.6" font-size="12.6" stroke="#fff" stroke-width="0.08" textLength="24.23" lengthAdjust="spacingAndGlyphs" >2.20</text>
<text x="179.9" y="409" font-size="16.3" stroke="#fff" stroke-width="0.12" textLength="37.24" lengthAdjust="spacingAndGlyphs" >31.02</text>
<path d="M242.3,398.4 Q234.5,405.4 242.3,412.4 Q236.5,405.4 242.3,398.4 Z" fill="#000" stroke="#000" stroke-width="0.45" stroke-linejoin="round"/>
<g transform="translate(244.6,409) scale(0.6,0.62)"><text x="0.3" y="0" font-size="26.2" font-style="italic" stroke="#fff" stroke-width="0.25" transform="scale(1.20,1)">D</text><text x="0" y="0" font-size="26.2" font-style="italic" stroke="#fff" stroke-width="0.25" transform="translate(25.4,0) scale(1.0,1)">t</text><line x1="36.0" y1="6.7" x2="46.0" y2="-19.9" stroke="#000" stroke-width="1.62"/><text x="0" y="0" font-size="25"  stroke="#fff" stroke-width="0.25" transform="translate(48.6,0) scale(1.06,1)">2</text></g>
<path d="M282.1,398.4 Q289.9,405.4 282.1,412.4 Q287.9,405.4 282.1,398.4 Z" fill="#000" stroke="#000" stroke-width="0.45" stroke-linejoin="round"/>
<text x="286.75" y="403.8" font-size="12.6" stroke="#fff" stroke-width="0.08" textLength="25.39" lengthAdjust="spacingAndGlyphs" >1.10</text>
<text x="510.8" y="647.6" font-size="24.9" stroke="#fff" stroke-width="0.22" textLength="26.39" lengthAdjust="spacingAndGlyphs" >10</text>
<text x="564.53" y="647.6" font-size="24.9" stroke="#fff" stroke-width="0.22" textLength="25.27" lengthAdjust="spacingAndGlyphs" >20</text>
<text x="617.17" y="647.6" font-size="24.9" stroke="#fff" stroke-width="0.22" textLength="25.27" lengthAdjust="spacingAndGlyphs" >30</text>
<text x="670.82" y="647.6" font-size="24.9" stroke="#fff" stroke-width="0.22" textLength="24.23" lengthAdjust="spacingAndGlyphs" >40</text>
<text x="722.43" y="647.6" font-size="24.9" stroke="#fff" stroke-width="0.22" textLength="25.27" lengthAdjust="spacingAndGlyphs" >50</text>
<text x="775.07" y="647.6" font-size="24.9" stroke="#fff" stroke-width="0.22" textLength="25.27" lengthAdjust="spacingAndGlyphs" >60</text>
<text x="446.06" y="555.31" font-size="24.9" stroke="#fff" stroke-width="0.22" textLength="27.83" lengthAdjust="spacingAndGlyphs" >10</text>
<text x="475.8" y="546.21" font-size="18.6" stroke="#fff" stroke-width="0.17" textLength="11.88" lengthAdjust="spacingAndGlyphs" >3</text>
<text x="446.06" y="442.59" font-size="24.9" stroke="#fff" stroke-width="0.22" textLength="27.83" lengthAdjust="spacingAndGlyphs" >10</text>
<text x="475.8" y="433.49" font-size="18.6" stroke="#fff" stroke-width="0.17" textLength="11.88" lengthAdjust="spacingAndGlyphs" >4</text>
<path d="M419.1,356.2 Q406.5,368.35 419.1,380.5 Q409.6,368.35 419.1,356.2 Z" fill="#000" stroke="#000" stroke-width="0.45" stroke-linejoin="round"/>
<text x="421.4" y="374.7" font-size="24.8" stroke="#fff" stroke-width="0.22" textLength="14.69" lengthAdjust="spacingAndGlyphs" >d</text>
<path d="M439,356.2 Q451.6,368.35 439,380.5 Q448.5,368.35 439,356.2 Z" fill="#000" stroke="#000" stroke-width="0.45" stroke-linejoin="round"/>
<g transform="translate(626.45,668.9) scale(1,1)"><text x="0.3" y="0" font-size="26.2" font-style="italic" stroke="#fff" stroke-width="0.23" transform="scale(1.20,1)">D</text><text x="0" y="0" font-size="26.2" font-style="italic" stroke="#fff" stroke-width="0.23" transform="translate(25.4,0) scale(1.0,1)">t</text><line x1="36.0" y1="6.7" x2="46.0" y2="-19.9" stroke="#000" stroke-width="1.25"/><text x="0" y="0" font-size="25"  stroke="#fff" stroke-width="0.23" transform="translate(48.6,0) scale(1.06,1)">2</text></g>
<text transform="translate(438.7,567.3) rotate(-90)" font-size="27.6" stroke="#fff" stroke-width="0.25" textLength="108.48" lengthAdjust="spacingAndGlyphs" >Runtime</text>
<path d="M7,-21.8 Q-7,-8.3 7,5.2 Q-3.8,-8.3 7,-21.8 Z" fill="#000" stroke="#000" stroke-width="0.45" stroke-linejoin="round" transform="translate(438.7,448.1) rotate(-90)"/>
<text transform="translate(438.7,439.89) rotate(-90)" font-size="27.6" stroke="#fff" stroke-width="0.25" textLength="11.69" lengthAdjust="spacingAndGlyphs" >s</text>
<path d="M0,-21.8 Q14,-8.3 0,5.2 Q10.8,-8.3 0,-21.8 Z" fill="#000" stroke="#000" stroke-width="0.45" stroke-linejoin="round" transform="translate(438.7,426.3) rotate(-90)"/>
<text x="604.45" y="384.8" font-size="16.3" stroke="#fff" stroke-width="0.12" textLength="28.54" lengthAdjust="spacingAndGlyphs" >5.23</text>
<path d="M658.15,374.2 Q650.35,381.2 658.15,388.2 Q652.35,381.2 658.15,374.2 Z" fill="#000" stroke="#000" stroke-width="0.45" stroke-linejoin="round"/>
<g transform="translate(660.45,384.8) scale(0.6,0.62)"><text x="0.3" y="0" font-size="26.2" font-style="italic" stroke="#fff" stroke-width="0.25" transform="scale(1.20,1)">D</text><text x="0" y="0" font-size="26.2" font-style="italic" stroke="#fff" stroke-width="0.25" transform="translate(25.4,0) scale(1.0,1)">t</text><line x1="36.0" y1="6.7" x2="46.0" y2="-19.9" stroke="#000" stroke-width="1.62"/><text x="0" y="0" font-size="25"  stroke="#fff" stroke-width="0.25" transform="translate(48.6,0) scale(1.06,1)">2</text></g>
<path d="M697.95,374.2 Q705.75,381.2 697.95,388.2 Q703.75,381.2 697.95,374.2 Z" fill="#000" stroke="#000" stroke-width="0.45" stroke-linejoin="round"/>
<text x="703.75" y="379.6" font-size="12.6" stroke="#fff" stroke-width="0.08" textLength="24.23" lengthAdjust="spacingAndGlyphs" >2.08</text>
<text x="594.7" y="409" font-size="16.3" stroke="#fff" stroke-width="0.12" textLength="38.29" lengthAdjust="spacingAndGlyphs" >78.24</text>
<path d="M658.15,398.4 Q650.35,405.4 658.15,412.4 Q652.35,405.4 658.15,398.4 Z" fill="#000" stroke="#000" stroke-width="0.45" stroke-linejoin="round"/>
<g transform="translate(660.45,409) scale(0.6,0.62)"><text x="0.3" y="0" font-size="26.2" font-style="italic" stroke="#fff" stroke-width="0.25" transform="scale(1.20,1)">D</text><text x="0" y="0" font-size="26.2" font-style="italic" stroke="#fff" stroke-width="0.25" transform="translate(25.4,0) scale(1.0,1)">t</text><line x1="36.0" y1="6.7" x2="46.0" y2="-19.9" stroke="#000" stroke-width="1.62"/><text x="0" y="0" font-size="25"  stroke="#fff" stroke-width="0.25" transform="translate(48.6,0) scale(1.06,1)">2</text></g>
<path d="M697.95,398.4 Q705.75,405.4 697.95,412.4 Q703.75,405.4 697.95,398.4 Z" fill="#000" stroke="#000" stroke-width="0.45" stroke-linejoin="round"/>
<text x="702.6" y="403.8" font-size="12.6" stroke="#fff" stroke-width="0.08" textLength="25.39" lengthAdjust="spacingAndGlyphs" >1.22</text>
</g>
</svg>
</body></html>
